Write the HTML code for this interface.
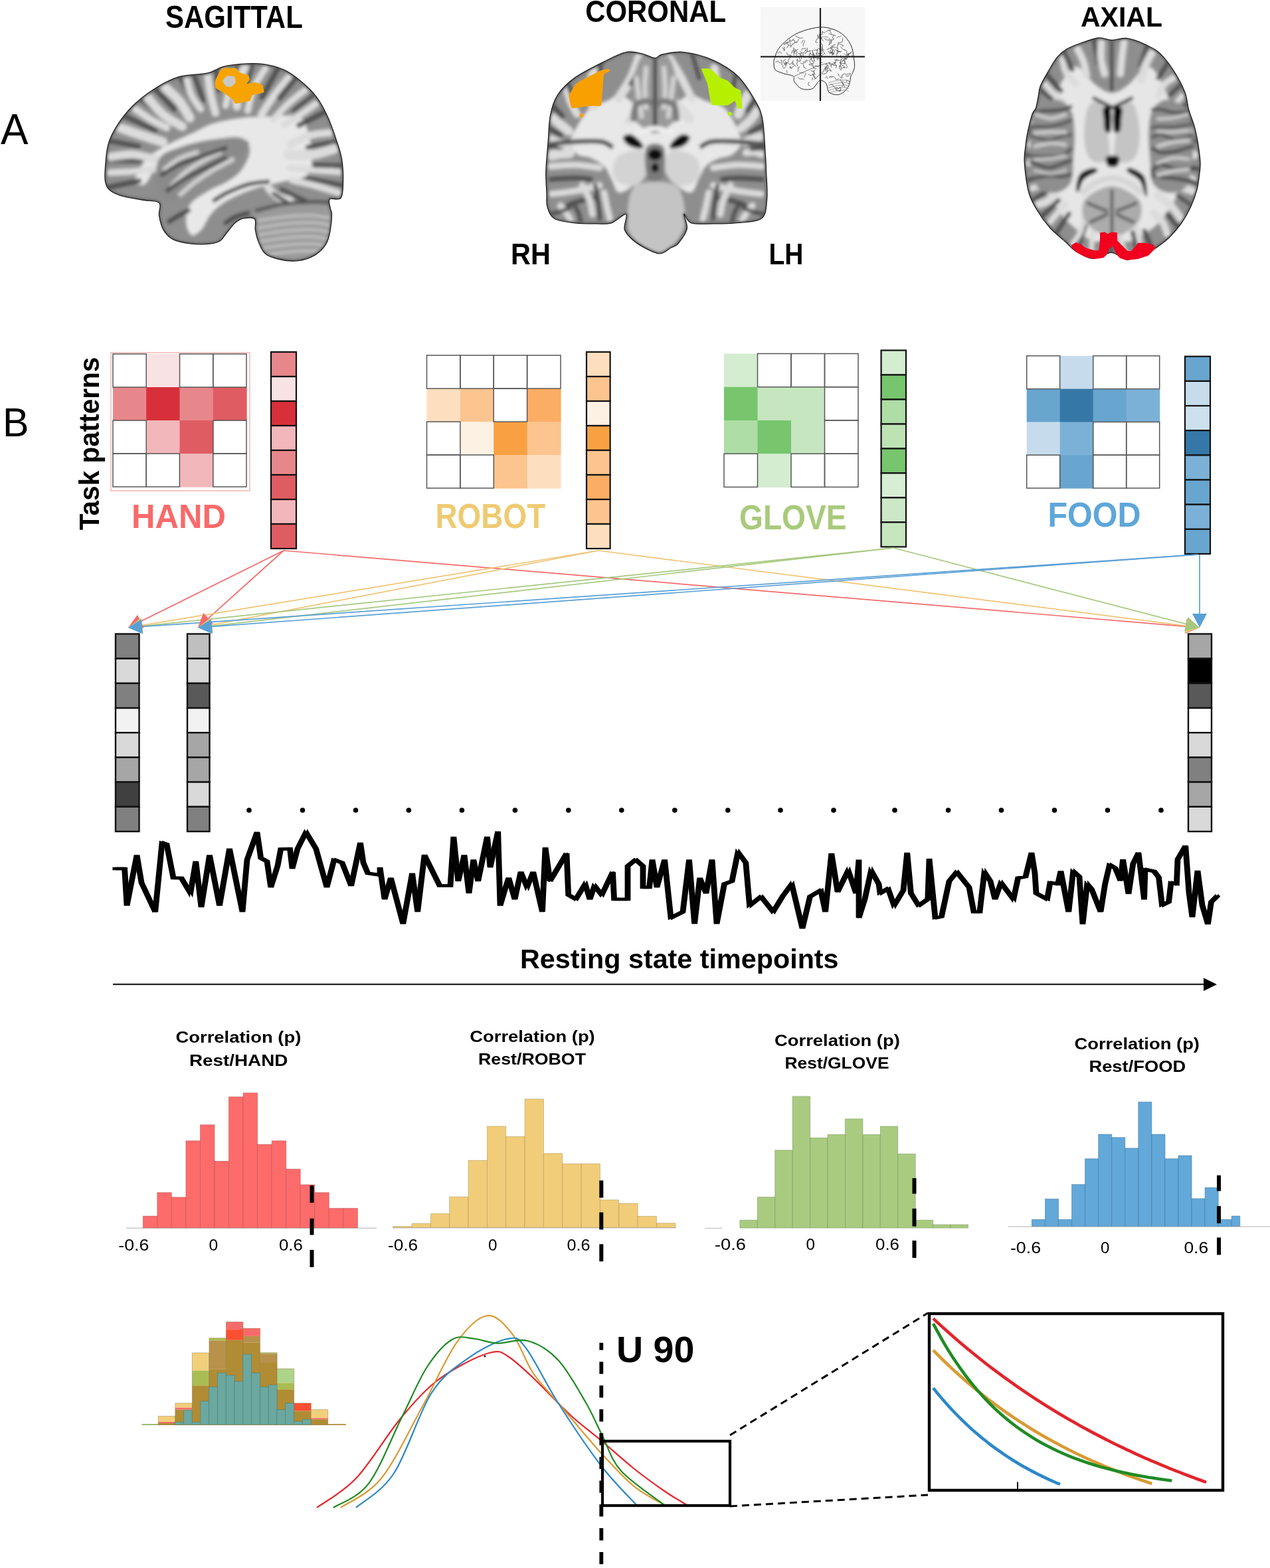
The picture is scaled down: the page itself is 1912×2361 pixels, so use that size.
<!DOCTYPE html>
<html><head><meta charset="utf-8"><title>Figure</title>
<style>html,body{margin:0;padding:0;background:#fff;}svg{display:block;}</style>
</head><body>
<svg width="1912" height="2361" viewBox="0 0 1912 2361">
<rect width="1912" height="2361" fill="#fff"/>
<g font-family="'Liberation Sans', Arial, sans-serif">
<text x="249" y="41.5" font-size="47.2" font-weight="bold" fill="#000" text-anchor="start" textLength="206.8" lengthAdjust="spacingAndGlyphs">SAGITTAL</text>
<text x="881.2" y="32.5" font-size="46.5" font-weight="bold" fill="#000" text-anchor="start" textLength="211.8" lengthAdjust="spacingAndGlyphs">CORONAL</text>
<text x="1627" y="39.6" font-size="42.8" font-weight="bold" fill="#000" text-anchor="start" textLength="123" lengthAdjust="spacingAndGlyphs">AXIAL</text>
<text x="769" y="397.6" font-size="44.7" font-weight="bold" fill="#000" text-anchor="start" textLength="59.9" lengthAdjust="spacingAndGlyphs">RH</text>
<text x="1157.4" y="397.6" font-size="44.7" font-weight="bold" fill="#000" text-anchor="start" textLength="52" lengthAdjust="spacingAndGlyphs">LH</text>
<text x="1" y="217.1" font-size="64.4" font-weight="normal" fill="#000" text-anchor="start" textLength="41.5" lengthAdjust="spacingAndGlyphs">A</text>
<text x="4" y="657.3" font-size="62" font-weight="normal" fill="#000" text-anchor="start" textLength="39.5" lengthAdjust="spacingAndGlyphs">B</text>
</g>
<defs>
<filter id="gb3" x="-5%" y="-5%" width="110%" height="110%"><feGaussianBlur stdDeviation="2.6"/></filter>
<filter id="gb2" x="-5%" y="-5%" width="110%" height="110%"><feGaussianBlur stdDeviation="1.6"/></filter>
<filter id="gb5" x="-5%" y="-5%" width="110%" height="110%"><feGaussianBlur stdDeviation="5"/></filter>
</defs>
<clipPath id="cpS"><path d="M158.5,252 C159.2,242.7 159.9,228.2 162.8,217.9 C165.6,207.6 169.5,199.8 175.6,190.2 C181.6,180.6 189.8,169.6 199,160.3 C208.3,151.1 219.3,142.2 231,134.8 C242.7,127.3 255.9,119.7 269.4,115.6 C282.9,111.5 301,112.7 312,110.2 C323,107.8 326.9,103 335.4,100.7 C343.9,98.3 353.2,97.1 363.1,96.4 C373.1,95.7 384.4,95 395.1,96.4 C405.8,97.8 417.5,100.7 427.1,104.9 C436.7,109.2 444.5,115.2 452.6,122 C460.8,128.7 469.3,136.5 476.1,145.4 C482.8,154.3 488.2,164.6 493.1,175.3 C498.1,185.9 502.4,198.7 505.9,209.4 C509.5,220 512.7,228.9 514.5,239.2 C516.2,249.5 516.8,261.4 516.6,271.2 C516.4,280.9 516.8,293 513.4,297.8 C510,302.6 499,297.3 496.3,299.9 C493.7,302.6 496.9,310.1 497.4,313.8 C497.9,317.5 499.5,317 499.5,322.3 C499.5,327.6 498.8,338.3 497.4,345.8 C496,353.2 494.9,360.7 491,367.1 C487.1,373.5 481.1,379.9 474,384.1 C466.9,388.4 457.3,391.6 448.4,392.6 C439.5,393.7 428.8,392.3 420.7,390.5 C412.5,388.7 404.7,386.6 399.4,382 C394,377.4 391.2,368.8 388.7,362.8 C386.2,356.8 385.3,351.3 384.4,345.8 C383.6,340.2 386.2,332.6 383.4,329.8 C380.5,326.9 372.2,327.8 367.4,328.7 C362.6,329.6 358.9,331.5 354.6,335.1 C350.3,338.7 345.7,345.4 341.8,350 C337.9,354.6 335.4,360 331.2,362.8 C326.9,365.6 323.3,366.4 316.2,367.1 C309.1,367.8 297.8,368.1 288.5,367.1 C279.3,366 267.9,364.2 260.8,360.7 C253.7,357.1 249.5,351.8 245.9,345.8 C242.4,339.7 240.6,331.2 239.5,324.4 C238.4,317.7 243.8,309.2 239.5,305.3 C235.3,301.4 223.5,302.8 213.9,301 C204.3,299.2 190.1,297.1 182,294.6 C173.8,292.1 168.8,289.6 164.9,286.1 C161,282.5 159.6,279 158.5,273.3 C157.5,267.6 157.8,261.2 158.5,252Z"/></clipPath>
<g clip-path="url(#cpS)">
<path d="M158.5,252 C159.2,242.7 159.9,228.2 162.8,217.9 C165.6,207.6 169.5,199.8 175.6,190.2 C181.6,180.6 189.8,169.6 199,160.3 C208.3,151.1 219.3,142.2 231,134.8 C242.7,127.3 255.9,119.7 269.4,115.6 C282.9,111.5 301,112.7 312,110.2 C323,107.8 326.9,103 335.4,100.7 C343.9,98.3 353.2,97.1 363.1,96.4 C373.1,95.7 384.4,95 395.1,96.4 C405.8,97.8 417.5,100.7 427.1,104.9 C436.7,109.2 444.5,115.2 452.6,122 C460.8,128.7 469.3,136.5 476.1,145.4 C482.8,154.3 488.2,164.6 493.1,175.3 C498.1,185.9 502.4,198.7 505.9,209.4 C509.5,220 512.7,228.9 514.5,239.2 C516.2,249.5 516.8,261.4 516.6,271.2 C516.4,280.9 516.8,293 513.4,297.8 C510,302.6 499,297.3 496.3,299.9 C493.7,302.6 496.9,310.1 497.4,313.8 C497.9,317.5 499.5,317 499.5,322.3 C499.5,327.6 498.8,338.3 497.4,345.8 C496,353.2 494.9,360.7 491,367.1 C487.1,373.5 481.1,379.9 474,384.1 C466.9,388.4 457.3,391.6 448.4,392.6 C439.5,393.7 428.8,392.3 420.7,390.5 C412.5,388.7 404.7,386.6 399.4,382 C394,377.4 391.2,368.8 388.7,362.8 C386.2,356.8 385.3,351.3 384.4,345.8 C383.6,340.2 386.2,332.6 383.4,329.8 C380.5,326.9 372.2,327.8 367.4,328.7 C362.6,329.6 358.9,331.5 354.6,335.1 C350.3,338.7 345.7,345.4 341.8,350 C337.9,354.6 335.4,360 331.2,362.8 C326.9,365.6 323.3,366.4 316.2,367.1 C309.1,367.8 297.8,368.1 288.5,367.1 C279.3,366 267.9,364.2 260.8,360.7 C253.7,357.1 249.5,351.8 245.9,345.8 C242.4,339.7 240.6,331.2 239.5,324.4 C238.4,317.7 243.8,309.2 239.5,305.3 C235.3,301.4 223.5,302.8 213.9,301 C204.3,299.2 190.1,297.1 182,294.6 C173.8,292.1 168.8,289.6 164.9,286.1 C161,282.5 159.6,279 158.5,273.3 C157.5,267.6 157.8,261.2 158.5,252Z" fill="#8e8e8e"/>
<g filter="url(#gb3)">
<path d="M203.3,271.2 C203.6,264.8 212.2,248.1 220.3,239.2 C228.5,230.3 240.9,224.3 252.3,217.9 C263.7,211.5 277.2,206.2 288.5,200.8 C299.9,195.5 308.1,189.8 320.5,185.9 C332.9,182 348.9,179.2 363.1,177.4 C377.3,175.6 391.5,175.6 405.8,175.3 C420,174.9 438.8,171.7 448.4,175.3 C458,178.8 459.7,185.9 463.3,196.6 C466.9,207.2 470,227.8 469.7,239.2 C469.3,250.6 468.3,259.1 461.2,264.8 C454.1,270.4 439.9,270.1 427.1,273.3 C414.3,276.5 396.9,280 384.4,283.9 C372,287.9 361.4,292.5 352.5,296.7 C343.6,301 337.2,304.9 331.2,309.5 C325.1,314.1 320.9,318.4 316.2,324.4 C311.6,330.5 308.1,340.8 303.5,345.8 C298.8,350.7 292.4,356.1 288.5,354.3 C284.6,352.5 280.4,342.9 280,335.1 C279.7,327.3 281.1,315.2 286.4,307.4 C291.7,299.6 302.7,293.9 312,288.2 C321.2,282.5 333.3,278.6 341.8,273.3 C350.3,268 357.4,263.7 363.1,256.2 C368.8,248.8 375.2,236.3 375.9,228.5 C376.6,220.7 373.1,212.9 367.4,209.4 C361.7,205.8 353.2,205.8 341.8,207.2 C330.4,208.6 312.7,213.6 299.2,217.9 C285.7,222.1 271.5,227.1 260.8,232.8 C250.2,238.5 242.4,244.5 235.3,252 C228.1,259.4 223.5,274.4 218.2,277.6 C212.9,280.8 202.9,277.6 203.3,271.2Z" fill="#e8e8e8"/>
<path d="M435.8,252.8 C442,253.4 460.5,255.3 472.8,256.3 C485.1,257.3 503.7,258.5 509.9,258.9" fill="none" stroke="#dcdcdc" stroke-width="10" stroke-linecap="round"/>
<path d="M462.1,268.6 C471.4,270.4 508.4,277.5 517.6,279.3" fill="none" stroke="#4f4f4f" stroke-width="6.5" stroke-linecap="round"/>
<path d="M439.8,271.7 C445.7,273.1 463.5,276.9 475.2,280 C486.9,283.2 504.3,288.7 510.1,290.4" fill="none" stroke="#dcdcdc" stroke-width="10.1" stroke-linecap="round"/>
<path d="M423.4,285.1 C429.7,288.1 454.6,300.1 460.8,303.1" fill="none" stroke="#4f4f4f" stroke-width="5.8" stroke-linecap="round"/>
<path d="M403.2,282.2 C405.6,284.5 411.9,292.4 417.4,295.7 C422.9,298.9 433.1,300.7 436.2,301.7" fill="none" stroke="#dcdcdc" stroke-width="11.7" stroke-linecap="round"/>
<path d="M412.1,291.8 C416,294.4 431.7,304.6 435.6,307.1" fill="none" stroke="#4f4f4f" stroke-width="6" stroke-linecap="round"/>
<path d="M209.4,272.3 C201.4,274 169,280.8 161,282.5" fill="none" stroke="#4f4f4f" stroke-width="7.5" stroke-linecap="round"/>
<path d="M238.6,253.7 C232.5,254.4 214.3,256.9 202.1,257.9 C189.9,259 171.6,259.6 165.4,259.9" fill="none" stroke="#dcdcdc" stroke-width="10.2" stroke-linecap="round"/>
<path d="M213.3,242.2 C204,242 167.1,241.2 157.9,241" fill="none" stroke="#4f4f4f" stroke-width="6.5" stroke-linecap="round"/>
<path d="M232.9,239.5 C227.5,238.3 211.3,233.1 200.2,232.5 C189.2,231.9 172.4,235.4 166.8,236" fill="none" stroke="#dcdcdc" stroke-width="12.7" stroke-linecap="round"/>
<path d="M208.6,220.4 C201,219 170.9,213.3 163.4,211.9" fill="none" stroke="#4f4f4f" stroke-width="6.7" stroke-linecap="round"/>
<path d="M245.2,213.8 C239.9,212.1 223.8,207.2 213.2,203.7 C202.6,200.2 186.8,194.7 181.5,192.9" fill="none" stroke="#dcdcdc" stroke-width="14.7" stroke-linecap="round"/>
<path d="M234,196.2 C226,192.5 193.8,177.7 185.8,174" fill="none" stroke="#4f4f4f" stroke-width="7" stroke-linecap="round"/>
<path d="M250.9,192.3 C246.8,190.2 234.5,184.3 226.6,179.7 C218.8,175 207.7,167 203.9,164.5" fill="none" stroke="#dcdcdc" stroke-width="11.1" stroke-linecap="round"/>
<path d="M251.6,179 C244.8,174 217.5,153.6 210.7,148.5" fill="none" stroke="#4f4f4f" stroke-width="6.4" stroke-linecap="round"/>
<path d="M274.4,190.5 C269.6,187.4 254.3,179.5 245.5,172.2 C236.8,165 226.1,151.2 222.2,147" fill="none" stroke="#dcdcdc" stroke-width="13.7" stroke-linecap="round"/>
<path d="M262.6,164.2 C257.5,158.9 237,137.5 231.9,132.2" fill="none" stroke="#4f4f4f" stroke-width="7.5" stroke-linecap="round"/>
<path d="M285.7,177.4 C283.1,173.3 276.4,160 270.3,152.4 C264.2,144.8 252.6,135.3 249.1,131.9" fill="none" stroke="#dcdcdc" stroke-width="14.4" stroke-linecap="round"/>
<path d="M290.5,152.3 C287.1,145.9 273.3,120.1 269.9,113.6" fill="none" stroke="#4f4f4f" stroke-width="6.3" stroke-linecap="round"/>
<path d="M302.1,164.2 C299.9,160.9 292,151.3 288.6,144 C285.2,136.8 282.8,124.5 281.7,120.6" fill="none" stroke="#dcdcdc" stroke-width="10.4" stroke-linecap="round"/>
<path d="M306,151 C303.6,144.3 293.9,117.5 291.5,110.8" fill="none" stroke="#4f4f4f" stroke-width="6.5" stroke-linecap="round"/>
<path d="M324.4,170 C323.2,165.4 319.2,151.7 317.3,142.4 C315.3,133.1 313.6,118.9 312.8,114.2" fill="none" stroke="#dcdcdc" stroke-width="11.9" stroke-linecap="round"/>
<path d="M328.8,136.1 C328.2,130.6 325.9,108.3 325.4,102.7" fill="none" stroke="#4f4f4f" stroke-width="7" stroke-linecap="round"/>
<path d="M339.7,159.2 C340.5,154.8 344.2,141.6 344.1,132.7 C344.1,123.8 340.3,110.5 339.6,106" fill="none" stroke="#dcdcdc" stroke-width="9.9" stroke-linecap="round"/>
<path d="M354.8,131.2 C355.6,125.2 358.7,101 359.5,95" fill="none" stroke="#4f4f4f" stroke-width="7.3" stroke-linecap="round"/>
<path d="M356.6,160.3 C356.7,155.2 355.5,139.5 357.4,129.6 C359.4,119.6 366.5,105.5 368.3,100.6" fill="none" stroke="#dcdcdc" stroke-width="13" stroke-linecap="round"/>
<path d="M368.5,139.7 C370.5,132.1 378.7,102 380.7,94.5" fill="none" stroke="#4f4f4f" stroke-width="5.6" stroke-linecap="round"/>
<path d="M373,166.4 C374.5,160.7 377.6,143.1 382.1,132.3 C386.6,121.6 397.1,106.9 400.1,101.8" fill="none" stroke="#dcdcdc" stroke-width="10.4" stroke-linecap="round"/>
<path d="M394.4,146.5 C398.6,138.9 415.4,108.5 419.6,100.9" fill="none" stroke="#4f4f4f" stroke-width="7.5" stroke-linecap="round"/>
<path d="M393.4,172.6 C396.6,167.8 405.9,152.8 412.9,143.3 C419.8,133.9 431.4,120.6 435.1,116" fill="none" stroke="#dcdcdc" stroke-width="11.5" stroke-linecap="round"/>
<path d="M420.7,147 C425,141.7 442.3,120.8 446.6,115.5" fill="none" stroke="#4f4f4f" stroke-width="7.8" stroke-linecap="round"/>
<path d="M411.2,179.9 C415,175.9 426,163.5 434.1,156.1 C442.3,148.6 455.6,138.7 459.9,135.2" fill="none" stroke="#dcdcdc" stroke-width="10.2" stroke-linecap="round"/>
<path d="M441.7,166.5 C447.1,162.2 469.1,145.3 474.6,141.1" fill="none" stroke="#4f4f4f" stroke-width="5.6" stroke-linecap="round"/>
<path d="M427.9,187.6 C431.9,185.1 444.2,177.7 452.2,172.5 C460.2,167.2 471.9,159 475.9,156.3" fill="none" stroke="#dcdcdc" stroke-width="10.4" stroke-linecap="round"/>
<path d="M450.1,188.6 C457,185.1 484.3,171.1 491.1,167.7" fill="none" stroke="#4f4f4f" stroke-width="7.7" stroke-linecap="round"/>
<path d="M437,217 C441.8,214.9 455.8,207 465.8,204.1 C475.8,201.2 492,200.4 497.2,199.7" fill="none" stroke="#dcdcdc" stroke-width="11.6" stroke-linecap="round"/>
<path d="M463.3,221.8 C471,220.4 501.5,214.7 509.1,213.2" fill="none" stroke="#4f4f4f" stroke-width="7.2" stroke-linecap="round"/>
<path d="M433.8,233 C439.7,233 457.6,234.6 469.2,233.1 C480.8,231.6 497.8,225.6 503.5,224.1" fill="none" stroke="#dcdcdc" stroke-width="14.9" stroke-linecap="round"/>
<path d="M473.8,248.7 C481,248.9 509.9,249.6 517.2,249.8" fill="none" stroke="#4f4f4f" stroke-width="7.1" stroke-linecap="round"/>
<path d="M239.5,239.2 C245.2,229.2 257.6,226.8 269.4,222.1 C281.1,217.5 296,214 309.8,211.5 C323.7,209 341.8,206.9 352.5,207.2 C363.1,207.6 370.6,210.4 373.8,213.6 C377,216.8 374.1,222.1 371.7,226.4 C369.2,230.7 364.5,234.9 358.9,239.2 C353.2,243.5 345.4,247 337.6,252 C329.7,257 320.1,263 312,269 C303.8,275.1 295.6,283.2 288.5,288.2 C281.4,293.2 275.7,296.7 269.4,298.9 C263,301 255.9,303.8 250.2,301 C244.5,298.2 237,292.1 235.3,281.8 C233.5,271.5 233.8,249.1 239.5,239.2Z" fill="#8a8a8a"/>
<path d="M256.6,281.8 C260.1,278.3 270.1,266.9 277.9,260.5 C285.7,254.1 294.2,248.8 303.5,243.5 C312.7,238.1 328.3,231 333.3,228.5" fill="none" stroke="#d0d0d0" stroke-width="7"/>
<path d="M269.4,294.6 C273.6,291.1 286.4,279.7 294.9,273.3 C303.5,266.9 310.9,261.9 320.5,256.2 C330.1,250.6 347.1,242 352.5,239.2" fill="none" stroke="#d0d0d0" stroke-width="7"/>
<path d="M245.9,256.2 C249.8,253.4 260.5,243.8 269.4,239.2 C278.2,234.6 294.2,230.3 299.2,228.5" fill="none" stroke="#d0d0d0" stroke-width="7"/>
<path d="M241.6,264.8 C246.3,261.9 259.8,252.3 269.4,247.7 C278.9,243.1 287.1,241.3 299.2,237.1 C311.3,232.8 334.7,224.6 341.8,222.1" fill="none" stroke="#4a4a4a" stroke-width="6"/>
<path d="M250.2,288.2 C254.8,285 268.3,274.7 277.9,269 C287.5,263.3 297.1,259.4 307.7,254.1 C318.4,248.8 336.1,239.9 341.8,237.1" fill="none" stroke="#4a4a4a" stroke-width="6"/>
<path d="M320.5,303.1 C324.1,301 332.9,294.6 341.8,290.3 C350.7,286.1 363.1,280.4 373.8,277.6 C384.4,274.7 400.4,274 405.8,273.3" fill="none" stroke="#4a4a4a" stroke-width="6"/>
<path d="M252.3,335.1 C255.1,333.3 263.7,327.6 269.4,324.4 C275,321.2 283.6,317.3 286.4,315.9" fill="none" stroke="#4a4a4a" stroke-width="6"/>
<path d="M337.6,337.2 C340.4,335.5 348.2,329.4 354.6,326.6 C361,323.7 372.4,321.2 375.9,320.2" fill="none" stroke="#4a4a4a" stroke-width="6"/>
<path d="M384.4,320.2 C391.5,314.1 412.9,312 427.1,309.5 C441.3,307 457.6,304.9 469.7,305.3 C481.8,305.6 494.4,304.9 499.5,311.7 C504.7,318.4 502,336.5 500.6,345.8 C499.2,355 495.4,360.7 491,367.1 C486.6,373.5 481.1,379.9 474,384.1 C466.9,388.4 457.3,391.6 448.4,392.6 C439.5,393.7 428.8,392.3 420.7,390.5 C412.5,388.7 404.7,386.6 399.4,382 C394,377.4 391.2,368.8 388.7,362.8 C386.2,356.8 385.2,352.9 384.4,345.8 C383.7,338.7 377.3,326.2 384.4,320.2Z" fill="#9a9a9a"/>
<path d="M386.6,333 C393.3,331.9 413.2,328 427.1,326.6 C440.9,325.2 457.6,324.1 469.7,324.4 C481.8,324.8 494.6,328 499.5,328.7" fill="none" stroke="#c8c8c8" stroke-width="3.5"/>
<path d="M386.6,343.6 C393.3,342.6 413.2,338.7 427.1,337.2 C440.9,335.8 457.6,334.7 469.7,335.1 C481.8,335.5 494.6,338.7 499.5,339.4" fill="none" stroke="#c8c8c8" stroke-width="3.5"/>
<path d="M386.6,354.3 C393.3,353.2 413.2,349.3 427.1,347.9 C440.9,346.5 457.6,345.4 469.7,345.8 C481.8,346.1 494.6,349.3 499.5,350" fill="none" stroke="#c8c8c8" stroke-width="3.5"/>
<path d="M386.6,364.9 C393.3,363.9 413.2,360 427.1,358.5 C440.9,357.1 457.6,356.1 469.7,356.4 C481.8,356.8 494.6,360 499.5,360.7" fill="none" stroke="#c8c8c8" stroke-width="3.5"/>
<path d="M386.6,375.6 C393.3,374.5 413.2,370.6 427.1,369.2 C440.9,367.8 457.6,366.7 469.7,367.1 C481.8,367.4 494.6,370.6 499.5,371.3" fill="none" stroke="#c8c8c8" stroke-width="3.5"/>
<path d="M386.6,386.2 C393.3,385.2 413.2,381.3 427.1,379.9 C440.9,378.4 457.6,377.4 469.7,377.7 C481.8,378.1 494.6,381.3 499.5,382" fill="none" stroke="#c8c8c8" stroke-width="3.5"/>
<path d="M384.4,318 C391.5,316.3 412.9,309.7 427.1,307.4 C441.3,305.1 457.6,304.5 469.7,304.2 C481.8,303.8 494.6,305.1 499.5,305.3" fill="none" stroke="#505050" stroke-width="5"/>
</g>
<path d="M158.5,252 C159.2,242.7 159.9,228.2 162.8,217.9 C165.6,207.6 169.5,199.8 175.6,190.2 C181.6,180.6 189.8,169.6 199,160.3 C208.3,151.1 219.3,142.2 231,134.8 C242.7,127.3 255.9,119.7 269.4,115.6 C282.9,111.5 301,112.7 312,110.2 C323,107.8 326.9,103 335.4,100.7 C343.9,98.3 353.2,97.1 363.1,96.4 C373.1,95.7 384.4,95 395.1,96.4 C405.8,97.8 417.5,100.7 427.1,104.9 C436.7,109.2 444.5,115.2 452.6,122 C460.8,128.7 469.3,136.5 476.1,145.4 C482.8,154.3 488.2,164.6 493.1,175.3 C498.1,185.9 502.4,198.7 505.9,209.4 C509.5,220 512.7,228.9 514.5,239.2 C516.2,249.5 516.8,261.4 516.6,271.2 C516.4,280.9 516.8,293 513.4,297.8 C510,302.6 499,297.3 496.3,299.9 C493.7,302.6 496.9,310.1 497.4,313.8 C497.9,317.5 499.5,317 499.5,322.3 C499.5,327.6 498.8,338.3 497.4,345.8 C496,353.2 494.9,360.7 491,367.1 C487.1,373.5 481.1,379.9 474,384.1 C466.9,388.4 457.3,391.6 448.4,392.6 C439.5,393.7 428.8,392.3 420.7,390.5 C412.5,388.7 404.7,386.6 399.4,382 C394,377.4 391.2,368.8 388.7,362.8 C386.2,356.8 385.3,351.3 384.4,345.8 C383.6,340.2 386.2,332.6 383.4,329.8 C380.5,326.9 372.2,327.8 367.4,328.7 C362.6,329.6 358.9,331.5 354.6,335.1 C350.3,338.7 345.7,345.4 341.8,350 C337.9,354.6 335.4,360 331.2,362.8 C326.9,365.6 323.3,366.4 316.2,367.1 C309.1,367.8 297.8,368.1 288.5,367.1 C279.3,366 267.9,364.2 260.8,360.7 C253.7,357.1 249.5,351.8 245.9,345.8 C242.4,339.7 240.6,331.2 239.5,324.4 C238.4,317.7 243.8,309.2 239.5,305.3 C235.3,301.4 223.5,302.8 213.9,301 C204.3,299.2 190.1,297.1 182,294.6 C173.8,292.1 168.8,289.6 164.9,286.1 C161,282.5 159.6,279 158.5,273.3 C157.5,267.6 157.8,261.2 158.5,252Z" fill="none" stroke="#555" stroke-width="5" filter="url(#gb2)" opacity="0.6"/>
</g>
<path d="M158.5,252 C159.2,242.7 159.9,228.2 162.8,217.9 C165.6,207.6 169.5,199.8 175.6,190.2 C181.6,180.6 189.8,169.6 199,160.3 C208.3,151.1 219.3,142.2 231,134.8 C242.7,127.3 255.9,119.7 269.4,115.6 C282.9,111.5 301,112.7 312,110.2 C323,107.8 326.9,103 335.4,100.7 C343.9,98.3 353.2,97.1 363.1,96.4 C373.1,95.7 384.4,95 395.1,96.4 C405.8,97.8 417.5,100.7 427.1,104.9 C436.7,109.2 444.5,115.2 452.6,122 C460.8,128.7 469.3,136.5 476.1,145.4 C482.8,154.3 488.2,164.6 493.1,175.3 C498.1,185.9 502.4,198.7 505.9,209.4 C509.5,220 512.7,228.9 514.5,239.2 C516.2,249.5 516.8,261.4 516.6,271.2 C516.4,280.9 516.8,293 513.4,297.8 C510,302.6 499,297.3 496.3,299.9 C493.7,302.6 496.9,310.1 497.4,313.8 C497.9,317.5 499.5,317 499.5,322.3 C499.5,327.6 498.8,338.3 497.4,345.8 C496,353.2 494.9,360.7 491,367.1 C487.1,373.5 481.1,379.9 474,384.1 C466.9,388.4 457.3,391.6 448.4,392.6 C439.5,393.7 428.8,392.3 420.7,390.5 C412.5,388.7 404.7,386.6 399.4,382 C394,377.4 391.2,368.8 388.7,362.8 C386.2,356.8 385.3,351.3 384.4,345.8 C383.6,340.2 386.2,332.6 383.4,329.8 C380.5,326.9 372.2,327.8 367.4,328.7 C362.6,329.6 358.9,331.5 354.6,335.1 C350.3,338.7 345.7,345.4 341.8,350 C337.9,354.6 335.4,360 331.2,362.8 C326.9,365.6 323.3,366.4 316.2,367.1 C309.1,367.8 297.8,368.1 288.5,367.1 C279.3,366 267.9,364.2 260.8,360.7 C253.7,357.1 249.5,351.8 245.9,345.8 C242.4,339.7 240.6,331.2 239.5,324.4 C238.4,317.7 243.8,309.2 239.5,305.3 C235.3,301.4 223.5,302.8 213.9,301 C204.3,299.2 190.1,297.1 182,294.6 C173.8,292.1 168.8,289.6 164.9,286.1 C161,282.5 159.6,279 158.5,273.3 C157.5,267.6 157.8,261.2 158.5,252Z" fill="none" stroke="#1e1e1e" stroke-width="1.3"/>
<path d="M324.8,119.8 C325.3,118.6 330.4,108.2 331.2,107.1 C331.9,105.9 333.9,103.1 335.4,102.8 C337,102.5 352.9,102.4 354.6,102.8 C356.3,103.2 359.7,108.5 361,109.2 C362.3,109.9 372.8,112.7 373.8,113.4 C374.8,114.2 376.1,119 375.9,119.8 C375.8,120.7 371.1,125.9 371.7,126.2 C372.2,126.5 382.9,124 384.4,124.1 C386,124.2 394.2,127.4 395.1,128.4 C396,129.4 398.2,138 397.2,139 C396.2,140 381.6,142.4 380.2,143.3 C378.8,144.1 377.6,151 375.9,151.8 C374.2,152.7 356.3,156.2 354.6,156.1 C352.9,155.9 351.6,150.8 350.3,149.7 C349.1,148.5 337.1,140.2 335.4,139 C333.7,137.9 325.5,133.5 324.8,132.6 C324,131.8 323.7,127.1 323.7,126.2 C323.7,125.4 324.3,121.1 324.8,119.8Z" fill="#f7a400"/>
<path d="M335.4,122 C335.6,120.5 340.1,115.1 341.8,114.5 C343.5,113.9 351.2,114.6 352.5,115.6 C353.8,116.5 355,122.6 354.6,124.1 C354.2,125.6 349.7,130 348.2,130.5 C346.7,131 341,130.3 339.7,129.4 C338.4,128.6 335.2,123.5 335.4,122Z" fill="#c9c9c9"/>
<clipPath id="cpC"><path d="M986.1,87.4 C981,87.2 973.7,82.3 966.4,80.8 C959.1,79.3 951.8,76.6 942.3,78.6 C932.8,80.6 922.2,86.5 909.5,92.8 C896.7,99.2 877.3,108.5 865.7,116.9 C854,125.3 845.6,133.7 839.4,143.2 C833.2,152.7 830.8,162.2 828.5,173.8 C826.1,185.5 826.3,199.4 825.2,213.2 C824.1,227.1 822.3,244.3 821.9,257 C821.5,269.8 822.6,280.7 823,289.9 C823.4,299 822.1,305.2 824.1,311.8 C826.1,318.3 828.1,325.3 835,329.3 C842,333.3 855.1,334.6 865.7,335.8 C876.3,337.1 889.4,336.9 898.5,336.9 C907.6,336.9 913.1,338.2 920.4,335.8 C927.7,333.5 939,321.2 942.3,322.7 C945.6,324.2 939,338.8 940.1,344.6 C941.2,350.4 944.5,353.3 948.9,357.7 C953.2,362.1 959.1,366.8 966.4,370.9 C973.7,374.9 985.3,381.4 992.6,381.8 C999.9,382.2 1005.4,375.6 1010.2,373 C1014.9,370.5 1017.1,371.2 1021.1,366.5 C1025.1,361.7 1032.8,351.9 1034.2,344.6 C1035.7,337.3 1028.8,324.2 1029.9,322.7 C1031,321.2 1033.5,333.5 1040.8,335.8 C1048.1,338.2 1062.7,336.9 1073.6,336.9 C1084.6,336.9 1094.4,337.1 1106.5,335.8 C1118.5,334.6 1137.9,335.1 1145.9,329.3 C1153.9,323.4 1153.4,312.8 1154.6,300.8 C1155.9,288.8 1153.9,268 1153.5,257 C1153.2,246.1 1153.4,247.9 1152.5,235.1 C1151.5,222.4 1150.6,194.3 1148.1,180.4 C1145.5,166.5 1143.3,162.9 1137.1,151.9 C1130.9,141 1121.4,124.9 1110.9,114.7 C1100.3,104.5 1087.1,96.7 1073.6,90.6 C1060.1,84.6 1042.6,80.1 1029.9,78.6 C1017.1,77.1 1004.3,80.4 997,81.9 C989.7,83.4 991.2,87.5 986.1,87.4Z"/></clipPath>
<g clip-path="url(#cpC)">
<path d="M986.1,87.4 C981,87.2 973.7,82.3 966.4,80.8 C959.1,79.3 951.8,76.6 942.3,78.6 C932.8,80.6 922.2,86.5 909.5,92.8 C896.7,99.2 877.3,108.5 865.7,116.9 C854,125.3 845.6,133.7 839.4,143.2 C833.2,152.7 830.8,162.2 828.5,173.8 C826.1,185.5 826.3,199.4 825.2,213.2 C824.1,227.1 822.3,244.3 821.9,257 C821.5,269.8 822.6,280.7 823,289.9 C823.4,299 822.1,305.2 824.1,311.8 C826.1,318.3 828.1,325.3 835,329.3 C842,333.3 855.1,334.6 865.7,335.8 C876.3,337.1 889.4,336.9 898.5,336.9 C907.6,336.9 913.1,338.2 920.4,335.8 C927.7,333.5 939,321.2 942.3,322.7 C945.6,324.2 939,338.8 940.1,344.6 C941.2,350.4 944.5,353.3 948.9,357.7 C953.2,362.1 959.1,366.8 966.4,370.9 C973.7,374.9 985.3,381.4 992.6,381.8 C999.9,382.2 1005.4,375.6 1010.2,373 C1014.9,370.5 1017.1,371.2 1021.1,366.5 C1025.1,361.7 1032.8,351.9 1034.2,344.6 C1035.7,337.3 1028.8,324.2 1029.9,322.7 C1031,321.2 1033.5,333.5 1040.8,335.8 C1048.1,338.2 1062.7,336.9 1073.6,336.9 C1084.6,336.9 1094.4,337.1 1106.5,335.8 C1118.5,334.6 1137.9,335.1 1145.9,329.3 C1153.9,323.4 1153.4,312.8 1154.6,300.8 C1155.9,288.8 1153.9,268 1153.5,257 C1153.2,246.1 1153.4,247.9 1152.5,235.1 C1151.5,222.4 1150.6,194.3 1148.1,180.4 C1145.5,166.5 1143.3,162.9 1137.1,151.9 C1130.9,141 1121.4,124.9 1110.9,114.7 C1100.3,104.5 1087.1,96.7 1073.6,90.6 C1060.1,84.6 1042.6,80.1 1029.9,78.6 C1017.1,77.1 1004.3,80.4 997,81.9 C989.7,83.4 991.2,87.5 986.1,87.4Z" fill="#8e8e8e"/>
<g filter="url(#gb3)">
<path d="M865.7,195.7 C870.4,187 879.5,170.2 887.6,162.9 C895.6,155.6 906.5,155.2 913.8,151.9 C921.1,148.7 924.8,142.5 931.3,143.2 C937.9,143.9 947.4,148.3 953.2,156.3 C959.1,164.3 960.9,184.1 966.4,191.3 C971.8,198.6 979.5,200.1 986.1,200.1 C992.6,200.1 1000.3,198.6 1005.8,191.3 C1011.3,184.1 1013.1,164.3 1018.9,156.3 C1024.8,148.3 1033.5,143.9 1040.8,143.2 C1048.1,142.5 1054.3,148.7 1062.7,151.9 C1071.1,155.2 1083.1,155.6 1091.2,162.9 C1099.2,170.2 1106.8,186.6 1110.9,195.7 C1114.9,204.8 1116.7,211.4 1115.2,217.6 C1113.8,223.8 1107.9,229.3 1102.1,232.9 C1096.3,236.6 1086.8,236.6 1080.2,239.5 C1073.6,242.4 1067.4,245.3 1062.7,250.5 C1058,255.6 1055.4,263.6 1051.8,270.2 C1048.1,276.7 1046.3,288.4 1040.8,289.9 C1035.3,291.3 1024.4,284.4 1018.9,278.9 C1013.4,273.4 1013.4,263.6 1008,257 C1002.5,250.5 993.4,239.5 986.1,239.5 C978.8,239.5 969.7,250.5 964.2,257 C958.7,263.6 958.7,273.4 953.2,278.9 C947.8,284.4 936.8,291.3 931.3,289.9 C925.9,288.4 924.1,276.7 920.4,270.2 C916.8,263.6 914.9,255.9 909.5,250.5 C904,245 894.1,240.2 887.6,237.3 C881,234.4 874.8,236.6 870.1,232.9 C865.3,229.3 859.8,221.6 859.1,215.4 C858.4,209.2 860.9,204.5 865.7,195.7Z" fill="#e8e8e8"/>
<path d="M857.5,230.5 C855.2,230.6 848.4,230.8 843.9,231.4 C839.4,231.9 832.7,233.3 830.5,233.7" fill="none" stroke="#dcdcdc" stroke-width="16" stroke-linecap="round"/>
<path d="M844.5,222.8 C840.8,222.6 826.2,221.5 822.6,221.2" fill="none" stroke="#4f4f4f" stroke-width="5.6" stroke-linecap="round"/>
<path d="M858.4,217.2 C855.9,217 848.4,216.9 843.6,215.7 C838.9,214.4 832.3,210.6 830,209.5" fill="none" stroke="#dcdcdc" stroke-width="11.8" stroke-linecap="round"/>
<path d="M844.4,202.7 C841.2,201.1 828.2,194.7 825,193.1" fill="none" stroke="#4f4f4f" stroke-width="8" stroke-linecap="round"/>
<path d="M856.1,197.2 C854.1,195.7 848.1,191.1 844.2,187.9 C840.3,184.8 834.6,179.8 832.7,178.2" fill="none" stroke="#dcdcdc" stroke-width="14.3" stroke-linecap="round"/>
<path d="M846.1,175.1 C843.7,172.5 834.2,161.8 831.8,159.1" fill="none" stroke="#4f4f4f" stroke-width="8.4" stroke-linecap="round"/>
<path d="M868.8,172 C867.3,169.1 862.1,160.6 859.6,154.5 C857,148.5 854.4,138.9 853.4,135.7" fill="none" stroke="#dcdcdc" stroke-width="11.7" stroke-linecap="round"/>
<path d="M864.1,151.2 C862.5,146.9 856.2,129.7 854.6,125.4" fill="none" stroke="#4f4f4f" stroke-width="6.7" stroke-linecap="round"/>
<path d="M893.1,159 C892.5,154.7 888.8,142.1 889,133.6 C889.1,125.1 893.2,112.4 894.1,108.1" fill="none" stroke="#dcdcdc" stroke-width="15.4" stroke-linecap="round"/>
<path d="M901.4,125.5 C901.9,120.2 903.9,99 904.4,93.7" fill="none" stroke="#4f4f4f" stroke-width="6.9" stroke-linecap="round"/>
<path d="M931.4,147.7 C934.5,142.7 945,128.2 950.3,117.7 C955.6,107.1 961,90 963.1,84.4" fill="none" stroke="#dcdcdc" stroke-width="14.1" stroke-linecap="round"/>
<path d="M949.7,126.7 C954,119.2 971.4,89.3 975.7,81.9" fill="none" stroke="#4f4f4f" stroke-width="6.5" stroke-linecap="round"/>
<path d="M946.1,181.6 C948.8,178.6 955.9,168.7 962,163.6 C968.1,158.6 979.3,153.4 982.7,151.4" fill="none" stroke="#dcdcdc" stroke-width="11.8" stroke-linecap="round"/>
<path d="M963.6,169.5 C967.6,166.3 983.6,153.7 987.6,150.5" fill="none" stroke="#4f4f4f" stroke-width="6.1" stroke-linecap="round"/>
<path d="M1123.2,230 C1125.2,229.8 1131.3,228.3 1135.2,228.7 C1139.1,229.1 1144.9,231.7 1146.9,232.3" fill="none" stroke="#dcdcdc" stroke-width="11.2" stroke-linecap="round"/>
<path d="M1037.3,177.7 C1033.7,173.9 1022.8,162.6 1015.4,155 C1008.1,147.5 997,136.2 993.4,132.4" fill="none" stroke="#dcdcdc" stroke-width="15.8" stroke-linecap="round"/>
<path d="M1011.3,142.6 C1007.6,138.3 992.8,121.5 989.1,117.3" fill="none" stroke="#4f4f4f" stroke-width="8.3" stroke-linecap="round"/>
<path d="M1041.5,148.3 C1038.8,143.1 1031.4,127 1025.7,116.6 C1020,106.3 1010.3,91.4 1007.2,86.3" fill="none" stroke="#dcdcdc" stroke-width="12.2" stroke-linecap="round"/>
<path d="M1052.8,117.8 C1051,111.5 1043.7,86.5 1041.8,80.2" fill="none" stroke="#4f4f4f" stroke-width="5.7" stroke-linecap="round"/>
<path d="M1079.1,151.3 C1078.9,147.2 1078.8,134.9 1078.2,126.8 C1077.6,118.6 1075.9,106.5 1075.5,102.4" fill="none" stroke="#dcdcdc" stroke-width="12.9" stroke-linecap="round"/>
<path d="M1101,145.6 C1102.1,140.1 1106.5,118.4 1107.6,112.9" fill="none" stroke="#4f4f4f" stroke-width="5.7" stroke-linecap="round"/>
<path d="M1111.5,172.3 C1112.6,169.7 1115.5,161.7 1118,156.6 C1120.6,151.6 1125.2,144.4 1126.6,141.9" fill="none" stroke="#dcdcdc" stroke-width="14.3" stroke-linecap="round"/>
<path d="M1125.1,166.5 C1127.5,163 1137.1,148.7 1139.5,145.2" fill="none" stroke="#4f4f4f" stroke-width="7.5" stroke-linecap="round"/>
<path d="M1115.8,193.1 C1118.1,191.1 1125.5,185.6 1129.6,181.1 C1133.8,176.7 1138.8,168.9 1140.6,166.5" fill="none" stroke="#dcdcdc" stroke-width="13.4" stroke-linecap="round"/>
<path d="M1129.4,200.2 C1133,198.1 1147.4,189.7 1151,187.6" fill="none" stroke="#4f4f4f" stroke-width="7.9" stroke-linecap="round"/>
<path d="M1121,213.8 C1123.1,212.9 1129.2,210.3 1133.4,208.9 C1137.6,207.4 1144,205.7 1146.1,205.1" fill="none" stroke="#dcdcdc" stroke-width="12.9" stroke-linecap="round"/>
<path d="M1131.8,223.9 C1135.5,223.7 1150.4,222.9 1154.1,222.7" fill="none" stroke="#4f4f4f" stroke-width="7.1" stroke-linecap="round"/>
<path d="M966.4,84.1 C971.8,77.9 979.5,88.5 986.1,88.5 C992.6,88.5 1000.3,77.9 1005.8,84.1 C1011.3,90.3 1017.5,109.3 1018.9,125.7 C1020.4,142.1 1020,171.6 1014.5,182.6 C1009.1,193.5 995.6,191.3 986.1,191.3 C976.6,191.3 963.1,193.5 957.6,182.6 C952.1,171.6 951.8,142.1 953.2,125.7 C954.7,109.3 960.9,90.3 966.4,84.1Z" fill="#9a9a9a"/>
<path d="M972.9,99.4 C972.6,104.9 970.8,121.3 970.8,132.2 C970.8,143.2 972.6,159.6 972.9,165.1" fill="none" stroke="#d4d4d4" stroke-width="7"/>
<path d="M999.2,99.4 C999.6,104.9 1001.4,121.3 1001.4,132.2 C1001.4,143.2 999.6,159.6 999.2,165.1" fill="none" stroke="#d4d4d4" stroke-width="7"/>
<path d="M957.6,114.7 C958.3,120.2 960.5,137 962,147.6 C963.5,158.1 965.6,173.1 966.4,178.2" fill="none" stroke="#d4d4d4" stroke-width="7"/>
<path d="M1014.5,114.7 C1013.8,120.2 1011.6,137 1010.2,147.6 C1008.7,158.1 1006.5,173.1 1005.8,178.2" fill="none" stroke="#d4d4d4" stroke-width="7"/>
<path d="M986.1,86.3 C986.1,96.5 986.1,128.6 986.1,147.6 C986.1,166.5 986.1,191.3 986.1,200.1" fill="none" stroke="#4a4a4a" stroke-width="6"/>
<path d="M953.2,182.6 C954,178.6 954,163.6 957.6,158.5 C961.3,153.4 971.1,151.9 975.1,151.9 C979.1,151.9 980.6,157.4 981.7,158.5" fill="none" stroke="#7a7a7a" stroke-width="9"/>
<path d="M1018.9,182.6 C1018.2,178.6 1018.2,163.6 1014.5,158.5 C1010.9,153.4 1001,151.9 997,151.9 C993,151.9 991.5,157.4 990.5,158.5" fill="none" stroke="#7a7a7a" stroke-width="9"/>
<path d="M957.6,200.1 C962.4,199 976.6,193.5 986.1,193.5 C995.6,193.5 1009.8,199 1014.5,200.1" fill="none" stroke="#eeeeee" stroke-width="8"/>
<path d="M931.3,235.1 C938.6,230 959.1,222.7 966.4,226.4 C973.7,230 976.6,248.3 975.1,257 C973.7,265.8 964.9,276 957.6,278.9 C950.3,281.8 937.2,278.2 931.3,274.5 C925.5,270.9 922.6,263.6 922.6,257 C922.6,250.5 924.1,240.2 931.3,235.1Z" fill="#d3d3d3"/>
<path d="M1045.2,235.1 C1037.9,230 1017.5,222.7 1010.2,226.4 C1002.9,230 999.9,248.3 1001.4,257 C1002.9,265.8 1011.6,276 1018.9,278.9 C1026.2,281.8 1039.3,278.2 1045.2,274.5 C1051,270.9 1053.9,263.6 1053.9,257 C1053.9,250.5 1052.5,240.2 1045.2,235.1Z" fill="#d3d3d3"/>
<path d="M824.1,217.6 C831,216.9 852.2,214 865.7,213.2 C879.2,212.5 895.6,211.8 905.1,213.2 C914.6,214.7 919.7,220.5 922.6,222" fill="none" stroke="#4f4f4f" stroke-width="7"/>
<path d="M1152.5,217.6 C1145.5,216.9 1124.4,214 1110.9,213.2 C1097.4,212.5 1080.9,211.8 1071.5,213.2 C1062,214.7 1056.9,220.5 1053.9,222" fill="none" stroke="#4f4f4f" stroke-width="7"/>
<path d="M826.3,270.2 C832.8,269.8 854.7,268 865.7,268 C876.6,268 887.6,269.8 891.9,270.2" fill="none" stroke="#4f4f4f" stroke-width="7"/>
<path d="M1150.3,270.2 C1143.7,269.8 1121.8,268 1110.9,268 C1099.9,268 1089,269.8 1084.6,270.2" fill="none" stroke="#4f4f4f" stroke-width="7"/>
<path d="M843.8,313.9 C848.5,312.1 862.8,305.9 872.2,303 C881.7,300.1 896,297.5 900.7,296.4" fill="none" stroke="#4f4f4f" stroke-width="7"/>
<path d="M1132.7,313.9 C1128,312.1 1113.8,305.9 1104.3,303 C1094.8,300.1 1080.6,297.5 1075.8,296.4" fill="none" stroke="#4f4f4f" stroke-width="7"/>
<path d="M828.5,250.5 C834.7,250.1 853.3,247.9 865.7,248.3 C878.1,248.6 896.7,251.9 902.9,252.6" fill="none" stroke="#dadada" stroke-width="10" stroke-linecap="round"/>
<path d="M1148.1,250.5 C1141.9,250.1 1123.3,247.9 1110.9,248.3 C1098.5,248.6 1079.8,251.9 1073.6,252.6" fill="none" stroke="#dadada" stroke-width="10" stroke-linecap="round"/>
<path d="M830.6,292 C836.5,291.3 853.6,289.9 865.7,287.7 C877.7,285.5 896.7,280.4 902.9,278.9" fill="none" stroke="#dadada" stroke-width="10" stroke-linecap="round"/>
<path d="M1145.9,292 C1140,291.3 1122.9,289.9 1110.9,287.7 C1098.8,285.5 1079.8,280.4 1073.6,278.9" fill="none" stroke="#dadada" stroke-width="10" stroke-linecap="round"/>
<path d="M876.6,278.9 C878.4,282.6 885,293.5 887.6,300.8 C890.1,308.1 891.2,319 891.9,322.7" fill="none" stroke="#dadada" stroke-width="10" stroke-linecap="round"/>
<path d="M1099.9,278.9 C1098.1,282.6 1091.5,293.5 1089,300.8 C1086.4,308.1 1085.3,319 1084.6,322.7" fill="none" stroke="#dadada" stroke-width="10" stroke-linecap="round"/>
<path d="M909.5,289.9 C910.2,293.5 912.4,305.2 913.8,311.8 C915.3,318.3 917.5,326.3 918.2,329.3" fill="none" stroke="#dadada" stroke-width="10" stroke-linecap="round"/>
<path d="M1067.1,289.9 C1066.3,293.5 1064.2,305.2 1062.7,311.8 C1061.2,318.3 1059,326.3 1058.3,329.3" fill="none" stroke="#dadada" stroke-width="10" stroke-linecap="round"/>
<path d="M843.8,309.6 C845.2,311.4 850,316.9 852.5,320.5 C855.1,324.2 858,329.6 859.1,331.5" fill="none" stroke="#dadada" stroke-width="10" stroke-linecap="round"/>
<path d="M1132.7,309.6 C1131.3,311.4 1126.5,316.9 1124,320.5 C1121.4,324.2 1118.5,329.6 1117.4,331.5" fill="none" stroke="#dadada" stroke-width="10" stroke-linecap="round"/>
<path d="M896.3,278.9 C897.1,283.3 899.6,296.8 900.7,305.2 C901.8,313.6 902.5,325.3 902.9,329.3" fill="none" stroke="#505050" stroke-width="6" stroke-linecap="round"/>
<path d="M1080.2,278.9 C1079.5,283.3 1076.9,296.8 1075.8,305.2 C1074.7,313.6 1074,325.3 1073.6,329.3" fill="none" stroke="#505050" stroke-width="6" stroke-linecap="round"/>
<path d="M861.3,305.2 C862.8,307.4 867.9,313.6 870.1,318.3 C872.2,323.1 873.7,331.1 874.4,333.6" fill="none" stroke="#505050" stroke-width="6" stroke-linecap="round"/>
<path d="M1115.2,305.2 C1113.8,307.4 1108.7,313.6 1106.5,318.3 C1104.3,323.1 1102.8,331.1 1102.1,333.6" fill="none" stroke="#505050" stroke-width="6" stroke-linecap="round"/>
<path d="M826.3,322.7 C829.2,322 838.7,319.8 843.8,318.3 C848.9,316.9 854.7,314.7 856.9,313.9" fill="none" stroke="#505050" stroke-width="6" stroke-linecap="round"/>
<path d="M1150.3,322.7 C1147.3,322 1137.9,319.8 1132.7,318.3 C1127.6,316.9 1121.8,314.7 1119.6,313.9" fill="none" stroke="#505050" stroke-width="6" stroke-linecap="round"/>
<path d="M957.6,278.9 C969.7,271.6 1004.3,271.6 1016.7,278.9 C1029.1,286.2 1030.2,311 1032,322.7 C1033.9,334.4 1031.3,340.6 1027.7,349 C1024,357.4 1016,367.6 1010.2,373 C1004.3,378.5 999.9,382.2 992.6,381.8 C985.3,381.4 973.7,375.6 966.4,370.9 C959.1,366.1 952.5,361.4 948.9,353.3 C945.2,345.3 943,335.1 944.5,322.7 C945.9,310.3 945.6,286.2 957.6,278.9Z" fill="#c4c4c4"/>
<path d="M937.9,206.7 C938.6,204.1 944.8,201.6 948.9,202.3 C952.9,203 958.7,207.8 962,211.1 C965.3,214.3 969.3,220 968.6,222 C967.8,224 961.6,223.8 957.6,223.1 C953.6,222.4 947.8,220.4 944.5,217.6 C941.2,214.9 937.2,209.2 937.9,206.7Z" fill="#080808"/>
<path d="M1038.6,206.7 C1037.9,204.1 1031.7,201.6 1027.7,202.3 C1023.7,203 1017.8,207.8 1014.5,211.1 C1011.3,214.3 1007.2,220 1008,222 C1008.7,224 1014.9,223.8 1018.9,223.1 C1022.9,222.4 1028.8,220.4 1032,217.6 C1035.3,214.9 1039.3,209.2 1038.6,206.7Z" fill="#080808"/>
<path d="M972.9,222 C977,214.3 995.2,214.3 999.2,222 C1003.2,229.7 1001,260.3 997,268 C993,275.6 979.1,275.6 975.1,268 C971.1,260.3 968.9,229.7 972.9,222Z" fill="#7a7a7a"/>
<ellipse cx="986.1" cy="232.9" rx="10.5" ry="8.8" fill="#080808"/>
<ellipse cx="986.1" cy="252.6" rx="5.7" ry="7" fill="#080808"/>
</g>
<path d="M986.1,87.4 C981,87.2 973.7,82.3 966.4,80.8 C959.1,79.3 951.8,76.6 942.3,78.6 C932.8,80.6 922.2,86.5 909.5,92.8 C896.7,99.2 877.3,108.5 865.7,116.9 C854,125.3 845.6,133.7 839.4,143.2 C833.2,152.7 830.8,162.2 828.5,173.8 C826.1,185.5 826.3,199.4 825.2,213.2 C824.1,227.1 822.3,244.3 821.9,257 C821.5,269.8 822.6,280.7 823,289.9 C823.4,299 822.1,305.2 824.1,311.8 C826.1,318.3 828.1,325.3 835,329.3 C842,333.3 855.1,334.6 865.7,335.8 C876.3,337.1 889.4,336.9 898.5,336.9 C907.6,336.9 913.1,338.2 920.4,335.8 C927.7,333.5 939,321.2 942.3,322.7 C945.6,324.2 939,338.8 940.1,344.6 C941.2,350.4 944.5,353.3 948.9,357.7 C953.2,362.1 959.1,366.8 966.4,370.9 C973.7,374.9 985.3,381.4 992.6,381.8 C999.9,382.2 1005.4,375.6 1010.2,373 C1014.9,370.5 1017.1,371.2 1021.1,366.5 C1025.1,361.7 1032.8,351.9 1034.2,344.6 C1035.7,337.3 1028.8,324.2 1029.9,322.7 C1031,321.2 1033.5,333.5 1040.8,335.8 C1048.1,338.2 1062.7,336.9 1073.6,336.9 C1084.6,336.9 1094.4,337.1 1106.5,335.8 C1118.5,334.6 1137.9,335.1 1145.9,329.3 C1153.9,323.4 1153.4,312.8 1154.6,300.8 C1155.9,288.8 1153.9,268 1153.5,257 C1153.2,246.1 1153.4,247.9 1152.5,235.1 C1151.5,222.4 1150.6,194.3 1148.1,180.4 C1145.5,166.5 1143.3,162.9 1137.1,151.9 C1130.9,141 1121.4,124.9 1110.9,114.7 C1100.3,104.5 1087.1,96.7 1073.6,90.6 C1060.1,84.6 1042.6,80.1 1029.9,78.6 C1017.1,77.1 1004.3,80.4 997,81.9 C989.7,83.4 991.2,87.5 986.1,87.4Z" fill="none" stroke="#555" stroke-width="5" filter="url(#gb2)" opacity="0.6"/>
</g>
<path d="M986.1,87.4 C981,87.2 973.7,82.3 966.4,80.8 C959.1,79.3 951.8,76.6 942.3,78.6 C932.8,80.6 922.2,86.5 909.5,92.8 C896.7,99.2 877.3,108.5 865.7,116.9 C854,125.3 845.6,133.7 839.4,143.2 C833.2,152.7 830.8,162.2 828.5,173.8 C826.1,185.5 826.3,199.4 825.2,213.2 C824.1,227.1 822.3,244.3 821.9,257 C821.5,269.8 822.6,280.7 823,289.9 C823.4,299 822.1,305.2 824.1,311.8 C826.1,318.3 828.1,325.3 835,329.3 C842,333.3 855.1,334.6 865.7,335.8 C876.3,337.1 889.4,336.9 898.5,336.9 C907.6,336.9 913.1,338.2 920.4,335.8 C927.7,333.5 939,321.2 942.3,322.7 C945.6,324.2 939,338.8 940.1,344.6 C941.2,350.4 944.5,353.3 948.9,357.7 C953.2,362.1 959.1,366.8 966.4,370.9 C973.7,374.9 985.3,381.4 992.6,381.8 C999.9,382.2 1005.4,375.6 1010.2,373 C1014.9,370.5 1017.1,371.2 1021.1,366.5 C1025.1,361.7 1032.8,351.9 1034.2,344.6 C1035.7,337.3 1028.8,324.2 1029.9,322.7 C1031,321.2 1033.5,333.5 1040.8,335.8 C1048.1,338.2 1062.7,336.9 1073.6,336.9 C1084.6,336.9 1094.4,337.1 1106.5,335.8 C1118.5,334.6 1137.9,335.1 1145.9,329.3 C1153.9,323.4 1153.4,312.8 1154.6,300.8 C1155.9,288.8 1153.9,268 1153.5,257 C1153.2,246.1 1153.4,247.9 1152.5,235.1 C1151.5,222.4 1150.6,194.3 1148.1,180.4 C1145.5,166.5 1143.3,162.9 1137.1,151.9 C1130.9,141 1121.4,124.9 1110.9,114.7 C1100.3,104.5 1087.1,96.7 1073.6,90.6 C1060.1,84.6 1042.6,80.1 1029.9,78.6 C1017.1,77.1 1004.3,80.4 997,81.9 C989.7,83.4 991.2,87.5 986.1,87.4Z" fill="none" stroke="#1e1e1e" stroke-width="1.3"/>
<path d="M856.9,143.2 C857.3,141.9 864.8,129 865.7,127.9 C866.5,126.8 873.1,122.1 874.4,121.3 C875.7,120.5 890.4,113.3 891.9,112.5 C893.5,111.8 903.9,106.4 905.1,106 C906.3,105.5 915.4,103.7 916,103.8 C916.7,103.8 918.5,106.6 918.2,107.1 C917.9,107.5 910.1,110 909.5,112.5 C908.8,115.1 906,156.2 905.1,158.5 C904.2,160.9 893.3,159.5 891.9,159.6 C890.6,159.7 880.3,160.5 878.8,160.7 C877.3,160.9 862.3,163.2 861.3,162.9 C860.3,162.6 858.2,155.1 858,154.1 C857.8,153.1 856.5,144.5 856.9,143.2Z" fill="#f8a000"/>
<path d="M1056.1,103.8 C1056.3,102.7 1067.8,103.1 1069.3,103.8 C1070.7,104.4 1083.3,116 1084.6,116.9 C1085.9,117.8 1094.4,120.5 1095.5,121.3 C1096.6,122.1 1105.5,131.5 1106.5,132.2 C1107.5,133 1114.7,135.1 1115.2,136.6 C1115.8,138.2 1117.6,161.6 1117.4,162.9 C1117.2,164.2 1111.4,163.4 1110.9,162.9 C1110.3,162.3 1107.2,152.2 1106.5,151.9 C1105.7,151.7 1097.3,158.2 1095.5,158.5 C1093.8,158.8 1073,159.1 1071.5,157.4 C1069.9,155.8 1065.7,128.4 1064.9,125.7 C1064.1,123 1055.9,104.9 1056.1,103.8Z" fill="#b6f000"/>
<circle cx="875.5" cy="173.8" r="3" fill="#f8a000"/>
<circle cx="1098.8" cy="171.6" r="3" fill="#b6f000"/>
<clipPath id="cpX"><path d="M1654,57 C1661.8,56.2 1666.2,60.4 1673.6,60.5 C1681,60.6 1688.5,56 1698.6,57.9 C1708.7,59.8 1725.4,67.2 1734.3,72 C1743.2,76.8 1746,79.8 1752,86.4 C1758,93 1764.6,102.5 1770,111.4 C1775.4,120.3 1781,131.1 1784.3,140 C1787.6,148.9 1787.2,156.4 1789.6,165 C1792,173.6 1796.2,182.9 1798.6,191.8 C1801,200.7 1802.6,209.7 1804,218.6 C1805.4,227.5 1806.7,237.7 1807,245 C1807.3,252.3 1806.5,255.7 1805.7,262.5 C1804.9,269.3 1804.1,277.7 1802,285.7 C1799.9,293.7 1796.8,302.4 1793,310.7 C1789.2,319 1784.3,328 1779,335.7 C1773.7,343.4 1767,351.1 1761,357 C1755,362.9 1748.9,367.2 1743,371.4 C1737.1,375.6 1733.1,378.7 1725.4,382 C1717.7,385.3 1705.4,391.3 1696.8,391 C1688.2,390.7 1682.2,380.7 1673.6,380.4 C1665,380.1 1653.9,389.6 1645,389.3 C1636.1,389 1626.8,382.8 1620,378.6 C1613.2,374.4 1610.5,369.9 1604,364 C1597.5,358.1 1587.9,351 1580.7,343 C1573.5,335 1566.3,325 1561,316 C1555.7,307 1551.7,300.9 1548.6,289 C1545.5,277.1 1543.1,256.1 1542.3,244.6 C1541.5,233.1 1543.2,227.3 1544,220 C1544.8,212.7 1545.1,208.7 1546.8,200.7 C1548.5,192.7 1551.9,178.2 1554,172 C1556.1,165.8 1557.8,167.4 1559.3,163.2 C1560.8,159 1561.7,152.7 1562.9,147 C1564.1,141.3 1563.7,136.1 1566.4,129.3 C1569.1,122.5 1574.8,113.2 1579,106 C1583.2,98.8 1587,91.7 1591.4,86.4 C1595.9,81.1 1599.8,77.6 1605.7,74 C1611.6,70.4 1619,67.8 1627,65 C1635,62.2 1646.2,57.8 1654,57Z"/></clipPath>
<g clip-path="url(#cpX)">
<path d="M1654,57 C1661.8,56.2 1666.2,60.4 1673.6,60.5 C1681,60.6 1688.5,56 1698.6,57.9 C1708.7,59.8 1725.4,67.2 1734.3,72 C1743.2,76.8 1746,79.8 1752,86.4 C1758,93 1764.6,102.5 1770,111.4 C1775.4,120.3 1781,131.1 1784.3,140 C1787.6,148.9 1787.2,156.4 1789.6,165 C1792,173.6 1796.2,182.9 1798.6,191.8 C1801,200.7 1802.6,209.7 1804,218.6 C1805.4,227.5 1806.7,237.7 1807,245 C1807.3,252.3 1806.5,255.7 1805.7,262.5 C1804.9,269.3 1804.1,277.7 1802,285.7 C1799.9,293.7 1796.8,302.4 1793,310.7 C1789.2,319 1784.3,328 1779,335.7 C1773.7,343.4 1767,351.1 1761,357 C1755,362.9 1748.9,367.2 1743,371.4 C1737.1,375.6 1733.1,378.7 1725.4,382 C1717.7,385.3 1705.4,391.3 1696.8,391 C1688.2,390.7 1682.2,380.7 1673.6,380.4 C1665,380.1 1653.9,389.6 1645,389.3 C1636.1,389 1626.8,382.8 1620,378.6 C1613.2,374.4 1610.5,369.9 1604,364 C1597.5,358.1 1587.9,351 1580.7,343 C1573.5,335 1566.3,325 1561,316 C1555.7,307 1551.7,300.9 1548.6,289 C1545.5,277.1 1543.1,256.1 1542.3,244.6 C1541.5,233.1 1543.2,227.3 1544,220 C1544.8,212.7 1545.1,208.7 1546.8,200.7 C1548.5,192.7 1551.9,178.2 1554,172 C1556.1,165.8 1557.8,167.4 1559.3,163.2 C1560.8,159 1561.7,152.7 1562.9,147 C1564.1,141.3 1563.7,136.1 1566.4,129.3 C1569.1,122.5 1574.8,113.2 1579,106 C1583.2,98.8 1587,91.7 1591.4,86.4 C1595.9,81.1 1599.8,77.6 1605.7,74 C1611.6,70.4 1619,67.8 1627,65 C1635,62.2 1646.2,57.8 1654,57Z" fill="#8e8e8e"/>
<g filter="url(#gb3)">
<path d="M1620,100 C1628.7,100.7 1641,121.3 1650,128 C1659,134.7 1666,140 1674,140 C1682,140 1689,134.7 1698,128 C1707,121.3 1719.3,100.3 1728,100 C1736.7,99.7 1743.7,114.3 1750,126 C1756.3,137.7 1761.3,154.3 1766,170 C1770.7,185.7 1775.7,204.7 1778,220 C1780.3,235.3 1781.7,248.2 1780,262 C1778.3,275.8 1774.3,290.3 1768,303 C1761.7,315.7 1751.3,328.8 1742,338 C1732.7,347.2 1719.8,353.7 1712,358 C1704.2,362.3 1701.3,364.3 1695,364 C1688.7,363.7 1681.2,356 1674,356 C1666.8,356 1658.3,363.7 1652,364 C1645.7,364.3 1644,363.7 1636,358 C1628,352.3 1612.8,339.7 1604,330 C1595.2,320.3 1588.7,308.3 1583,300 C1577.3,291.7 1572.7,289.2 1570,280 C1567.3,270.8 1567,257.5 1567,245 C1567,232.5 1567.3,219.2 1570,205 C1572.7,190.8 1578.3,173.5 1583,160 C1587.7,146.5 1591.8,134 1598,124 C1604.2,114 1611.3,99.3 1620,100Z" fill="#e6e6e6"/>
<path d="M1766.7,231 C1769.4,231.6 1777.4,234.3 1782.8,234.7 C1788.3,235 1796.6,233.4 1799.3,233.1" fill="none" stroke="#dcdcdc" stroke-width="12.2" stroke-linecap="round"/>
<path d="M1773.5,247.5 C1779.3,248.8 1802.4,254 1808.2,255.3" fill="none" stroke="#4f4f4f" stroke-width="5.9" stroke-linecap="round"/>
<path d="M1764.5,257.5 C1767.3,258.5 1775.7,261.2 1781.3,263.2 C1786.9,265.2 1795.1,268.5 1797.9,269.6" fill="none" stroke="#dcdcdc" stroke-width="8.5" stroke-linecap="round"/>
<path d="M1777.4,266.5 C1782,268.4 1800.6,275.8 1805.2,277.7" fill="none" stroke="#4f4f4f" stroke-width="6.2" stroke-linecap="round"/>
<path d="M1756.4,267.3 C1759.5,269.5 1768.2,276.8 1774.9,280.2 C1781.5,283.6 1792.6,286.5 1796.2,287.7" fill="none" stroke="#dcdcdc" stroke-width="12.1" stroke-linecap="round"/>
<path d="M1772.3,294.1 C1776.1,296.8 1791.4,307.6 1795.2,310.3" fill="none" stroke="#4f4f4f" stroke-width="5.1" stroke-linecap="round"/>
<path d="M1742.6,294.1 C1746,296.7 1756.9,303.5 1762.8,309.4 C1768.6,315.3 1775.4,326.3 1777.9,329.7" fill="none" stroke="#dcdcdc" stroke-width="11.9" stroke-linecap="round"/>
<path d="M1757.9,322.7 C1760.8,326.1 1772.4,339.7 1775.4,343.1" fill="none" stroke="#4f4f4f" stroke-width="6.9" stroke-linecap="round"/>
<path d="M1736.9,321.1 C1739.2,323.3 1747,329.4 1750.5,334.6 C1753.9,339.9 1756.4,349.6 1757.5,352.6" fill="none" stroke="#dcdcdc" stroke-width="11.1" stroke-linecap="round"/>
<path d="M1723.2,348 C1725.2,353.1 1733.2,373.3 1735.3,378.4" fill="none" stroke="#4f4f4f" stroke-width="7.1" stroke-linecap="round"/>
<path d="M1702.6,330.3 C1704.4,334.2 1711.6,345.4 1713.8,353.6 C1716.1,361.9 1715.6,375.3 1716,379.6" fill="none" stroke="#dcdcdc" stroke-width="8.7" stroke-linecap="round"/>
<path d="M1705.1,349.8 C1706.7,356.1 1712.9,381.2 1714.5,387.5" fill="none" stroke="#4f4f4f" stroke-width="6.2" stroke-linecap="round"/>
<path d="M1689.2,340.5 C1689,344.3 1686.8,356 1687.8,363.5 C1688.7,371.1 1693.9,381.9 1695.1,385.6" fill="none" stroke="#dcdcdc" stroke-width="9.4" stroke-linecap="round"/>
<path d="M1668.1,347.7 C1667.9,353.8 1666.7,378.5 1666.4,384.6" fill="none" stroke="#4f4f4f" stroke-width="6" stroke-linecap="round"/>
<path d="M1653.5,328.6 C1652.1,332.8 1646.8,345.4 1645,354.1 C1643.3,362.9 1643.4,376.6 1643.1,381.1" fill="none" stroke="#dcdcdc" stroke-width="8.1" stroke-linecap="round"/>
<path d="M1633.9,340.7 C1631.6,347.4 1622.4,374.1 1620.1,380.8" fill="none" stroke="#4f4f4f" stroke-width="6.7" stroke-linecap="round"/>
<path d="M1631.7,326 C1630.9,329.8 1629.8,341.6 1626.8,348.6 C1623.9,355.6 1616.2,364.9 1614.1,368.1" fill="none" stroke="#dcdcdc" stroke-width="8.2" stroke-linecap="round"/>
<path d="M1609.4,321.9 C1605.9,327.1 1592.1,347.7 1588.7,352.9" fill="none" stroke="#4f4f4f" stroke-width="6.6" stroke-linecap="round"/>
<path d="M1604,307.1 C1602,309.4 1596,316 1592.1,320.6 C1588.2,325.2 1582.5,332.2 1580.6,334.5" fill="none" stroke="#dcdcdc" stroke-width="9.6" stroke-linecap="round"/>
<path d="M1593.7,301.7 C1589.2,306 1571.3,323.1 1566.8,327.4" fill="none" stroke="#4f4f4f" stroke-width="6.6" stroke-linecap="round"/>
<path d="M1591.4,286.4 C1589.4,288.9 1584.6,297.6 1579.7,301.3 C1574.8,304.9 1564.9,307.1 1561.9,308.3" fill="none" stroke="#dcdcdc" stroke-width="12.3" stroke-linecap="round"/>
<path d="M1577.9,287.1 C1573.7,289.7 1557.1,300.5 1552.9,303.2" fill="none" stroke="#4f4f4f" stroke-width="7" stroke-linecap="round"/>
<path d="M1583.1,269.2 C1580.8,270.7 1574.1,276 1569.2,278.4 C1564.2,280.8 1555.9,282.8 1553.3,283.7" fill="none" stroke="#dcdcdc" stroke-width="9.4" stroke-linecap="round"/>
<path d="M1577.2,260.5 C1571.7,262.5 1549.8,270.5 1544.3,272.6" fill="none" stroke="#4f4f4f" stroke-width="5.2" stroke-linecap="round"/>
<path d="M1578.2,241.3 C1575.5,240.9 1567,237.7 1561.9,238.5 C1556.7,239.4 1549.6,245.3 1547.1,246.6" fill="none" stroke="#dcdcdc" stroke-width="8.2" stroke-linecap="round"/>
<path d="M1571,231.9 C1566,232.2 1546,233.6 1541.1,233.9" fill="none" stroke="#4f4f4f" stroke-width="5.4" stroke-linecap="round"/>
<path d="M1581.7,219.3 C1579,220 1570.8,223.5 1565.5,223.2 C1560.2,222.8 1552.4,218.3 1549.8,217.4" fill="none" stroke="#dcdcdc" stroke-width="9.9" stroke-linecap="round"/>
<path d="M1579,203.6 C1573.5,202.4 1551.4,197.4 1545.9,196.2" fill="none" stroke="#4f4f4f" stroke-width="6" stroke-linecap="round"/>
<path d="M1595.1,197.8 C1592,196.5 1582.9,192.1 1576.6,189.9 C1570.3,187.7 1560.4,185.5 1557.2,184.7" fill="none" stroke="#dcdcdc" stroke-width="12.3" stroke-linecap="round"/>
<path d="M1584.5,182.1 C1579.4,179.6 1559.4,170 1554.3,167.6" fill="none" stroke="#4f4f4f" stroke-width="5.8" stroke-linecap="round"/>
<path d="M1591.9,181.1 C1590,179 1585.1,171.3 1580.3,168.7 C1575.6,166.2 1566.2,166.3 1563.4,165.9" fill="none" stroke="#dcdcdc" stroke-width="10" stroke-linecap="round"/>
<path d="M1583,148.9 C1579.9,146.2 1567.1,135.6 1563.9,132.9" fill="none" stroke="#4f4f4f" stroke-width="5.9" stroke-linecap="round"/>
<path d="M1600.7,153.4 C1598.3,151.3 1590.9,145.4 1586.3,141 C1581.8,136.6 1575.7,129.3 1573.6,127" fill="none" stroke="#dcdcdc" stroke-width="9.3" stroke-linecap="round"/>
<path d="M1596.9,136.6 C1593.1,132.3 1578,115.1 1574.3,110.8" fill="none" stroke="#4f4f4f" stroke-width="7.2" stroke-linecap="round"/>
<path d="M1620.1,126.1 C1617.6,123.3 1608.2,115.8 1604.7,109.3 C1601.2,102.8 1599.8,90.7 1598.9,87" fill="none" stroke="#dcdcdc" stroke-width="9.5" stroke-linecap="round"/>
<path d="M1614.1,104.4 C1611.8,99.7 1602.5,80.9 1600.1,76.3" fill="none" stroke="#4f4f4f" stroke-width="6.9" stroke-linecap="round"/>
<path d="M1635.9,113.6 C1635.2,110.2 1633.6,99.6 1631.3,93 C1629,86.4 1623.8,77 1622.3,73.8" fill="none" stroke="#dcdcdc" stroke-width="11.1" stroke-linecap="round"/>
<path d="M1653,95.1 C1652,88.7 1647.9,63.4 1646.8,57.1" fill="none" stroke="#4f4f4f" stroke-width="6.5" stroke-linecap="round"/>
<path d="M1662.9,111.4 C1662.1,107.5 1658.5,95.9 1657.8,88 C1657,80.1 1658.2,67.9 1658.3,63.9" fill="none" stroke="#dcdcdc" stroke-width="11.1" stroke-linecap="round"/>
<path d="M1688,90.5 C1688.6,84.9 1691,62.3 1691.5,56.7" fill="none" stroke="#4f4f4f" stroke-width="6.2" stroke-linecap="round"/>
<path d="M1686.8,111 C1687.2,107 1688.1,95 1689,87.1 C1689.9,79.1 1691.6,67.2 1692.2,63.2" fill="none" stroke="#dcdcdc" stroke-width="11" stroke-linecap="round"/>
<path d="M1717.1,99.1 C1718.9,93.8 1726.2,72.6 1728,67.4" fill="none" stroke="#4f4f4f" stroke-width="6.7" stroke-linecap="round"/>
<path d="M1717.6,120.2 C1718.7,116.7 1721.3,105.9 1724.1,99.2 C1726.9,92.5 1732.7,83 1734.4,79.8" fill="none" stroke="#dcdcdc" stroke-width="11.7" stroke-linecap="round"/>
<path d="M1743.7,117.3 C1746.3,113.3 1756.7,97.3 1759.3,93.3" fill="none" stroke="#4f4f4f" stroke-width="6.5" stroke-linecap="round"/>
<path d="M1744.2,143.6 C1745.6,141 1748.6,132.1 1752.4,127.7 C1756.3,123.2 1764.7,118.8 1767.1,117.1" fill="none" stroke="#dcdcdc" stroke-width="10.4" stroke-linecap="round"/>
<path d="M1760.7,143.4 C1763.8,140.5 1776.2,128.8 1779.4,125.8" fill="none" stroke="#4f4f4f" stroke-width="5.9" stroke-linecap="round"/>
<path d="M1751.5,165.8 C1754.2,164.5 1762.8,161.3 1767.5,157.7 C1772.1,154.2 1777.5,146.7 1779.5,144.5" fill="none" stroke="#dcdcdc" stroke-width="8.8" stroke-linecap="round"/>
<path d="M1766.1,169.2 C1770,166.9 1785.5,157.5 1789.4,155.1" fill="none" stroke="#4f4f4f" stroke-width="5.8" stroke-linecap="round"/>
<path d="M1757.6,187.8 C1759.6,186 1765.1,178.9 1770,176.8 C1774.8,174.6 1783.9,175.2 1786.7,174.9" fill="none" stroke="#dcdcdc" stroke-width="11.2" stroke-linecap="round"/>
<path d="M1769.4,189.8 C1773.9,188.1 1792.1,181.4 1796.7,179.7" fill="none" stroke="#4f4f4f" stroke-width="6.4" stroke-linecap="round"/>
<path d="M1761.7,204.9 C1764.3,204.2 1772.3,202.1 1777.6,200.9 C1783,199.7 1791.1,198.1 1793.7,197.5" fill="none" stroke="#dcdcdc" stroke-width="8.2" stroke-linecap="round"/>
<path d="M1771.1,214.9 C1776.7,214.3 1799,212 1804.6,211.4" fill="none" stroke="#4f4f4f" stroke-width="5.1" stroke-linecap="round"/>
<path d="M1560,165 C1566.3,156.7 1581.3,150 1590,150 C1598.7,150 1607.3,156.7 1612,165 C1616.7,173.3 1617.3,187.5 1618,200 C1618.7,212.5 1617,227.5 1616,240 C1615,252.5 1616.3,266.7 1612,275 C1607.7,283.3 1598.3,288.8 1590,290 C1581.7,291.2 1568.3,290.3 1562,282 C1555.7,273.7 1553.7,253.7 1552,240 C1550.3,226.3 1550.7,212.5 1552,200 C1553.3,187.5 1553.7,173.3 1560,165Z" fill="#8e8e8e"/>
<path d="M1787.2,165 C1780.9,156.7 1765.9,150 1757.2,150 C1748.5,150 1739.9,156.7 1735.2,165 C1730.5,173.3 1729.9,187.5 1729.2,200 C1728.5,212.5 1730.2,227.5 1731.2,240 C1732.2,252.5 1730.9,266.7 1735.2,275 C1739.5,283.3 1748.9,288.8 1757.2,290 C1765.5,291.2 1778.9,290.3 1785.2,282 C1791.5,273.7 1793.5,253.7 1795.2,240 C1796.9,226.3 1796.5,212.5 1795.2,200 C1793.9,187.5 1793.5,173.3 1787.2,165Z" fill="#8e8e8e"/>
<path d="M1550,167.6 C1554.7,167.4 1569.7,167.1 1578,166.7 C1586.3,166.2 1594,166.2 1600,165 C1606,163.8 1611.7,160.5 1614,159.6" fill="none" stroke="#4a4a4a" stroke-width="5.1"/>
<path d="M1550,190.6 C1554.7,190.6 1569.7,191.2 1578,190.5 C1586.3,189.8 1594,187.9 1600,186.2 C1606,184.6 1611.7,181.5 1614,180.5" fill="none" stroke="#4a4a4a" stroke-width="4.2"/>
<path d="M1550,203.5 C1554.7,204.9 1569.7,211.5 1578,211.6 C1586.3,211.8 1594,205.8 1600,204.4 C1606,203 1611.7,203.5 1614,203.3" fill="none" stroke="#4a4a4a" stroke-width="3.6"/>
<path d="M1550,234.8 C1554.7,235 1569.7,235.9 1578,235.7 C1586.3,235.6 1594,236 1600,233.8 C1606,231.7 1611.7,224.5 1614,222.7" fill="none" stroke="#4a4a4a" stroke-width="4.2"/>
<path d="M1550,243.4 C1554.7,244.9 1569.7,252.1 1578,252.5 C1586.3,252.9 1594,247.8 1600,245.9 C1606,244 1611.7,241.9 1614,241.1" fill="none" stroke="#4a4a4a" stroke-width="5.1"/>
<path d="M1550,270.1 C1554.7,269.2 1569.7,265.2 1578,264.5 C1586.3,263.8 1594,266.3 1600,265.8 C1606,265.4 1611.7,262.5 1614,261.9" fill="none" stroke="#4a4a4a" stroke-width="4.5"/>
<path d="M1556,170.9 C1560.3,172.1 1573.7,178.3 1582,178.4 C1590.3,178.6 1602,172.9 1606,171.8" fill="none" stroke="#cdcdcd" stroke-width="5.5"/>
<path d="M1556,200.4 C1560.3,200.1 1573.7,199 1582,198.8 C1590.3,198.6 1602,199.2 1606,199.2" fill="none" stroke="#cdcdcd" stroke-width="5.4"/>
<path d="M1556,220.9 C1560.3,220.1 1573.7,216.1 1582,215.6 C1590.3,215.2 1602,217.9 1606,218.3" fill="none" stroke="#cdcdcd" stroke-width="5.6"/>
<path d="M1556,239.8 C1560.3,239.7 1573.7,239.6 1582,238.7 C1590.3,237.8 1602,235.1 1606,234.3" fill="none" stroke="#cdcdcd" stroke-width="4.4"/>
<path d="M1556,256.5 C1560.3,257.3 1573.7,261.6 1582,261.6 C1590.3,261.5 1602,256.9 1606,256" fill="none" stroke="#cdcdcd" stroke-width="3.6"/>
<path d="M1797.2,167.4 C1792.5,167.7 1777.5,170.1 1769.2,169.7 C1760.9,169.2 1753.2,165.5 1747.2,164.7 C1741.2,163.8 1735.5,164.6 1733.2,164.6" fill="none" stroke="#4a4a4a" stroke-width="4.6"/>
<path d="M1797.2,186.6 C1792.5,187.4 1777.5,190.4 1769.2,191.1 C1760.9,191.8 1753.2,190.7 1747.2,190.9 C1741.2,191.1 1735.5,192.2 1733.2,192.4" fill="none" stroke="#4a4a4a" stroke-width="3.9"/>
<path d="M1797.2,203.5 C1792.5,204.6 1777.5,209.7 1769.2,209.6 C1760.9,209.5 1753.2,203.3 1747.2,202.9 C1741.2,202.5 1735.5,206.6 1733.2,207.3" fill="none" stroke="#4a4a4a" stroke-width="4.1"/>
<path d="M1797.2,219.6 C1792.5,221 1777.5,226.4 1769.2,228 C1760.9,229.6 1753.2,230.2 1747.2,229.3 C1741.2,228.3 1735.5,223.5 1733.2,222.3" fill="none" stroke="#4a4a4a" stroke-width="4.9"/>
<path d="M1797.2,254.2 C1792.5,254.2 1777.5,255 1769.2,254 C1760.9,252.9 1753.2,247.1 1747.2,247.9 C1741.2,248.8 1735.5,257.3 1733.2,259.2" fill="none" stroke="#4a4a4a" stroke-width="5.4"/>
<path d="M1797.2,273.3 C1792.5,272.5 1777.5,269.7 1769.2,268.6 C1760.9,267.5 1753.2,267.6 1747.2,266.7 C1741.2,265.9 1735.5,264.2 1733.2,263.7" fill="none" stroke="#4a4a4a" stroke-width="5.3"/>
<path d="M1791.2,171 C1786.9,172.1 1773.5,176.4 1765.2,177.7 C1756.9,179.1 1745.2,178.9 1741.2,179.1" fill="none" stroke="#cdcdcd" stroke-width="4.7"/>
<path d="M1791.2,196.2 C1786.9,196.6 1773.5,198.5 1765.2,198.8 C1756.9,199 1745.2,197.9 1741.2,197.8" fill="none" stroke="#cdcdcd" stroke-width="4.5"/>
<path d="M1791.2,211.1 C1786.9,211.6 1773.5,212.4 1765.2,214.1 C1756.9,215.7 1745.2,219.8 1741.2,221" fill="none" stroke="#cdcdcd" stroke-width="6"/>
<path d="M1791.2,239.8 C1786.9,239.5 1773.5,236.9 1765.2,238 C1756.9,239.1 1745.2,245 1741.2,246.4" fill="none" stroke="#cdcdcd" stroke-width="4.8"/>
<path d="M1791.2,255.1 C1786.9,255.5 1773.5,256 1765.2,257.5 C1756.9,259.1 1745.2,263.4 1741.2,264.6" fill="none" stroke="#cdcdcd" stroke-width="5.5"/>
<path d="M1640,158 C1645,151.3 1657.3,153 1662,160 C1666.7,167 1666.7,187.3 1668,200 C1669.3,212.7 1672.2,228.5 1670,236 C1667.8,243.5 1660.3,245.2 1655,245 C1649.7,244.8 1641.8,242.5 1638,235 C1634.2,227.5 1631.7,212.8 1632,200 C1632.3,187.2 1635,164.7 1640,158Z" fill="#c4c4c4"/>
<path d="M1707,158 C1702,151.3 1690.5,153 1686,160 C1681.5,167 1681.3,187.3 1680,200 C1678.7,212.7 1675.8,228.5 1678,236 C1680.2,243.5 1687.7,245.2 1693,245 C1698.3,244.8 1706.2,242.5 1710,235 C1713.8,227.5 1716.5,212.8 1716,200 C1715.5,187.2 1712,164.7 1707,158Z" fill="#c4c4c4"/>
<path d="M1645,147 L1675,162 L1705.7,147" fill="none" stroke="#3a3a3a" stroke-width="5"/>
<path d="M1661,163 C1662.7,160.2 1670.2,157.3 1672,163 C1673.8,168.7 1673.3,191.3 1672,197 C1670.7,202.7 1665.7,199.8 1664,197 C1662.3,194.2 1662.5,185.7 1662,180 C1661.5,174.3 1659.3,165.8 1661,163Z" fill="#050505"/>
<path d="M1677,163 C1679,157.3 1687.2,160.2 1689,163 C1690.8,165.8 1688.5,174.3 1688,180 C1687.5,185.7 1687.8,194.2 1686,197 C1684.2,199.8 1678.5,202.7 1677,197 C1675.5,191.3 1675,168.7 1677,163Z" fill="#050505"/>
<path d="M1666,236 C1668.7,233.7 1681.3,233.7 1684,236 C1686.7,238.3 1684.7,247.7 1682,250 C1679.3,252.3 1670.7,252.3 1668,250 C1665.3,247.7 1663.3,238.3 1666,236Z" fill="#101010"/>
<path d="M1620,284 C1620.3,279.7 1621.8,267.2 1626,262 C1630.2,256.8 1640.7,253.7 1645,253 C1649.3,252.3 1654.2,255.2 1652,258 C1649.8,260.8 1636.7,265 1632,270 C1627.3,275 1626,285.7 1624,288 C1622,290.3 1619.7,288.3 1620,284Z" fill="#0a0a0a"/>
<path d="M1727,292 C1726.7,287.2 1726.2,271.5 1722,265 C1717.8,258.5 1706.2,254.2 1702,253 C1697.8,251.8 1694.7,254.8 1697,258 C1699.3,261.2 1711.5,266 1716,272 C1720.5,278 1722.2,290.7 1724,294 C1725.8,297.3 1727.3,296.8 1727,292Z" fill="#0a0a0a"/>
<path d="M1628,292 Q1674,245 1720,292" fill="none" stroke="#d6d6d6" stroke-width="9"/>
<path d="M1634,300 C1641,291.7 1660.7,280 1674,280 C1687.3,280 1707,291.7 1714,300 C1721,308.3 1719.2,321.7 1716,330 C1712.8,338.3 1702,345.8 1695,350 C1688,354.2 1681,355 1674,355 C1667,355 1660,354.2 1653,350 C1646,345.8 1635.2,338.3 1632,330 C1628.8,321.7 1627,308.3 1634,300Z" fill="#acacac"/>
<path d="M1636,305 C1638.7,306.2 1646.7,309.8 1652,312 C1657.3,314.2 1665.3,317 1668,318" fill="none" stroke="#555" stroke-width="4.5"/>
<path d="M1712,305 C1709.3,306.2 1701.3,309.8 1696,312 C1690.7,314.2 1682.7,317 1680,318" fill="none" stroke="#555" stroke-width="4.5"/>
<path d="M1640,335 C1642.7,333.8 1651.3,330.2 1656,328 C1660.7,325.8 1666,323 1668,322" fill="none" stroke="#555" stroke-width="4.5"/>
<path d="M1708,335 C1705.3,333.8 1696.7,330.2 1692,328 C1687.3,325.8 1682,323 1680,322" fill="none" stroke="#555" stroke-width="4.5"/>
<path d="M1673.6,61 L1673.6,138" stroke="#444" stroke-width="4"/>
<path d="M1674,285 L1674,380" stroke="#444" stroke-width="4"/>
</g>
<path d="M1654,57 C1661.8,56.2 1666.2,60.4 1673.6,60.5 C1681,60.6 1688.5,56 1698.6,57.9 C1708.7,59.8 1725.4,67.2 1734.3,72 C1743.2,76.8 1746,79.8 1752,86.4 C1758,93 1764.6,102.5 1770,111.4 C1775.4,120.3 1781,131.1 1784.3,140 C1787.6,148.9 1787.2,156.4 1789.6,165 C1792,173.6 1796.2,182.9 1798.6,191.8 C1801,200.7 1802.6,209.7 1804,218.6 C1805.4,227.5 1806.7,237.7 1807,245 C1807.3,252.3 1806.5,255.7 1805.7,262.5 C1804.9,269.3 1804.1,277.7 1802,285.7 C1799.9,293.7 1796.8,302.4 1793,310.7 C1789.2,319 1784.3,328 1779,335.7 C1773.7,343.4 1767,351.1 1761,357 C1755,362.9 1748.9,367.2 1743,371.4 C1737.1,375.6 1733.1,378.7 1725.4,382 C1717.7,385.3 1705.4,391.3 1696.8,391 C1688.2,390.7 1682.2,380.7 1673.6,380.4 C1665,380.1 1653.9,389.6 1645,389.3 C1636.1,389 1626.8,382.8 1620,378.6 C1613.2,374.4 1610.5,369.9 1604,364 C1597.5,358.1 1587.9,351 1580.7,343 C1573.5,335 1566.3,325 1561,316 C1555.7,307 1551.7,300.9 1548.6,289 C1545.5,277.1 1543.1,256.1 1542.3,244.6 C1541.5,233.1 1543.2,227.3 1544,220 C1544.8,212.7 1545.1,208.7 1546.8,200.7 C1548.5,192.7 1551.9,178.2 1554,172 C1556.1,165.8 1557.8,167.4 1559.3,163.2 C1560.8,159 1561.7,152.7 1562.9,147 C1564.1,141.3 1563.7,136.1 1566.4,129.3 C1569.1,122.5 1574.8,113.2 1579,106 C1583.2,98.8 1587,91.7 1591.4,86.4 C1595.9,81.1 1599.8,77.6 1605.7,74 C1611.6,70.4 1619,67.8 1627,65 C1635,62.2 1646.2,57.8 1654,57Z" fill="none" stroke="#555" stroke-width="5" filter="url(#gb2)" opacity="0.6"/>
</g>
<path d="M1654,57 C1661.8,56.2 1666.2,60.4 1673.6,60.5 C1681,60.6 1688.5,56 1698.6,57.9 C1708.7,59.8 1725.4,67.2 1734.3,72 C1743.2,76.8 1746,79.8 1752,86.4 C1758,93 1764.6,102.5 1770,111.4 C1775.4,120.3 1781,131.1 1784.3,140 C1787.6,148.9 1787.2,156.4 1789.6,165 C1792,173.6 1796.2,182.9 1798.6,191.8 C1801,200.7 1802.6,209.7 1804,218.6 C1805.4,227.5 1806.7,237.7 1807,245 C1807.3,252.3 1806.5,255.7 1805.7,262.5 C1804.9,269.3 1804.1,277.7 1802,285.7 C1799.9,293.7 1796.8,302.4 1793,310.7 C1789.2,319 1784.3,328 1779,335.7 C1773.7,343.4 1767,351.1 1761,357 C1755,362.9 1748.9,367.2 1743,371.4 C1737.1,375.6 1733.1,378.7 1725.4,382 C1717.7,385.3 1705.4,391.3 1696.8,391 C1688.2,390.7 1682.2,380.7 1673.6,380.4 C1665,380.1 1653.9,389.6 1645,389.3 C1636.1,389 1626.8,382.8 1620,378.6 C1613.2,374.4 1610.5,369.9 1604,364 C1597.5,358.1 1587.9,351 1580.7,343 C1573.5,335 1566.3,325 1561,316 C1555.7,307 1551.7,300.9 1548.6,289 C1545.5,277.1 1543.1,256.1 1542.3,244.6 C1541.5,233.1 1543.2,227.3 1544,220 C1544.8,212.7 1545.1,208.7 1546.8,200.7 C1548.5,192.7 1551.9,178.2 1554,172 C1556.1,165.8 1557.8,167.4 1559.3,163.2 C1560.8,159 1561.7,152.7 1562.9,147 C1564.1,141.3 1563.7,136.1 1566.4,129.3 C1569.1,122.5 1574.8,113.2 1579,106 C1583.2,98.8 1587,91.7 1591.4,86.4 C1595.9,81.1 1599.8,77.6 1605.7,74 C1611.6,70.4 1619,67.8 1627,65 C1635,62.2 1646.2,57.8 1654,57Z" fill="none" stroke="#1e1e1e" stroke-width="1.3"/>
<path d="M1613,369.2 C1613.1,369 1619.7,364.9 1619.9,364.9 C1620.1,364.9 1626.6,367.4 1626.8,367.5 C1627,367.6 1633.4,372.5 1633.7,372.7 C1634,372.9 1647.2,376.9 1647.5,377 C1647.8,377.1 1654.3,377.3 1654.4,377 C1654.5,376.7 1656.1,361 1656.1,360.6 C1656.1,360.2 1656,350.4 1656.1,350.2 C1656.2,350 1662.8,349.4 1663,349.4 C1663.2,349.4 1668,352 1668.2,352 C1668.4,352 1673.2,349.4 1673.4,349.4 C1673.6,349.4 1681.9,350 1682,350.2 C1682.1,350.4 1681.9,362 1682,362.3 C1682.1,362.6 1690.4,370.7 1690.7,371 C1691,371.3 1697.4,377.8 1697.6,377.9 C1697.8,378 1702.6,378 1702.8,377.9 C1703,377.8 1709.5,371.2 1709.7,371 C1709.9,370.8 1712.9,365.9 1713.2,365.8 C1713.5,365.7 1724.9,365.7 1725.3,365.8 C1725.7,365.9 1737.2,369.1 1737.4,369.2 C1737.6,369.3 1739.2,374.1 1739.1,374.4 C1739,374.7 1729.1,384.5 1728.7,384.8 C1728.3,385.1 1713.7,389.9 1713.2,390 C1712.7,390.1 1696.4,391.7 1695.9,391.7 C1695.4,391.7 1685.8,388.4 1685.5,388.2 C1685.2,388 1680.5,381.6 1680.3,381.3 C1680.1,381 1675.4,371.1 1675.2,371 C1675,370.9 1670.1,374.2 1670,374.4 C1669.9,374.6 1666.6,382.8 1666.5,383 C1666.4,383.2 1661.6,388.1 1661.3,388.2 C1661,388.3 1648,390 1647.5,390 C1647,390 1634.1,386.6 1633.7,386.5 C1633.3,386.4 1623.6,381.5 1623.3,381.3 C1623,381.1 1614.9,374.6 1614.7,374.4 C1614.5,374.2 1612.9,369.4 1613,369.2Z" fill="#f2001e"/>
<rect x="1145" y="11" width="157" height="141" fill="#f7f7f7"/>
<g transform="translate(1130 0) scale(0.10945)" fill="none" stroke="#222" stroke-width="9">
<path d="M330,800 C343.3,763.3 355,703.3 400,650 C445,596.7 525,523.3 600,480 C675,436.7 775,406.7 850,390 C925,373.3 983.3,368.3 1050,380 C1116.7,391.7 1195,420 1250,460 C1305,500 1351.7,563.3 1380,620 C1408.3,676.7 1411.7,750 1420,800 C1428.3,850 1433.3,885 1430,920 C1426.7,955 1408.3,988.3 1400,1010 C1391.7,1031.7 1390,1018.3 1380,1050 C1370,1081.7 1366.7,1158.3 1340,1200 C1313.3,1241.7 1263.3,1288.3 1220,1300 C1176.7,1311.7 1110,1295 1080,1270 C1050,1245 1061.7,1176.7 1040,1150 C1018.3,1123.3 981.7,1098.3 950,1110 C918.3,1121.7 891.7,1201.7 850,1220 C808.3,1238.3 741.7,1236.7 700,1220 C658.3,1203.3 618.3,1148.3 600,1120 C581.7,1091.7 615,1068.3 590,1050 C565,1031.7 491.7,1025 450,1010 C408.3,995 361.7,983.3 340,960 C318.3,936.7 321.7,896.7 320,870 C318.3,843.3 316.7,836.7 330,800Z"/>
<path d="M585.2,831 C583.3,839.8 572.6,874.5 574,883.9 C575.5,893.3 584.3,881.2 593.8,887.4 C603.3,893.6 625,915.4 631.2,921" stroke="#444" stroke-width="7"/>
<path d="M1258.9,814.3 C1257.1,816.1 1249.9,824.7 1247.8,825 C1245.6,825.3 1247,811.7 1246,815.9 C1245,820.1 1242.6,844.4 1242,850.1" stroke="#444" stroke-width="7"/>
<path d="M1314.7,796.7 C1309.2,800.3 1290.5,809.7 1281.7,818.5 C1272.9,827.3 1266.3,845 1262,849.5 C1257.8,854 1257.2,846.2 1256.2,845.5" stroke="#444" stroke-width="7"/>
<path d="M526.5,582.1 C521.9,583.1 508.2,585.2 498.8,587.7 C489.3,590.3 477.1,593.5 469.8,597.5 C462.5,601.4 457.3,609.1 454.8,611.5" stroke="#444" stroke-width="7"/>
<path d="M1237,910.7 C1233.9,911.5 1218.3,916.7 1218.7,915.5 C1219.1,914.3 1235.2,900 1239.5,903.7 C1243.9,907.3 1243.8,931.8 1244.6,937.5" stroke="#444" stroke-width="7"/>
<path d="M1037.4,432.9 C1032.9,435.7 1018.4,449.8 1010.6,449.8 C1002.7,449.8 994.1,433.3 990.2,432.9 C986.3,432.5 987.8,445.1 987.3,447.6" stroke="#444" stroke-width="7"/>
<path d="M545.4,752.4 C546,755.6 546.2,769.2 549.4,771.6 C552.6,774 565.6,764 564.6,766.6 C563.5,769.3 546.7,784.2 543.1,787.7" stroke="#444" stroke-width="7"/>
<path d="M1059,889.4 C1055.1,895.2 1041.4,916.5 1035.5,924.4 C1029.6,932.3 1021.8,928.7 1023.4,936.6 C1024.9,944.5 1041.3,966 1044.9,971.9" stroke="#444" stroke-width="7"/>
<path d="M1087.8,1072 C1087.7,1069.1 1082.8,1058.3 1087.2,1054.8 C1091.6,1051.2 1108.6,1051.4 1114.2,1050.9 C1119.8,1050.4 1119.6,1051.5 1120.7,1051.6" stroke="#444" stroke-width="7"/>
<path d="M729,886.2 C730,893.4 733.1,922.5 734.7,929.6 C736.2,936.8 732.6,926.1 738.3,929.1 C744.1,932.1 764,944.5 769.1,947.6" stroke="#444" stroke-width="7"/>
<path d="M549.7,762.2 C551.3,765 558.8,775.5 559,778.8 C559.1,782 556.6,776.3 550.6,781.8 C544.6,787.4 527.4,806.9 522.8,811.9" stroke="#444" stroke-width="7"/>
<path d="M1278.3,774.6 C1282,780.2 1298.6,804.4 1300.6,808.4 C1302.6,812.4 1286.3,796.4 1290.4,798.8 C1294.5,801.1 1319.4,818.4 1325.2,822.3" stroke="#444" stroke-width="7"/>
<path d="M1193.6,687.1 C1194,689.3 1192.1,696.8 1196,700.3 C1199.9,703.8 1207.5,706.9 1217.1,708 C1226.7,709.1 1247.6,707.1 1253.6,706.9" stroke="#444" stroke-width="7"/>
<path d="M1380.2,1008 C1369.3,1010.4 1330.5,1021.1 1315,1022.2 C1299.6,1023.2 1294.6,1012.9 1287.4,1014.3 C1280.3,1015.6 1274.4,1027.8 1271.8,1030.5" stroke="#444" stroke-width="7"/>
<path d="M965.1,678.2 C968.3,678.7 975.9,672.8 984.1,681 C992.2,689.1 1007.4,715.6 1014.1,727.1 C1020.9,738.6 1022.8,746.2 1024.5,750" stroke="#444" stroke-width="7"/>
<path d="M1357.4,1119.8 C1352,1117.4 1331,1105.2 1325,1105.6 C1319.1,1106 1323,1118.3 1321.4,1121.9 C1319.8,1125.5 1316.5,1126.2 1315.5,1127.1" stroke="#444" stroke-width="7"/>
<path d="M410.7,826.2 C414,827.4 427.7,829.4 430.5,833.2 C433.3,837.1 426.6,842.4 427.5,849.4 C428.5,856.3 434.9,870.6 436.4,874.9" stroke="#444" stroke-width="7"/>
<path d="M1083.3,735.7 C1088.6,735 1106.8,730.4 1115,731.9 C1123.2,733.5 1129.1,743.6 1132.6,745 C1136.2,746.4 1135.7,741.1 1136.3,740.3" stroke="#444" stroke-width="7"/>
<path d="M863.5,973.5 C865.2,980.9 873.4,1007.7 873.5,1018.3 C873.6,1028.9 862.3,1026.5 864.1,1037.2 C865.8,1047.8 880.8,1074.7 884.1,1082.2" stroke="#444" stroke-width="7"/>
<path d="M1388.1,716.7 C1382.2,720.5 1360.6,733.5 1352.9,739.3 C1345.3,745.2 1348.2,749.6 1342.2,752 C1336.1,754.5 1320.9,753.8 1316.7,754.1" stroke="#444" stroke-width="7"/>
<path d="M1076.1,876.1 C1085,876.9 1120.4,878.5 1129.5,881.1 C1138.6,883.7 1121.4,888 1130.6,891.7 C1139.7,895.4 1175.6,901.3 1184.6,903.2" stroke="#444" stroke-width="7"/>
<path d="M699.1,759.4 C701.8,758.9 708.8,752.5 715.1,756.8 C721.5,761 729.6,780.4 737.3,784.7 C744.9,789 756.9,782.9 760.8,782.5" stroke="#444" stroke-width="7"/>
<path d="M871.8,973.2 C874.1,972.7 888.6,968.6 885.4,970.2 C882.2,971.8 862.1,982.5 852.4,982.8 C842.7,983 831.4,973.7 827.2,971.8" stroke="#444" stroke-width="7"/>
<path d="M546.5,914 C545.9,915.1 540.8,916.1 542.6,920.8 C544.4,925.4 552,939.2 557.1,941.8 C562.3,944.4 570.9,937.2 573.6,936.3" stroke="#444" stroke-width="7"/>
<path d="M823.5,733.7 C825.5,736.9 828.5,750 835.7,752.7 C842.9,755.4 858.3,747 866.4,749.8 C874.6,752.6 881.6,766.2 884.7,769.5" stroke="#444" stroke-width="7"/>
<path d="M1237.5,847.1 C1237.1,855.5 1236.6,888.3 1234.9,897.4 C1233.1,906.4 1229.5,892.6 1227.1,901.2 C1224.7,909.7 1221.6,940.9 1220.5,948.8" stroke="#444" stroke-width="7"/>
<path d="M1226.9,606.5 C1233.6,609.5 1261.3,619.8 1267.1,624.4 C1272.8,629 1259.3,633.3 1261.4,634 C1263.5,634.8 1276.5,629.8 1279.5,629" stroke="#444" stroke-width="7"/>
<path d="M1072.7,457.2 C1079.6,460.7 1105.7,475.1 1114.5,478.1 C1123.2,481.1 1115.6,473.2 1125.2,475.2 C1134.8,477.2 1164.3,487.6 1172.1,490.1" stroke="#444" stroke-width="7"/>
<path d="M601.9,902.3 C596.5,906.1 579.9,919.5 569.9,925.1 C559.9,930.8 545.4,938.6 541.8,936.3 C538.2,933.9 547.2,915.2 548.3,910.9" stroke="#444" stroke-width="7"/>
<path d="M1384.3,708.9 C1382.6,713.1 1381.8,726.7 1373.8,733.9 C1365.9,741.2 1342.4,746.4 1336.4,752.4 C1330.5,758.3 1337.8,766.9 1338.1,769.8" stroke="#444" stroke-width="7"/>
<path d="M926.3,474.9 C925.4,475.6 921.5,471.7 921.2,478.6 C920.9,485.5 926.7,504.9 924.5,516.3 C922.3,527.7 910.9,542 908.1,547.2" stroke="#444" stroke-width="7"/>
<path d="M1066.1,512.2 C1065,511.8 1063,510.2 1059.4,509.8 C1055.9,509.4 1052.1,510.9 1045,509.8 C1037.9,508.7 1021.4,504.3 1016.7,503.2" stroke="#444" stroke-width="7"/>
<path d="M1168.7,855.4 C1169.8,856 1179.2,854.5 1175.7,859 C1172.2,863.4 1153.2,875.1 1147.6,882.2 C1142,889.4 1143.1,898.6 1142.2,901.9" stroke="#444" stroke-width="7"/>
<path d="M700.3,724.8 C698.2,726.6 690.4,729.2 687.6,735.2 C684.7,741.1 680.4,747.5 683,760.6 C685.7,773.7 700,804.9 703.4,813.8" stroke="#444" stroke-width="7"/>
<path d="M539.1,532.9 C539.1,534.2 538.8,534.3 539,540.8 C539.1,547.4 537.7,559.7 539.9,572.1 C542.2,584.6 550.4,608.1 552.5,615.3" stroke="#444" stroke-width="7"/>
<path d="M585.4,623.4 C584.5,621.8 585,612.9 579.8,614 C574.7,615.1 560.2,623.5 554.7,630.1 C549.2,636.6 548.1,649.3 546.8,653.1" stroke="#444" stroke-width="7"/>
<path d="M1118.6,658.9 C1111.3,660.9 1081.9,668.9 1074.8,671 C1067.7,673 1080.5,669.8 1076.2,671.4 C1071.9,673.1 1053.5,679.2 1049,680.8" stroke="#444" stroke-width="7"/>
<path d="M516.9,864.9 C520.6,868.5 529.1,887.3 538.9,886.4 C548.6,885.5 565.8,860.7 575.4,859.6 C585.1,858.6 593.2,876.7 596.7,880.1" stroke="#444" stroke-width="7"/>
<path d="M379.2,720.6 C379.8,721.9 378,730 382.7,728.6 C387.3,727.2 400.3,710.5 407.3,712.2 C414.3,714 421.6,734.7 424.4,739.2" stroke="#444" stroke-width="7"/>
<path d="M1374.1,1029.4 C1372,1029 1366.6,1024.6 1361.4,1027.1 C1356.3,1029.7 1352.5,1041.6 1343.1,1044.4 C1333.7,1047.3 1311.5,1044.2 1305.2,1044.1" stroke="#444" stroke-width="7"/>
<path d="M533.6,816.4 C530.4,818.8 517.3,825.2 514.2,830.7 C511.2,836.2 521.2,839.8 515.4,849.4 C509.6,859 485.4,881.8 479.4,888.3" stroke="#444" stroke-width="7"/>
<path d="M1105.5,681.2 C1103.7,685.1 1089.8,696.9 1094.3,704.3 C1098.8,711.7 1126.4,717.8 1132.5,725.5 C1138.6,733.3 1131.3,746.8 1131,751" stroke="#444" stroke-width="7"/>
<path d="M1072.5,429.9 C1074.8,428.3 1081.3,417.7 1086.2,420.1 C1091.2,422.5 1097.5,435.5 1102.2,444.2 C1106.9,452.9 1112.2,467.6 1114.3,472.3" stroke="#444" stroke-width="7"/>
<path d="M1170,615.2 C1162.7,617.5 1133.4,622 1126.4,628.9 C1119.3,635.9 1133.5,653 1127.7,657 C1121.9,660.9 1097.8,653.4 1091.8,652.6" stroke="#444" stroke-width="7"/>
<path d="M1221.7,1216.3 C1223.2,1213.7 1235.6,1198 1230.9,1200.3 C1226.2,1202.6 1203.1,1227.7 1193.5,1230.4 C1183.9,1233.1 1176.6,1218.8 1173.2,1216.5" stroke="#444" stroke-width="7"/>
<path d="M735,1007.9 C732.8,1007.4 726,1006.2 721.5,1005.2 C716.9,1004.3 715.9,1002.9 707.7,1002.2 C699.5,1001.6 678.3,1001.5 672.4,1001.3" stroke="#444" stroke-width="7"/>
<path d="M1172.6,812.1 C1174.4,813 1181.3,815.6 1183.7,817.2 C1186.1,818.8 1183.3,819.6 1187.1,821.8 C1190.9,823.9 1203.3,828.6 1206.6,830" stroke="#444" stroke-width="7"/>
<path d="M847.2,1067.5 C848.2,1069.9 852.5,1080 853.5,1082 C854.6,1084.1 854.8,1076.3 853.6,1079.8 C852.3,1083.4 847.4,1099.4 846.2,1103.3" stroke="#444" stroke-width="7"/>
<path d="M683.7,707.5 C685.1,708.4 689.7,707.8 691.9,712.8 C694,717.8 691,736 696.4,737.3 C701.7,738.6 719.5,723.5 724.2,720.8" stroke="#444" stroke-width="7"/>
<path d="M500.6,970.8 C499.9,970.6 496.7,966.1 496.6,969.3 C496.6,972.6 499.1,984.6 500.2,990.3 C501.3,996.1 502.7,1001.5 503.2,1003.7" stroke="#444" stroke-width="7"/>
<path d="M910.4,541.5 C907.8,547.9 893.9,572.9 894.5,580.2 C895,587.6 909,586 913.6,585.6 C918.3,585.3 921,579.5 922.4,578.3" stroke="#444" stroke-width="7"/>
<path d="M1036.1,940.5 C1032.6,941.4 1020.3,938.1 1015,945.7 C1009.7,953.3 1010.4,977.9 1004.4,986.1 C998.4,994.3 983.2,993.5 979,995" stroke="#444" stroke-width="7"/>
<path d="M931.7,795.4 C928.4,797.7 912.8,805.9 911.9,809.3 C910.9,812.7 925.7,811.9 925.8,816 C926,820.2 914.9,831 912.8,834" stroke="#444" stroke-width="7"/>
<path d="M600.5,696.6 C595.7,697.1 575.8,695.8 571.7,699.8 C567.7,703.7 579.3,715.3 576.2,720.3 C573.1,725.3 556.9,728.3 553.1,729.9" stroke="#444" stroke-width="7"/>
<path d="M985.7,763.7 C979,764.2 956.4,762.1 945.4,766.5 C934.4,771 933.7,785.6 919.5,790.6 C905.3,795.6 870.1,795.7 860.2,796.7" stroke="#444" stroke-width="7"/>
<path d="M1106.2,628.5 C1107.3,631.3 1111.7,636 1112.9,645.4 C1114.2,654.8 1111.4,676.2 1113.7,684.7 C1115.9,693.3 1124.3,694.6 1126.4,696.6" stroke="#444" stroke-width="7"/>
<path d="M432.9,654 C436.9,657.7 450.4,670.7 456.8,676.3 C463.1,681.8 471.6,687.3 471,687.2 C470.4,687.2 456.3,677.9 453.3,676" stroke="#444" stroke-width="7"/>
<path d="M675,786.1 C674.2,788 667.8,789.6 670.2,797.9 C672.7,806.3 690.4,828.9 689.8,836.2 C689.1,843.5 670.3,840.9 666.4,841.8" stroke="#444" stroke-width="7"/>
<path d="M468.7,836.2 C472.7,840.6 487.8,853.5 492.7,862.7 C497.6,871.9 497.7,888.2 498.3,891.3 C498.9,894.4 496.7,883 496.4,881.4" stroke="#444" stroke-width="7"/>
<path d="M753.7,688 C758.9,691.6 774.5,708.8 785,709.8 C795.5,710.9 809.5,695.4 816.9,694.5 C824.2,693.7 827.1,703.1 829.1,704.8" stroke="#444" stroke-width="7"/>
<path d="M1055.1,974.7 C1053,980.1 1051.2,999.9 1042.5,1007 C1033.7,1014.1 1014.1,1017.4 1002.5,1017.2 C990.9,1017.1 978,1008 973.1,1006.1" stroke="#444" stroke-width="7"/>
<path d="M1356,774.2 C1350.7,778.8 1333.9,793.9 1324.3,801.5 C1314.6,809.1 1302.3,806.9 1298.1,819.8 C1293.9,832.8 1299,869.4 1299.2,879.3" stroke="#444" stroke-width="7"/>
<path d="M925.6,729.4 C928.4,731.2 941.3,732.6 942,740.1 C942.6,747.7 929.2,763.4 929.5,774.7 C929.8,786.1 941.4,802.4 943.8,808" stroke="#444" stroke-width="7"/>
<path d="M1243.8,1210.9 C1242.5,1211.5 1236.6,1207.8 1235.8,1214.4 C1235,1220.9 1242.8,1243.6 1238.9,1250.3 C1235,1257 1216.7,1254 1212.2,1254.7" stroke="#444" stroke-width="7"/>
<path d="M796.9,829.9 C793,831.8 785.9,833.3 773.1,840.9 C760.2,848.6 734.8,871.4 719.9,875.7 C705,880.1 689.7,868.6 683.6,867.2" stroke="#444" stroke-width="7"/>
<path d="M658.2,747.6 C658.9,745.2 659.3,734.4 662.5,733.3 C665.6,732.1 671,733.3 677.2,740.6 C683.3,747.9 695.6,771.1 699.3,777.2" stroke="#444" stroke-width="7"/>
<path d="M1254.5,967.4 C1251.3,964.4 1238.1,951.4 1235.5,949.7 C1232.9,948 1240,955.9 1239.1,957 C1238.2,958.1 1231.5,956.4 1230,956.3" stroke="#444" stroke-width="7"/>
<path d="M1058.1,954.6 C1056.9,959.6 1045.7,982.9 1050.8,984.2 C1055.9,985.6 1079.6,962.3 1088.6,962.7 C1097.7,963.1 1102.2,982.5 1104.9,986.5" stroke="#444" stroke-width="7"/>
<path d="M846.8,1017.7 C850.7,1018.5 866.9,1020.2 870.2,1022.8 C873.5,1025.3 865.9,1029.5 866.4,1033.2 C866.9,1036.8 872.1,1042.7 873.3,1044.6" stroke="#444" stroke-width="7"/>
<path d="M1267.5,516.5 C1266.5,526.1 1268.9,562.2 1261.4,573.9 C1253.9,585.6 1230.5,580.3 1222.5,586.8 C1214.6,593.2 1215,608.4 1213.5,612.7" stroke="#444" stroke-width="7"/>
<path d="M1401.3,768.2 C1403.5,770 1415.5,778.8 1414.6,778.8 C1413.7,778.9 1401,771.6 1395.9,768.3 C1390.9,765 1386.1,760.5 1384.1,759" stroke="#444" stroke-width="7"/>
<path d="M880.5,774.7 C884.9,775.6 898.4,775.4 906.8,780 C915.2,784.7 919,794.6 930.8,802.4 C942.6,810.1 969.8,822.5 977.7,826.6" stroke="#444" stroke-width="7"/>
<path d="M1229.2,1087.3 C1234.4,1095.7 1252.1,1125 1260,1137.6 C1267.9,1150.1 1270.5,1151.9 1276.7,1162.7 C1282.8,1173.6 1293.6,1196 1297,1202.6" stroke="#444" stroke-width="7"/>
<path d="M851.6,775.9 C847.8,782.1 835.3,802.2 828.7,812.7 C822.1,823.3 810.6,827.3 812,839.4 C813.3,851.6 832.5,877.9 836.7,885.7" stroke="#444" stroke-width="7"/>
<path d="M741.2,553.9 C742,556.5 748.6,560.3 746.1,569.3 C743.6,578.3 729.8,596.8 726.2,608 C722.6,619.3 724.8,632 724.5,636.8" stroke="#444" stroke-width="7"/>
<path d="M949.9,496.1 C949.5,499.5 944,512.6 947.6,516.7 C951.3,520.7 963.4,511.9 971.8,520.2 C980.2,528.5 993.6,558.6 998,566.3" stroke="#444" stroke-width="7"/>
<path d="M974.3,1028.9 C968.2,1029.8 947.4,1029 937.8,1034.2 C928.2,1039.5 927.3,1050.1 916.7,1060.4 C906,1070.6 881,1089.8 873.9,1095.7" stroke="#444" stroke-width="7"/>
<path d="M669.6,530.5 C667.3,532.7 659.2,538.4 656,544.1 C652.7,549.8 658.3,557.7 650.1,564.8 C641.9,571.9 614,582.9 606.7,586.6" stroke="#444" stroke-width="7"/>
<path d="M907.3,730.7 C908.7,738.6 921.4,767.6 915.5,778.5 C909.7,789.3 877.1,785.3 872,795.9 C866.9,806.5 882.7,834.4 884.8,842.1" stroke="#444" stroke-width="7"/>
<path d="M898.5,756.8 C894.9,761.4 887.8,780.8 876.7,784.2 C865.7,787.6 845.4,775 832.2,777.1 C818.9,779.2 803.1,793.4 797.3,796.7" stroke="#444" stroke-width="7"/>
<path d="M877.4,916.2 C880.8,913.6 888.9,900.1 898,900.5 C907.1,901 926.1,917.9 932,919.1 C938,920.2 933.5,909.4 933.8,907.5" stroke="#444" stroke-width="7"/>
<path d="M505.1,857.7 C504.3,860 506.4,870 500.4,871.6 C494.3,873.2 474.1,863.2 468.9,867.3 C463.7,871.5 469.1,891.6 469.2,896.5" stroke="#444" stroke-width="7"/>
<path d="M1289.2,737 C1293.6,741 1306.1,759.7 1315.5,760.7 C1325,761.6 1340.9,742.1 1345.6,743 C1350.3,743.8 1344.2,762 1344,765.9" stroke="#444" stroke-width="7"/>
<path d="M496.1,576.5 C498.7,582.1 503.8,602.1 511.8,610.2 C519.8,618.2 534.6,618.9 544.2,624.8 C553.7,630.7 564.9,642 569,645.5" stroke="#444" stroke-width="7"/>
<path d="M1021.3,919.5 C1026.9,922.7 1045.8,936.4 1054.9,938.8 C1063.9,941.3 1065.6,927.7 1075.5,934.4 C1085.4,941.2 1107.8,972 1114.2,979.6" stroke="#444" stroke-width="7"/>
<path d="M841.8,866.9 C846.4,875.7 863.8,906.8 869.4,920 C875,933.2 869.6,942.3 875.2,946 C880.8,949.6 898.4,942.8 903,942.2" stroke="#444" stroke-width="7"/>
<path d="M1127.1,672.5 C1128.5,675.5 1139.2,682.1 1135.8,690.8 C1132.4,699.5 1115.1,717.9 1106.7,724.7 C1098.2,731.5 1088.9,730.3 1085.4,731.5" stroke="#444" stroke-width="7"/>
<path d="M1146.2,851.6 C1150.1,858 1164,882.2 1169.8,890 C1175.5,897.8 1180.2,889.9 1180.9,898.2 C1181.7,906.5 1175.3,933 1174.2,939.9" stroke="#444" stroke-width="7"/>
<path d="M1122.3,679.4 C1124.4,682 1135.5,686.7 1135.3,694.7 C1135,702.7 1121.6,716.4 1120.8,727.3 C1119.9,738.2 1128.5,754.5 1130.1,760" stroke="#444" stroke-width="7"/>
<path d="M501.1,717 C501.1,721.5 497,737 501,743.8 C505,750.6 518,755.7 524.9,757.8 C531.8,759.9 539.4,756.7 542.3,756.5" stroke="#444" stroke-width="7"/>
<path d="M1262.9,831 C1267.7,832.1 1286,832.3 1291.6,838 C1297.2,843.7 1298,859.5 1296.5,865 C1295,870.6 1285,870.4 1282.7,871.4" stroke="#444" stroke-width="7"/>
<path d="M952,848.7 C953,851.2 958.3,860.5 957.9,863.6 C957.6,866.7 945,867.8 950.1,867.3 C955.2,866.9 982.2,862.1 988.6,861" stroke="#444" stroke-width="7"/>
<path d="M647,1057.3 C651.8,1061.9 664.6,1079.9 675.8,1084.7 C687,1089.4 704,1083.7 714.3,1085.8 C724.5,1087.9 733.5,1095.5 737.3,1097.4" stroke="#444" stroke-width="7"/>
<path d="M1210.2,572.7 C1208.3,580.7 1200.9,607.6 1198.6,620.8 C1196.3,634 1195.6,641 1196.4,651.8 C1197.1,662.6 1202.1,679.9 1203.2,685.6" stroke="#444" stroke-width="7"/>
<path d="M1249.3,1036.4 C1252.4,1035.3 1268.5,1024.2 1268,1030 C1267.5,1035.9 1245.4,1065.2 1246.2,1071.3 C1246.9,1077.4 1268.3,1067.4 1272.7,1066.6" stroke="#444" stroke-width="7"/>
<path d="M1147.3,477.8 C1143.8,485.4 1126.1,513.7 1126.5,523.2 C1126.8,532.6 1151.5,528 1149.4,534.3 C1147.3,540.6 1119.8,556.5 1113.8,561" stroke="#444" stroke-width="7"/>
<path d="M1184.4,685 C1185.8,689.5 1193,697.1 1192.7,711.8 C1192.4,726.4 1184.2,760.8 1182.7,773 C1181.2,785.3 1183.6,783.2 1183.8,785.2" stroke="#444" stroke-width="7"/>
<path d="M934,685.6 C931.4,686.2 924.5,689 918.5,689.1 C912.5,689.2 906.6,685.7 897.9,686.2 C889.2,686.7 871.6,691.2 866.3,692.2" stroke="#444" stroke-width="7"/>
<path d="M1163.7,677.8 C1169.5,681.8 1189.4,696.4 1198.2,701.3 C1207,706.3 1213.9,705.4 1216.4,707.4 C1218.8,709.3 1213.6,712.2 1213,713.1" stroke="#444" stroke-width="7"/>
<path d="M721.8,549.9 C720.5,553.9 716.9,568.5 714.1,573.8 C711.2,579.1 708.3,579.4 704.8,581.7 C701.3,584.1 694.9,586.7 692.9,587.7" stroke="#444" stroke-width="7"/>
<path d="M1151.1,833.4 C1155.7,832.2 1165.6,825.4 1179.1,826.2 C1192.7,827.1 1221.9,829.7 1232.6,838.5 C1243.2,847.4 1241.3,872.4 1243,879.2" stroke="#444" stroke-width="7"/>
<path d="M485.3,812.9 C480.1,816.4 458.8,825.9 453.7,834.1 C448.6,842.2 449.1,852.6 454.7,861.6 C460.2,870.5 481.6,883.4 487,887.8" stroke="#444" stroke-width="7"/>
<path d="M637.9,800.3 C639.6,805.1 644.8,821.5 648.3,829.1 C651.8,836.6 654.1,845.4 658.7,845.6 C663.3,845.9 673.1,833 676,830.5" stroke="#444" stroke-width="7"/>
<path d="M1177.4,832.4 C1174.5,837.7 1164.4,859.5 1160.1,864.6 C1155.8,869.7 1161.5,856.5 1151.6,863.1 C1141.7,869.6 1109.1,897.1 1100.6,903.9" stroke="#444" stroke-width="7"/>
<path d="M1360.7,742.8 C1359.3,743.7 1358,739.4 1352,748 C1346.1,756.5 1332.6,784.7 1325.1,794.3 C1317.7,803.9 1310.2,803.7 1307.2,805.6" stroke="#444" stroke-width="7"/>
<path d="M654.7,676.5 C647.8,680.2 623.6,691.1 613.5,698.7 C603.5,706.4 596.7,711.8 594.4,722.6 C592,733.3 598.5,756.5 599.3,763.3" stroke="#444" stroke-width="7"/>
<path d="M575.8,544.8 C580.9,547.6 601.7,558.5 606.3,561.3 C610.9,564.1 602.9,559 603.4,561.8 C603.9,564.6 608.3,575.3 609.3,578" stroke="#444" stroke-width="7"/>
<path d="M1160.3,691.4 C1158,696.2 1148.4,712 1146.7,720 C1144.9,728 1154.7,733.4 1149.9,739.3 C1145.1,745.3 1123.1,752.9 1117.7,755.7" stroke="#444" stroke-width="7"/>
<path d="M846.1,697.9 C848.7,703.7 857.7,726.3 861.9,732.9 C866.1,739.5 870,729.2 871.4,737.6 C872.8,745.9 870.5,775.3 870.3,782.8" stroke="#444" stroke-width="7"/>
<path d="M520.1,572.1 C520.4,572.9 530.6,570.1 522.2,577.1 C513.8,584 479.8,609.2 469.5,613.9 C459.2,618.6 461.8,606.8 460.3,605.4" stroke="#444" stroke-width="7"/>
<path d="M645.3,585.7 C638.7,585.6 613.7,582.6 605.5,585.2 C597.2,587.7 601.3,598.2 595.7,601.2 C590.2,604.2 576.1,602.6 572.2,602.9" stroke="#444" stroke-width="7"/>
<path d="M952,473.9 C948.9,480.3 936.3,503.9 933.2,512.6 C930.1,521.3 932.1,523 933.3,526 C934.6,529.1 939.4,530.2 940.7,531" stroke="#444" stroke-width="7"/>
<path d="M780.6,657.5 C780.4,660.9 780.1,668.6 779.6,678 C779.1,687.3 784.2,703.7 777.6,713.5 C770.9,723.3 745.9,733.1 739.6,737" stroke="#444" stroke-width="7"/>
<path d="M461.6,640.4 C462,647.1 464.4,670.1 464,680.5 C463.6,690.9 460.2,699.2 459.1,702.8 C458.1,706.4 457.9,702.2 457.7,702.1" stroke="#444" stroke-width="7"/>
<path d="M855.6,685.8 C855.3,689.2 853.1,694.5 853.6,706.2 C854.1,718 858.2,742.5 858.4,756.1 C858.7,769.8 855.6,782.8 855,788.2" stroke="#444" stroke-width="7"/>
<path d="M791.1,1020 C796.5,1022.9 812.5,1035.5 823.5,1037.4 C834.4,1039.3 844.5,1024.7 856.7,1031.6 C869,1038.5 890.3,1071.1 897,1079" stroke="#444" stroke-width="7"/>
<path d="M1270.6,1165 C1270.4,1167.2 1272.2,1173.9 1269.6,1178.3 C1266.9,1182.7 1258,1190 1254.6,1191.6 C1251.3,1193.3 1250.2,1188.8 1249.3,1188.3" stroke="#444" stroke-width="7"/>
<path d="M1221,860.4 C1230.9,863 1266.2,873.5 1280.6,876 C1295,878.5 1300.3,870 1307.6,875.5 C1314.9,880.9 1321.6,903.2 1324.4,908.8" stroke="#444" stroke-width="7"/>
<path d="M415,857.9 C411.5,858.6 400,865.4 394,862.2 C387.9,859.1 387.4,838.9 378.8,838.8 C370.2,838.6 348.6,857.4 342.6,861.1" stroke="#444" stroke-width="7"/>
<path d="M1006.1,503.8 C1000.3,506 976.6,512.2 971.2,517 C965.9,521.8 980.2,532 974.1,532.6 C967.9,533.3 941,523 934.4,521.1" stroke="#444" stroke-width="7"/>
<path d="M809.4,696.7 C811.8,704.3 824.4,733.8 823.6,742.1 C822.8,750.4 804.4,736.8 804.8,746.4 C805.1,756 822.2,790.7 825.6,799.6" stroke="#444" stroke-width="7"/>
<path d="M1006.3,741.2 C1003.3,744.7 994.8,756.2 988,762.3 C981.1,768.3 971.2,777.6 965.3,777.7 C959.4,777.9 954.5,765.6 952.4,763.2" stroke="#444" stroke-width="7"/>
<path d="M1067.4,900.4 C1067.8,902.5 1071,906.3 1069.5,912.9 C1068.1,919.4 1061.8,932.9 1058.9,939.9 C1056,946.9 1053.3,952.5 1052.2,955" stroke="#444" stroke-width="7"/>
<path d="M871.9,759.7 C871.9,764.7 876.9,784.8 871.6,789.9 C866.3,794.9 846.1,782.7 840.2,789.7 C834.4,796.7 836.9,824.9 836.3,832" stroke="#444" stroke-width="7"/>
<path d="M816.2,875.5 C814.3,877.9 800.7,886 804.7,889.8 C808.6,893.6 829.2,891.4 839.8,898.3 C850.4,905.1 863.6,925.4 868.3,930.8" stroke="#444" stroke-width="7"/>
<path d="M679.6,921.1 C675.4,922.4 658.5,921.7 654.5,928.8 C650.4,935.9 656.5,953.9 655.5,963.6 C654.4,973.3 649.5,983.1 648.3,987" stroke="#444" stroke-width="7"/>
<path d="M1231.5,870.5 C1235.9,874.9 1248.1,889.6 1257.6,896.9 C1267.1,904.2 1283.9,907.2 1288.4,914.2 C1292.9,921.1 1285.3,934.4 1284.7,938.4" stroke="#444" stroke-width="7"/>
<path d="M1274.8,1111.4 C1271.9,1115.4 1256.2,1128.7 1257.3,1135.6 C1258.4,1142.4 1278.9,1148.6 1281.4,1152.2 C1283.8,1155.8 1273.6,1156.4 1272.1,1157.2" stroke="#444" stroke-width="7"/>
<path d="M615,492.7 C621.3,496.3 639.8,509.3 652.8,514.6 C665.8,520 681.1,524.2 692.8,524.9 C704.5,525.6 717.9,519.9 722.9,518.9" stroke="#444" stroke-width="7"/>
<path d="M630.7,694.3 C632.1,698.7 639.9,712.9 638.9,721 C637.9,729 623.6,732.3 624.7,742.5 C625.7,752.6 641.8,775.2 645.2,781.8" stroke="#444" stroke-width="7"/>
<path d="M763.1,672.1 C760.6,677.9 754.4,697.8 748.1,707 C741.8,716.3 728.5,718.9 725.2,727.5 C722,736.2 728.1,753.8 728.7,759.1" stroke="#444" stroke-width="7"/>
<path d="M1330.2,913.8 C1329,917 1329.8,931.2 1323,933 C1316.2,934.9 1303.3,922.4 1289.1,924.8 C1275,927.3 1246.5,943.8 1238,947.6" stroke="#444" stroke-width="7"/>
<path d="M761.9,659.1 C757.6,661 744.8,669.4 736.4,670.6 C728.1,671.7 717.8,661.9 711.9,666.2 C706,670.5 702.8,691.3 701,696.3" stroke="#444" stroke-width="7"/>
<path d="M1133.6,627 C1134.1,630.3 1130.1,642.7 1136.6,646.8 C1143.1,651 1162.1,647.6 1172.7,651.8 C1183.2,655.9 1195.4,668.5 1199.9,671.9" stroke="#444" stroke-width="7"/>
<path d="M1067.1,1083.7 C1065,1081.6 1057.9,1076.6 1054.3,1071.4 C1050.7,1066.2 1049.9,1052 1045.4,1052.5 C1041,1053.1 1030.4,1071 1027.4,1074.7" stroke="#444" stroke-width="7"/>
<path d="M980.8,645.1 C982.3,650.9 991.8,671.9 989.5,679.9 C987.2,687.9 972.3,689.9 967,693.3 C961.8,696.6 959.4,698.9 957.9,700.1" stroke="#444" stroke-width="7"/>
<path d="M1100.6,1066.2 C1108.7,1064.5 1136.2,1051.6 1149.1,1056.3 C1162,1061.1 1166.8,1090.2 1178,1094.5 C1189.3,1098.9 1210.2,1084.4 1216.7,1082.3" stroke="#444" stroke-width="7"/>
<path d="M1236.6,722.5 C1232.9,719.4 1217.8,706.6 1214.8,703.8 C1211.8,701.1 1222.8,700 1218.5,706.1 C1214.2,712.1 1193.8,734.4 1188.8,740.1" stroke="#444" stroke-width="7"/>
<path d="M1015.4,680.7 C1010,683.1 988,685.7 982.6,695.3 C977.2,704.8 992.9,731.8 983.1,738 C973.3,744.3 933.7,733.5 923.8,732.6" stroke="#444" stroke-width="7"/>
<path d="M593.1,531.7 C590.4,535.9 586.3,550.6 577.4,556.5 C568.5,562.3 546.9,566.5 539.7,566.8 C532.5,567.1 535.3,559.6 534.4,558.1" stroke="#444" stroke-width="7"/>
<path d="M967.2,641.5 C964.1,647.8 953.1,675.8 948.3,679.2 C943.5,682.6 944,660.3 938.2,661.8 C932.3,663.4 917.3,684.1 913.2,688.5" stroke="#444" stroke-width="7"/>
<path d="M1073.8,866.8 C1076.6,868.3 1084,869.2 1090.4,875.7 C1096.7,882.1 1109.2,896.5 1111.9,905.6 C1114.7,914.7 1107.7,926.4 1106.9,930.5" stroke="#444" stroke-width="7"/>
<path d="M1205.5,1010.9 C1206.9,1015 1210.7,1029.6 1214,1035.8 C1217.3,1041.9 1220.7,1042.6 1225,1047.9 C1229.4,1053.2 1237.5,1064.4 1240,1067.6" stroke="#444" stroke-width="7"/>
<path d="M529.2,622 C525.9,624.5 512.6,632.2 508.9,637.1 C505.1,642 509.3,647.9 506.7,651.7 C504.2,655.5 495.6,658.6 493.3,659.9" stroke="#444" stroke-width="7"/>
<path d="M1078.1,539.2 C1080.5,544.5 1091,565.1 1092.6,571 C1094.2,576.8 1089.4,566.4 1087.6,574.3 C1085.9,582.3 1083.1,611.2 1082.2,618.6" stroke="#444" stroke-width="7"/>
<path d="M749.7,997.7 C751.9,1001.2 763,1012.7 762.9,1018.4 C762.9,1024 753.3,1024.1 749.5,1031.8 C745.7,1039.4 741.8,1058.9 740.2,1064.3" stroke="#444" stroke-width="7"/>
<path d="M1094.7,1160.8 C1099.6,1161.3 1114.9,1157.4 1124.2,1163.8 C1133.6,1170.2 1137.5,1191.8 1150.6,1199.4 C1163.7,1207 1194,1207.7 1202.7,1209.3" stroke="#444" stroke-width="7"/>
<path d="M777,820.2 C772.2,824.1 756.5,838.2 748.3,843.6 C740.2,849 732.9,851.7 728.1,852.5 C723.4,853.4 721.1,849.4 719.8,848.8" stroke="#444" stroke-width="7"/>
<path d="M883.5,841.8 C877.6,840.6 850.3,829.8 848,834.5 C845.6,839.1 872.2,861.9 869.4,869.8 C866.5,877.8 837.3,880.1 830.9,882.1" stroke="#444" stroke-width="7"/>
<path d="M1073.9,522.4 C1079.4,527.8 1101.2,545.5 1106.7,554.3 C1112.1,563.1 1106.5,567.1 1106.5,575.1 C1106.4,583.2 1106.3,597.9 1106.3,602.5" stroke="#444" stroke-width="7"/>
<path d="M1029.1,883.9 C1033.8,884.9 1057.2,878.4 1057.8,890.3 C1058.4,902.2 1037.6,940.4 1032.6,955.4 C1027.5,970.3 1028.2,976 1027.4,980.2" stroke="#444" stroke-width="7"/>
<path d="M988,436.2 C987.6,441.8 991.4,465.3 985.4,470 C979.3,474.7 958.1,461.3 951.7,464.6 C945.3,467.9 947.7,485.6 946.9,489.8" stroke="#444" stroke-width="7"/>
<path d="M597.1,664.8 C597.4,666.3 594.7,669.3 598.9,673.7 C603.1,678.1 621.6,680.4 622.1,691.2 C622.6,701.9 605.1,730.5 601.7,738.3" stroke="#444" stroke-width="7"/>
<path d="M495.8,854.6 C492.3,861 475.7,884.5 474.9,893.4 C474,902.2 493.4,899.3 490.5,907.7 C487.6,916.1 463.1,937.7 457.6,943.7" stroke="#444" stroke-width="7"/>
<path d="M1171.2,1216.6 C1171.5,1219.9 1168.2,1231 1173.3,1236.2 C1178.4,1241.4 1190.7,1246 1201.9,1247.7 C1213.2,1249.3 1234.1,1246.5 1240.5,1246.2" stroke="#444" stroke-width="7"/>
<path d="M1125.2,542.3 C1121.7,543.8 1106.3,545.1 1104,551.3 C1101.6,557.6 1117.1,567.7 1110.9,579.8 C1104.8,591.9 1074.4,616.7 1067,624" stroke="#444" stroke-width="7"/>
<path d="M873.4,991.4 C874.4,994.4 876.9,1003.7 879.4,1009 C882,1014.3 886.5,1021 888.7,1023.1 C890.8,1025.2 891.7,1021.8 892.3,1021.5" stroke="#444" stroke-width="7"/>
<path d="M900.7,691.1 C903.9,692.7 919.8,691.4 919.7,700.7 C919.7,709.9 902.9,739.6 900.2,746.8 C897.6,753.9 903.1,744 903.7,743.5" stroke="#444" stroke-width="7"/>
<path d="M806.1,1125.8 C803.5,1131.9 790.6,1154.5 790.6,1162.4 C790.5,1170.3 800.8,1168.2 805.8,1173 C810.8,1177.8 818,1188.2 820.4,1191.2" stroke="#444" stroke-width="7"/>
<path d="M1239.3,755.6 C1239.6,761 1236,779.9 1240.9,788.2 C1245.8,796.5 1260.1,799.3 1268.7,805.6 C1277.3,811.9 1288.5,822.6 1292.4,826.1" stroke="#444" stroke-width="7"/>
<path d="M1286.3,688.2 C1292.8,691 1319.4,697.5 1325.1,705.2 C1330.9,712.9 1316.6,729.1 1320.9,734.5 C1325.3,739.8 1346.3,736.7 1351.4,737.2" stroke="#444" stroke-width="7"/>
<path d="M594.4,652 C593.7,658.4 588.8,682.8 590.2,690.7 C591.7,698.5 601.7,693.4 603,699.1 C604.3,704.7 598.8,720.2 597.9,724.5" stroke="#444" stroke-width="7"/>
<path d="M1105.6,419.7 C1104.6,418 1108.3,408.6 1099.3,409.3 C1090.3,409.9 1060.7,419.8 1051.7,423.8 C1042.7,427.7 1046.4,431.4 1045.4,432.9" stroke="#444" stroke-width="7"/>
<path d="M414.1,872.4 C419.5,877 441.9,892.9 446.5,900.3 C451,907.6 438.9,909.2 441.5,916.5 C444,923.9 458.6,939.6 462,944.3" stroke="#444" stroke-width="7"/>
<path d="M1019.8,523.8 C1019.9,524.9 1015.7,526.5 1020.4,530.8 C1025.1,535 1038.9,545.8 1048.1,549.3 C1057.3,552.9 1071.1,551.7 1075.7,552.2" stroke="#444" stroke-width="7"/>
<path d="M968.8,600.7 C972.2,603.4 986.5,605.6 989,616.7 C991.6,627.9 983.5,658.3 983.9,667.6 C984.4,677 990.3,671.9 991.6,672.8" stroke="#444" stroke-width="7"/>
<path d="M630.9,823 C633.1,828.7 643.3,848.2 644.2,857.2 C645,866.3 634.9,868.3 636,877.3 C637,886.4 648.1,906 650.6,911.8" stroke="#444" stroke-width="7"/>
<path d="M1059.1,700.2 C1062.7,703.3 1072.6,715.5 1081,718.7 C1089.5,721.9 1099.2,716.2 1109.8,719.4 C1120.5,722.5 1139.2,734.5 1145,737.5" stroke="#444" stroke-width="7"/>
<path d="M1236.7,641.8 C1241.7,647.4 1259.6,669.1 1267.1,675.4 C1274.6,681.8 1275.7,678.6 1281.6,680 C1287.5,681.3 1299.1,683 1302.6,683.6" stroke="#444" stroke-width="7"/>
<path d="M1244.3,489.6 C1241.7,492.6 1235.6,505.6 1229.2,507.8 C1222.8,510 1213.3,500.4 1206,502.9 C1198.8,505.5 1189.2,519.8 1185.8,523.2" stroke="#444" stroke-width="7"/>
<path d="M1070,1140 C1088.3,1135 1141.7,1116.7 1180,1110 C1218.3,1103.3 1271.7,1099.2 1300,1100 C1328.3,1100.8 1341.7,1112.5 1350,1115" stroke="#555" stroke-width="5"/>
<path d="M1070,1175 C1088.3,1170 1141.7,1151.7 1180,1145 C1218.3,1138.3 1271.7,1134.2 1300,1135 C1328.3,1135.8 1341.7,1147.5 1350,1150" stroke="#555" stroke-width="5"/>
<path d="M1070,1210 C1088.3,1205 1141.7,1186.7 1180,1180 C1218.3,1173.3 1271.7,1169.2 1300,1170 C1328.3,1170.8 1341.7,1182.5 1350,1185" stroke="#555" stroke-width="5"/>
<path d="M1070,1245 C1088.3,1240 1141.7,1221.7 1180,1215 C1218.3,1208.3 1271.7,1204.2 1300,1205 C1328.3,1205.8 1341.7,1217.5 1350,1220" stroke="#555" stroke-width="5"/>
<path d="M1070,1280 C1088.3,1275 1141.7,1256.7 1180,1250 C1218.3,1243.3 1271.7,1239.2 1300,1240 C1328.3,1240.8 1341.7,1252.5 1350,1255" stroke="#555" stroke-width="5"/>
<path d="M600,1050 C633.3,1035 741.7,985 800,960 C858.3,935 900,916.7 950,900 C1000,883.3 1075,866.7 1100,860" stroke="#333" stroke-width="6"/>
</g>
<line x1="1235" y1="12" x2="1235" y2="152" stroke="#222" stroke-width="2.2"/>
<line x1="1145" y1="85.4" x2="1302" y2="85.4" stroke="#222" stroke-width="2.2"/>
<rect x="167" y="531" width="209" height="208" fill="none" stroke="#f5b5b5" stroke-width="1.5"/>
<rect x="220.2" y="533" width="50.9" height="50.6" fill="#f9e2e3"/>
<rect x="170" y="583" width="50.9" height="50.6" fill="#e8878b"/>
<rect x="220.2" y="583" width="50.9" height="50.6" fill="#d7303a"/>
<rect x="270.5" y="583" width="50.9" height="50.6" fill="#e8878b"/>
<rect x="320.8" y="583" width="50.9" height="50.6" fill="#e05c63"/>
<rect x="220.2" y="633" width="50.9" height="50.6" fill="#f2b7bb"/>
<rect x="270.5" y="633" width="50.9" height="50.6" fill="#e05c63"/>
<rect x="270.5" y="683" width="50.9" height="50.6" fill="#f2b7bb"/>
<rect x="170" y="533" width="50.2" height="50" fill="none" stroke="#585858" stroke-width="1.5"/>
<rect x="270.5" y="533" width="50.2" height="50" fill="none" stroke="#585858" stroke-width="1.5"/>
<rect x="320.8" y="533" width="50.2" height="50" fill="none" stroke="#585858" stroke-width="1.5"/>
<rect x="170" y="633" width="50.2" height="50" fill="none" stroke="#585858" stroke-width="1.5"/>
<rect x="320.8" y="633" width="50.2" height="50" fill="none" stroke="#585858" stroke-width="1.5"/>
<rect x="170" y="683" width="50.2" height="50" fill="none" stroke="#585858" stroke-width="1.5"/>
<rect x="220.2" y="683" width="50.2" height="50" fill="none" stroke="#585858" stroke-width="1.5"/>
<rect x="320.8" y="683" width="50.2" height="50" fill="none" stroke="#585858" stroke-width="1.5"/>
<rect x="408" y="530" width="38" height="37" fill="#e8878b" stroke="#111" stroke-width="2.2"/>
<rect x="408" y="567" width="38" height="37" fill="#f9e2e3" stroke="#111" stroke-width="2.2"/>
<rect x="408" y="604" width="38" height="37" fill="#d7303a" stroke="#111" stroke-width="2.2"/>
<rect x="408" y="641" width="38" height="37" fill="#f2b7bb" stroke="#111" stroke-width="2.2"/>
<rect x="408" y="678" width="38" height="37" fill="#e8878b" stroke="#111" stroke-width="2.2"/>
<rect x="408" y="715" width="38" height="37" fill="#e05c63" stroke="#111" stroke-width="2.2"/>
<rect x="408" y="752" width="38" height="37" fill="#f2b7bb" stroke="#111" stroke-width="2.2"/>
<rect x="408" y="789" width="38" height="37" fill="#e05c63" stroke="#111" stroke-width="2.2"/>
<text x="198" y="794.6" font-size="50.6" font-weight="bold" fill="#f96a6a" text-anchor="start" textLength="142" lengthAdjust="spacingAndGlyphs" font-family="'Liberation Sans', Arial, sans-serif">HAND</text>
<rect x="642.5" y="585" width="51" height="50.6" fill="#fddfbf"/>
<rect x="692.9" y="585" width="51" height="50.6" fill="#fcc48e"/>
<rect x="793.6" y="585" width="51" height="50.6" fill="#fbad63"/>
<rect x="692.9" y="635" width="51" height="50.6" fill="#fdf1e4"/>
<rect x="743.2" y="635" width="51" height="50.6" fill="#f9a043"/>
<rect x="793.6" y="635" width="51" height="50.6" fill="#fcc48e"/>
<rect x="743.2" y="685" width="51" height="50.6" fill="#fcc48e"/>
<rect x="793.6" y="685" width="51" height="50.6" fill="#fddfbf"/>
<rect x="642.5" y="535" width="50.4" height="50" fill="none" stroke="#585858" stroke-width="1.5"/>
<rect x="692.9" y="535" width="50.4" height="50" fill="none" stroke="#585858" stroke-width="1.5"/>
<rect x="743.2" y="535" width="50.4" height="50" fill="none" stroke="#585858" stroke-width="1.5"/>
<rect x="793.6" y="535" width="50.4" height="50" fill="none" stroke="#585858" stroke-width="1.5"/>
<rect x="743.2" y="585" width="50.4" height="50" fill="none" stroke="#585858" stroke-width="1.5"/>
<rect x="642.5" y="635" width="50.4" height="50" fill="none" stroke="#585858" stroke-width="1.5"/>
<rect x="642.5" y="685" width="50.4" height="50" fill="none" stroke="#585858" stroke-width="1.5"/>
<rect x="692.9" y="685" width="50.4" height="50" fill="none" stroke="#585858" stroke-width="1.5"/>
<rect x="883" y="530" width="35.6" height="37" fill="#fddfbf" stroke="#111" stroke-width="2.2"/>
<rect x="883" y="567" width="35.6" height="37" fill="#fcc48e" stroke="#111" stroke-width="2.2"/>
<rect x="883" y="604" width="35.6" height="37" fill="#fdf1e4" stroke="#111" stroke-width="2.2"/>
<rect x="883" y="641" width="35.6" height="37" fill="#f9a043" stroke="#111" stroke-width="2.2"/>
<rect x="883" y="678" width="35.6" height="37" fill="#fcc48e" stroke="#111" stroke-width="2.2"/>
<rect x="883" y="715" width="35.6" height="37" fill="#fbad63" stroke="#111" stroke-width="2.2"/>
<rect x="883" y="752" width="35.6" height="37" fill="#fcc48e" stroke="#111" stroke-width="2.2"/>
<rect x="883" y="789" width="35.6" height="37" fill="#fddfbf" stroke="#111" stroke-width="2.2"/>
<text x="655.4" y="795" font-size="51" font-weight="bold" fill="#eecb72" text-anchor="start" textLength="165.8" lengthAdjust="spacingAndGlyphs" font-family="'Liberation Sans', Arial, sans-serif">ROBOT</text>
<rect x="1090" y="532.5" width="51.1" height="50.8" fill="#d4ecd0"/>
<rect x="1090" y="582.7" width="51.1" height="50.8" fill="#77c56d"/>
<rect x="1140.5" y="582.7" width="51.1" height="50.8" fill="#c6e6c0"/>
<rect x="1191" y="582.7" width="51.1" height="50.8" fill="#c6e6c0"/>
<rect x="1090" y="633" width="51.1" height="50.8" fill="#aedda6"/>
<rect x="1140.5" y="633" width="51.1" height="50.8" fill="#77c56d"/>
<rect x="1191" y="633" width="51.1" height="50.8" fill="#c6e6c0"/>
<rect x="1140.5" y="683.2" width="51.1" height="50.8" fill="#d4ecd0"/>
<rect x="1140.5" y="532.5" width="50.5" height="50.2" fill="none" stroke="#585858" stroke-width="1.5"/>
<rect x="1191" y="532.5" width="50.5" height="50.2" fill="none" stroke="#585858" stroke-width="1.5"/>
<rect x="1241.5" y="532.5" width="50.5" height="50.2" fill="none" stroke="#585858" stroke-width="1.5"/>
<rect x="1241.5" y="582.7" width="50.5" height="50.2" fill="none" stroke="#585858" stroke-width="1.5"/>
<rect x="1241.5" y="633" width="50.5" height="50.2" fill="none" stroke="#585858" stroke-width="1.5"/>
<rect x="1090" y="683.2" width="50.5" height="50.2" fill="none" stroke="#585858" stroke-width="1.5"/>
<rect x="1191" y="683.2" width="50.5" height="50.2" fill="none" stroke="#585858" stroke-width="1.5"/>
<rect x="1241.5" y="683.2" width="50.5" height="50.2" fill="none" stroke="#585858" stroke-width="1.5"/>
<rect x="1326.6" y="527.5" width="37.4" height="37" fill="#d4ecd0" stroke="#111" stroke-width="2.2"/>
<rect x="1326.6" y="564.5" width="37.4" height="37" fill="#77c56d" stroke="#111" stroke-width="2.2"/>
<rect x="1326.6" y="601.5" width="37.4" height="37" fill="#aedda6" stroke="#111" stroke-width="2.2"/>
<rect x="1326.6" y="638.5" width="37.4" height="37" fill="#bde3b5" stroke="#111" stroke-width="2.2"/>
<rect x="1326.6" y="675.5" width="37.4" height="37" fill="#77c56d" stroke="#111" stroke-width="2.2"/>
<rect x="1326.6" y="712.4" width="37.4" height="37" fill="#d8eed4" stroke="#111" stroke-width="2.2"/>
<rect x="1326.6" y="749.4" width="37.4" height="37" fill="#cce8c6" stroke="#111" stroke-width="2.2"/>
<rect x="1326.6" y="786.4" width="37.4" height="37" fill="#c6e6c0" stroke="#111" stroke-width="2.2"/>
<text x="1113" y="796.6" font-size="52" font-weight="bold" fill="#a9ca7b" text-anchor="start" textLength="161.6" lengthAdjust="spacingAndGlyphs" font-family="'Liberation Sans', Arial, sans-serif">GLOVE</text>
<rect x="1595.7" y="535.8" width="50.6" height="50.4" fill="#c6dcec"/>
<rect x="1545.7" y="585.6" width="50.6" height="50.4" fill="#68a5cf"/>
<rect x="1595.7" y="585.6" width="50.6" height="50.4" fill="#3578a7"/>
<rect x="1645.7" y="585.6" width="50.6" height="50.4" fill="#68a5cf"/>
<rect x="1695.7" y="585.6" width="50.6" height="50.4" fill="#7bb1d6"/>
<rect x="1545.7" y="635.4" width="50.6" height="50.4" fill="#c6dcec"/>
<rect x="1595.7" y="635.4" width="50.6" height="50.4" fill="#7bb1d6"/>
<rect x="1595.7" y="685.2" width="50.6" height="50.4" fill="#68a5cf"/>
<rect x="1545.7" y="535.8" width="50" height="49.8" fill="none" stroke="#585858" stroke-width="1.5"/>
<rect x="1645.7" y="535.8" width="50" height="49.8" fill="none" stroke="#585858" stroke-width="1.5"/>
<rect x="1695.7" y="535.8" width="50" height="49.8" fill="none" stroke="#585858" stroke-width="1.5"/>
<rect x="1645.7" y="635.4" width="50" height="49.8" fill="none" stroke="#585858" stroke-width="1.5"/>
<rect x="1695.7" y="635.4" width="50" height="49.8" fill="none" stroke="#585858" stroke-width="1.5"/>
<rect x="1545.7" y="685.2" width="50" height="49.8" fill="none" stroke="#585858" stroke-width="1.5"/>
<rect x="1645.7" y="685.2" width="50" height="49.8" fill="none" stroke="#585858" stroke-width="1.5"/>
<rect x="1695.7" y="685.2" width="50" height="49.8" fill="none" stroke="#585858" stroke-width="1.5"/>
<rect x="1784" y="536.7" width="38" height="37.2" fill="#68a5cf" stroke="#111" stroke-width="2.2"/>
<rect x="1784" y="573.9" width="38" height="37.2" fill="#c6dcec" stroke="#111" stroke-width="2.2"/>
<rect x="1784" y="611" width="38" height="37.2" fill="#cde0ee" stroke="#111" stroke-width="2.2"/>
<rect x="1784" y="648.2" width="38" height="37.2" fill="#3578a7" stroke="#111" stroke-width="2.2"/>
<rect x="1784" y="685.4" width="38" height="37.2" fill="#7bb1d6" stroke="#111" stroke-width="2.2"/>
<rect x="1784" y="722.5" width="38" height="37.2" fill="#68a5cf" stroke="#111" stroke-width="2.2"/>
<rect x="1784" y="759.7" width="38" height="37.2" fill="#7bb1d6" stroke="#111" stroke-width="2.2"/>
<rect x="1784" y="796.8" width="38" height="37.2" fill="#68a5cf" stroke="#111" stroke-width="2.2"/>
<text x="1577.4" y="793" font-size="51" font-weight="bold" fill="#5ea6da" text-anchor="start" textLength="140.2" lengthAdjust="spacingAndGlyphs" font-family="'Liberation Sans', Arial, sans-serif">FOOD</text>
<text transform="translate(148.7,798.2) rotate(-90)" font-family="'Liberation Sans', Arial, sans-serif" font-size="43" font-weight="bold" fill="#000" textLength="260.6" lengthAdjust="spacingAndGlyphs">Task patterns</text>
<line x1="427" y1="829" x2="210" y2="936.6" stroke="#f46a6a" stroke-width="1.7"/>
<line x1="427" y1="829" x2="312.1" y2="932.3" stroke="#f46a6a" stroke-width="1.7"/>
<line x1="427" y1="829" x2="1787.1" y2="943.4" stroke="#f46a6a" stroke-width="1.7"/>
<line x1="900.8" y1="829" x2="211.7" y2="941.9" stroke="#f0c474" stroke-width="1.7"/>
<line x1="900.8" y1="829" x2="316.7" y2="941.4" stroke="#f0c474" stroke-width="1.7"/>
<line x1="900.8" y1="829" x2="1787.2" y2="942.6" stroke="#f0c474" stroke-width="1.7"/>
<line x1="1345.3" y1="825" x2="211.9" y2="943" stroke="#a6c87e" stroke-width="1.7"/>
<line x1="1345.3" y1="825" x2="316.9" y2="942.8" stroke="#a6c87e" stroke-width="1.7"/>
<line x1="1345.3" y1="825" x2="1787.6" y2="940.2" stroke="#a6c87e" stroke-width="1.7"/>
<line x1="1803" y1="835" x2="212" y2="943.7" stroke="#5aa0d6" stroke-width="1.7"/>
<line x1="1803" y1="835" x2="316.9" y2="943.6" stroke="#5aa0d6" stroke-width="1.7"/>
<line x1="1806" y1="835" x2="1806" y2="926" stroke="#5aa0d6" stroke-width="1.7"/>
<polygon points="193,945 206.9,925.8 216.7,945.5" fill="#f46a6a"/>
<polygon points="298,945 306.3,922.8 321,939.1" fill="#f46a6a"/>
<polygon points="1806,945 1784.2,954.2 1786,932.3" fill="#f46a6a"/>
<polygon points="193,945 211.9,930.7 215.5,952.5" fill="#f0c474"/>
<polygon points="298,945 316.5,930.2 320.7,951.8" fill="#f0c474"/>
<polygon points="1806,945 1783.8,953.2 1786.6,931.4" fill="#f0c474"/>
<polygon points="193,945 212.7,931.9 215,953.8" fill="#a6c87e"/>
<polygon points="298,945 317.6,931.7 320.1,953.5" fill="#a6c87e"/>
<polygon points="1806,945 1782.9,950.4 1788.5,929.1" fill="#a6c87e"/>
<polygon points="193,945 213.2,932.6 214.7,954.5" fill="#5aa0d6"/>
<polygon points="298,945 318.1,932.5 319.7,954.4" fill="#5aa0d6"/>
<polygon points="1806,945 1795,924 1817,924" fill="#5aa0d6"/>
<rect x="174" y="954.5" width="35.5" height="37.2" fill="#808080" stroke="#111" stroke-width="2.4"/>
<rect x="174" y="991.7" width="35.5" height="37.2" fill="#d9d9d9" stroke="#111" stroke-width="2.4"/>
<rect x="174" y="1028.9" width="35.5" height="37.2" fill="#808080" stroke="#111" stroke-width="2.4"/>
<rect x="174" y="1066.1" width="35.5" height="37.2" fill="#f2f2f2" stroke="#111" stroke-width="2.4"/>
<rect x="174" y="1103.2" width="35.5" height="37.2" fill="#d9d9d9" stroke="#111" stroke-width="2.4"/>
<rect x="174" y="1140.4" width="35.5" height="37.2" fill="#a6a6a6" stroke="#111" stroke-width="2.4"/>
<rect x="174" y="1177.6" width="35.5" height="37.2" fill="#404040" stroke="#111" stroke-width="2.4"/>
<rect x="174" y="1214.8" width="35.5" height="37.2" fill="#808080" stroke="#111" stroke-width="2.4"/>
<rect x="282" y="954.5" width="33.5" height="37.2" fill="#bfbfbf" stroke="#111" stroke-width="2.4"/>
<rect x="282" y="991.7" width="33.5" height="37.2" fill="#d9d9d9" stroke="#111" stroke-width="2.4"/>
<rect x="282" y="1028.9" width="33.5" height="37.2" fill="#595959" stroke="#111" stroke-width="2.4"/>
<rect x="282" y="1066.1" width="33.5" height="37.2" fill="#f2f2f2" stroke="#111" stroke-width="2.4"/>
<rect x="282" y="1103.2" width="33.5" height="37.2" fill="#a6a6a6" stroke="#111" stroke-width="2.4"/>
<rect x="282" y="1140.4" width="33.5" height="37.2" fill="#a6a6a6" stroke="#111" stroke-width="2.4"/>
<rect x="282" y="1177.6" width="33.5" height="37.2" fill="#d9d9d9" stroke="#111" stroke-width="2.4"/>
<rect x="282" y="1214.8" width="33.5" height="37.2" fill="#808080" stroke="#111" stroke-width="2.4"/>
<rect x="1789" y="954.5" width="35" height="37.2" fill="#a6a6a6" stroke="#111" stroke-width="2.4"/>
<rect x="1789" y="991.7" width="35" height="37.2" fill="#000000" stroke="#111" stroke-width="2.4"/>
<rect x="1789" y="1028.9" width="35" height="37.2" fill="#595959" stroke="#111" stroke-width="2.4"/>
<rect x="1789" y="1066.1" width="35" height="37.2" fill="#ffffff" stroke="#111" stroke-width="2.4"/>
<rect x="1789" y="1103.2" width="35" height="37.2" fill="#d9d9d9" stroke="#111" stroke-width="2.4"/>
<rect x="1789" y="1140.4" width="35" height="37.2" fill="#808080" stroke="#111" stroke-width="2.4"/>
<rect x="1789" y="1177.6" width="35" height="37.2" fill="#a6a6a6" stroke="#111" stroke-width="2.4"/>
<rect x="1789" y="1214.8" width="35" height="37.2" fill="#d9d9d9" stroke="#111" stroke-width="2.4"/>
<circle cx="375" cy="1220" r="3.8" fill="#000"/>
<circle cx="455.5" cy="1220" r="3.8" fill="#000"/>
<circle cx="535.5" cy="1220" r="3.8" fill="#000"/>
<circle cx="615.4" cy="1220" r="3.8" fill="#000"/>
<circle cx="695.4" cy="1220" r="3.8" fill="#000"/>
<circle cx="775.4" cy="1220" r="3.8" fill="#000"/>
<circle cx="855.8" cy="1220" r="3.8" fill="#000"/>
<circle cx="935.8" cy="1220" r="3.8" fill="#000"/>
<circle cx="1015.8" cy="1220" r="3.8" fill="#000"/>
<circle cx="1095.8" cy="1220" r="3.8" fill="#000"/>
<circle cx="1175" cy="1220" r="3.8" fill="#000"/>
<circle cx="1255" cy="1220" r="3.8" fill="#000"/>
<circle cx="1347" cy="1220" r="3.8" fill="#000"/>
<circle cx="1427.6" cy="1220" r="3.8" fill="#000"/>
<circle cx="1507.5" cy="1220" r="3.8" fill="#000"/>
<circle cx="1587.5" cy="1220" r="3.8" fill="#000"/>
<circle cx="1667.5" cy="1220" r="3.8" fill="#000"/>
<circle cx="1748" cy="1220" r="3.8" fill="#000"/>
<polyline points="169.4,1308 185.5,1308 188.9,1363.6 203.9,1287.6 210.9,1329 231.6,1373 241.9,1269 248.9,1271.5 258.9,1322 270.9,1322 284.6,1345 292.7,1297 300.9,1366 313.4,1287.6 328.4,1363.6 343.4,1278 362.9,1373 369.9,1294.5 384.9,1253 390.6,1292 399.9,1297 405.6,1336 415.9,1303.7 420.6,1278.4 434.4,1278 437.9,1308 445.9,1278 458.6,1253 473.6,1278 489.9,1336 500.9,1294.5 512.9,1299 526.6,1333.7 540.4,1269 544.9,1299 551.7,1315 569.9,1317.5 569.9,1306 576.9,1354 586.3,1322 604.7,1391 618.5,1315 626.6,1373 636.9,1287.6 659.9,1333.7 675.9,1333.7 680.8,1260 687.7,1326.8 696.9,1287.6 703.9,1345 710.7,1294.5 717.6,1326.8 731.4,1260 735.9,1306 747.6,1252 750.9,1363.6 757.9,1340 763.7,1322 772.9,1354 781.9,1313 791.4,1336 800.6,1313 814.4,1373 818.9,1276 825.9,1326.8 850.9,1285 853.6,1347.5 864.9,1354 878.9,1331 885.9,1354 892.9,1333.7 903.9,1347.5 920.4,1313 922.5,1354 942.9,1354 942.9,1304 954.9,1294.5 965.9,1304 965.9,1336 975.5,1336 979.9,1294.5 986.9,1336 998.5,1294.5 1007.9,1382 1025.9,1373 1035.4,1294.5 1043.5,1391 1051.5,1322 1060.9,1345 1069.9,1294.5 1076.9,1391 1088.4,1331 1099.9,1326.8 1108.9,1283 1120.7,1299 1126.4,1363.6 1143.7,1350 1161.9,1373 1175.9,1350 1189.9,1331 1205.9,1398 1217.4,1350 1233.6,1340.6 1240.5,1373 1249.7,1285 1258.9,1343 1274.9,1310.6 1286.6,1345 1290.9,1294.5 1290.9,1382 1299.9,1354 1309.4,1310.6 1320.9,1331 1322.9,1345 1334.9,1338 1343.9,1363.6 1357.9,1340.6 1363.6,1284 1369.3,1345 1380.9,1363.6 1394.7,1354 1396.9,1293 1405.9,1382 1415.4,1380 1426.9,1326.8 1438.4,1313 1456.9,1336 1463.9,1373 1472.9,1373 1479.9,1313 1488.9,1326.8 1495.9,1354 1504.9,1329 1523.7,1354 1530.6,1322 1541.9,1320 1550.9,1284 1555.9,1315 1557.9,1345 1574.4,1354 1578.9,1329 1590.5,1331 1594.9,1311.8 1606.7,1373 1613.6,1311.8 1622.9,1320 1627.9,1391.5 1634.7,1331 1641.4,1339 1654.9,1373 1661.6,1331 1668.4,1302 1676.9,1307 1684.9,1326 1688.5,1294 1696.9,1346 1703.7,1300.6 1711.9,1284 1720.5,1354.5 1721.9,1309 1735.6,1312 1742.4,1321 1747.4,1363 1757.5,1358 1760.9,1329 1769.3,1331 1770.9,1294 1782.7,1273.7 1787.9,1344 1792.9,1381 1800.9,1311 1807.9,1363 1816.4,1391.5 1821.4,1358 1831.5,1348" fill="none" stroke="#000" stroke-width="4.6" stroke-linejoin="miter" stroke-miterlimit="3"/>
<polyline points="173.6,1308 189.7,1308 193.1,1363.6 208.1,1287.6 215.1,1329 235.8,1373 246.1,1269 253.1,1271.5 263.1,1322 275.1,1322 288.8,1345 296.9,1297 305.1,1366 317.6,1287.6 332.6,1363.6 347.6,1278 367.1,1373 374.1,1294.5 389.1,1253 394.8,1292 404.1,1297 409.8,1336 420.1,1303.7 424.8,1278.4 438.6,1278 442.1,1308 450.1,1278 462.8,1253 477.8,1278 494.1,1336 505.1,1294.5 517.1,1299 530.8,1333.7 544.6,1269 549.1,1299 555.9,1315 574.1,1317.5 574.1,1306 581.1,1354 590.5,1322 608.9,1391 622.7,1315 630.8,1373 641.1,1287.6 664.1,1333.7 680.1,1333.7 685,1260 691.9,1326.8 701.1,1287.6 708.1,1345 714.9,1294.5 721.8,1326.8 735.6,1260 740.1,1306 751.8,1252 755.1,1363.6 762.1,1340 767.9,1322 777.1,1354 786.1,1313 795.6,1336 804.8,1313 818.6,1373 823.1,1276 830.1,1326.8 855.1,1285 857.8,1347.5 869.1,1354 883.1,1331 890.1,1354 897.1,1333.7 908.1,1347.5 924.6,1313 926.7,1354 947.1,1354 947.1,1304 959.1,1294.5 970.1,1304 970.1,1336 979.7,1336 984.1,1294.5 991.1,1336 1002.7,1294.5 1012.1,1382 1030.1,1373 1039.6,1294.5 1047.7,1391 1055.7,1322 1065.1,1345 1074.1,1294.5 1081.1,1391 1092.6,1331 1104.1,1326.8 1113.1,1283 1124.9,1299 1130.6,1363.6 1147.9,1350 1166.1,1373 1180.1,1350 1194.1,1331 1210.1,1398 1221.6,1350 1237.8,1340.6 1244.7,1373 1253.9,1285 1263.1,1343 1279.1,1310.6 1290.8,1345 1295.1,1294.5 1295.1,1382 1304.1,1354 1313.6,1310.6 1325.1,1331 1327.1,1345 1339.1,1338 1348.1,1363.6 1362.1,1340.6 1367.8,1284 1373.5,1345 1385.1,1363.6 1398.9,1354 1401.1,1293 1410.1,1382 1419.6,1380 1431.1,1326.8 1442.6,1313 1461.1,1336 1468.1,1373 1477.1,1373 1484.1,1313 1493.1,1326.8 1500.1,1354 1509.1,1329 1527.9,1354 1534.8,1322 1546.1,1320 1555.1,1284 1560.1,1315 1562.1,1345 1578.6,1354 1583.1,1329 1594.7,1331 1599.1,1311.8 1610.9,1373 1617.8,1311.8 1627.1,1320 1632.1,1391.5 1638.9,1331 1645.6,1339 1659.1,1373 1665.8,1331 1672.6,1302 1681.1,1307 1689.1,1326 1692.7,1294 1701.1,1346 1707.9,1300.6 1716.1,1284 1724.7,1354.5 1726.1,1309 1739.8,1312 1746.6,1321 1751.6,1363 1761.7,1358 1765.1,1329 1773.5,1331 1775.1,1294 1786.9,1273.7 1792.1,1344 1797.1,1381 1805.1,1311 1812.1,1363 1820.6,1391.5 1825.6,1358 1835.7,1348" fill="none" stroke="#000" stroke-width="4.6" stroke-linejoin="miter" stroke-miterlimit="3"/>
<text x="783" y="1458" font-size="39.9" font-weight="bold" fill="#000" text-anchor="start" textLength="479.6" lengthAdjust="spacingAndGlyphs" font-family="'Liberation Sans', Arial, sans-serif">Resting state timepoints</text>
<line x1="170" y1="1482.2" x2="1813" y2="1482.2" stroke="#222" stroke-width="2.3"/>
<polygon points="1812,1472.4 1832,1482.2 1812,1492.3" fill="#000"/>
<line x1="190" y1="1849.3" x2="567" y2="1849.3" stroke="#c8c8c8" stroke-width="1.5"/>
<rect x="215.3" y="1831.1" width="21.5" height="17.7" fill="#fe6b6b" stroke="#b34a4a" stroke-width="0.9" stroke-opacity="0.55"/>
<rect x="236.8" y="1795.7" width="21.5" height="53.1" fill="#fe6b6b" stroke="#b34a4a" stroke-width="0.9" stroke-opacity="0.55"/>
<rect x="258.4" y="1802.8" width="21.5" height="46" fill="#fe6b6b" stroke="#b34a4a" stroke-width="0.9" stroke-opacity="0.55"/>
<rect x="279.9" y="1717.8" width="21.5" height="131" fill="#fe6b6b" stroke="#b34a4a" stroke-width="0.9" stroke-opacity="0.55"/>
<rect x="301.5" y="1693.7" width="21.5" height="155.1" fill="#fe6b6b" stroke="#b34a4a" stroke-width="0.9" stroke-opacity="0.55"/>
<rect x="323" y="1748.5" width="21.5" height="100.3" fill="#fe6b6b" stroke="#b34a4a" stroke-width="0.9" stroke-opacity="0.55"/>
<rect x="344.5" y="1651.6" width="21.5" height="197.2" fill="#fe6b6b" stroke="#b34a4a" stroke-width="0.9" stroke-opacity="0.55"/>
<rect x="366.1" y="1645.7" width="21.5" height="203.1" fill="#fe6b6b" stroke="#b34a4a" stroke-width="0.9" stroke-opacity="0.55"/>
<rect x="387.6" y="1723.2" width="21.5" height="125.6" fill="#fe6b6b" stroke="#b34a4a" stroke-width="0.9" stroke-opacity="0.55"/>
<rect x="409.2" y="1717.8" width="21.5" height="131" fill="#fe6b6b" stroke="#b34a4a" stroke-width="0.9" stroke-opacity="0.55"/>
<rect x="430.7" y="1760.3" width="21.5" height="88.5" fill="#fe6b6b" stroke="#b34a4a" stroke-width="0.9" stroke-opacity="0.55"/>
<rect x="452.2" y="1783.9" width="21.5" height="64.9" fill="#fe6b6b" stroke="#b34a4a" stroke-width="0.9" stroke-opacity="0.55"/>
<rect x="473.8" y="1795.7" width="21.5" height="53.1" fill="#fe6b6b" stroke="#b34a4a" stroke-width="0.9" stroke-opacity="0.55"/>
<rect x="495.3" y="1819.3" width="21.5" height="29.5" fill="#fe6b6b" stroke="#b34a4a" stroke-width="0.9" stroke-opacity="0.55"/>
<rect x="516.9" y="1819.3" width="21.5" height="29.5" fill="#fe6b6b" stroke="#b34a4a" stroke-width="0.9" stroke-opacity="0.55"/>
<rect x="466.5" y="1785" width="6" height="26" fill="#000"/>
<rect x="466.5" y="1834.7" width="6" height="24.8" fill="#000"/>
<rect x="466.5" y="1882" width="6" height="26" fill="#000"/>
<g font-family="'Liberation Sans', Arial, sans-serif" font-weight="bold" font-size="24.6">
<text x="264.4" y="1570" textLength="189" lengthAdjust="spacingAndGlyphs">Correlation (p)</text>
<text x="285" y="1605" textLength="148.4" lengthAdjust="spacingAndGlyphs">Rest/HAND</text>
</g>
<g font-family="'Liberation Sans', Arial, sans-serif" font-size="23">
<text x="178.3" y="1883" textLength="46" lengthAdjust="spacingAndGlyphs">-0.6</text>
<text x="314.5" y="1883" textLength="13.7" lengthAdjust="spacingAndGlyphs">0</text>
<text x="419.9" y="1883" textLength="35.9" lengthAdjust="spacingAndGlyphs">0.6</text>
</g>
<line x1="591" y1="1848.8" x2="1018" y2="1848.8" stroke="#c8c8c8" stroke-width="1.5"/>
<rect x="591.7" y="1846.7" width="28.3" height="1.6" fill="#f1cd7a" stroke="#a89050" stroke-width="0.9" stroke-opacity="0.55"/>
<rect x="620" y="1842.3" width="28.3" height="6" fill="#f1cd7a" stroke="#a89050" stroke-width="0.9" stroke-opacity="0.55"/>
<rect x="648.4" y="1827.6" width="28.3" height="20.7" fill="#f1cd7a" stroke="#a89050" stroke-width="0.9" stroke-opacity="0.55"/>
<rect x="676.7" y="1802.2" width="28.3" height="46.1" fill="#f1cd7a" stroke="#a89050" stroke-width="0.9" stroke-opacity="0.55"/>
<rect x="705.1" y="1747.2" width="28.3" height="101.1" fill="#f1cd7a" stroke="#a89050" stroke-width="0.9" stroke-opacity="0.55"/>
<rect x="733.4" y="1695.9" width="28.3" height="152.4" fill="#f1cd7a" stroke="#a89050" stroke-width="0.9" stroke-opacity="0.55"/>
<rect x="761.7" y="1711.4" width="28.3" height="136.9" fill="#f1cd7a" stroke="#a89050" stroke-width="0.9" stroke-opacity="0.55"/>
<rect x="790.1" y="1654.9" width="28.3" height="193.4" fill="#f1cd7a" stroke="#a89050" stroke-width="0.9" stroke-opacity="0.55"/>
<rect x="818.4" y="1736.8" width="28.3" height="111.5" fill="#f1cd7a" stroke="#a89050" stroke-width="0.9" stroke-opacity="0.55"/>
<rect x="846.8" y="1752.4" width="28.3" height="95.9" fill="#f1cd7a" stroke="#a89050" stroke-width="0.9" stroke-opacity="0.55"/>
<rect x="875.1" y="1752.4" width="28.3" height="95.9" fill="#f1cd7a" stroke="#a89050" stroke-width="0.9" stroke-opacity="0.55"/>
<rect x="903.4" y="1806.8" width="28.3" height="41.5" fill="#f1cd7a" stroke="#a89050" stroke-width="0.9" stroke-opacity="0.55"/>
<rect x="931.8" y="1812" width="28.3" height="36.3" fill="#f1cd7a" stroke="#a89050" stroke-width="0.9" stroke-opacity="0.55"/>
<rect x="960.1" y="1831.4" width="28.3" height="16.9" fill="#f1cd7a" stroke="#a89050" stroke-width="0.9" stroke-opacity="0.55"/>
<rect x="988.5" y="1841.8" width="28.3" height="6.5" fill="#f1cd7a" stroke="#a89050" stroke-width="0.9" stroke-opacity="0.55"/>
<rect x="902.3" y="1777.5" width="6" height="26" fill="#000"/>
<rect x="902.3" y="1825.5" width="6" height="25.9" fill="#000"/>
<rect x="902.3" y="1873.4" width="6" height="26" fill="#000"/>
<g font-family="'Liberation Sans', Arial, sans-serif" font-weight="bold" font-size="24.6">
<text x="707.3" y="1568.9" textLength="188.4" lengthAdjust="spacingAndGlyphs">Correlation (p)</text>
<text x="720" y="1602.6" textLength="162" lengthAdjust="spacingAndGlyphs">Rest/ROBOT</text>
</g>
<g font-family="'Liberation Sans', Arial, sans-serif" font-size="23">
<text x="583.9" y="1882.5" textLength="45.3" lengthAdjust="spacingAndGlyphs">-0.6</text>
<text x="735" y="1882.5" textLength="13.5" lengthAdjust="spacingAndGlyphs">0</text>
<text x="853.5" y="1882.5" textLength="35" lengthAdjust="spacingAndGlyphs">0.6</text>
</g>
<line x1="1061" y1="1849.5" x2="1087" y2="1849.5" stroke="#c8c8c8" stroke-width="1.5"/>
<rect x="1113.9" y="1837.2" width="26.4" height="11.8" fill="#a9cb80" stroke="#6f8a55" stroke-width="0.9" stroke-opacity="0.55"/>
<rect x="1140.3" y="1802.5" width="26.4" height="46.5" fill="#a9cb80" stroke="#6f8a55" stroke-width="0.9" stroke-opacity="0.55"/>
<rect x="1166.8" y="1731.9" width="26.4" height="117.1" fill="#a9cb80" stroke="#6f8a55" stroke-width="0.9" stroke-opacity="0.55"/>
<rect x="1193.2" y="1650.9" width="26.4" height="198.1" fill="#a9cb80" stroke="#6f8a55" stroke-width="0.9" stroke-opacity="0.55"/>
<rect x="1219.6" y="1713.3" width="26.4" height="135.7" fill="#a9cb80" stroke="#6f8a55" stroke-width="0.9" stroke-opacity="0.55"/>
<rect x="1246.1" y="1708.4" width="26.4" height="140.6" fill="#a9cb80" stroke="#6f8a55" stroke-width="0.9" stroke-opacity="0.55"/>
<rect x="1272.5" y="1684.8" width="26.4" height="164.2" fill="#a9cb80" stroke="#6f8a55" stroke-width="0.9" stroke-opacity="0.55"/>
<rect x="1298.9" y="1708.4" width="26.4" height="140.6" fill="#a9cb80" stroke="#6f8a55" stroke-width="0.9" stroke-opacity="0.55"/>
<rect x="1325.3" y="1696" width="26.4" height="153" fill="#a9cb80" stroke="#6f8a55" stroke-width="0.9" stroke-opacity="0.55"/>
<rect x="1351.8" y="1737.6" width="26.4" height="111.4" fill="#a9cb80" stroke="#6f8a55" stroke-width="0.9" stroke-opacity="0.55"/>
<rect x="1378.2" y="1837.2" width="26.4" height="11.8" fill="#a9cb80" stroke="#6f8a55" stroke-width="0.9" stroke-opacity="0.55"/>
<rect x="1404.6" y="1844" width="26.4" height="5" fill="#a9cb80" stroke="#6f8a55" stroke-width="0.9" stroke-opacity="0.55"/>
<rect x="1431.1" y="1844" width="26.4" height="5" fill="#a9cb80" stroke="#6f8a55" stroke-width="0.9" stroke-opacity="0.55"/>
<rect x="1373.5" y="1774" width="6" height="23.5" fill="#000"/>
<rect x="1373.5" y="1819.8" width="6" height="26.8" fill="#000"/>
<rect x="1373.5" y="1868" width="6" height="26" fill="#000"/>
<g font-family="'Liberation Sans', Arial, sans-serif" font-weight="bold" font-size="24.6">
<text x="1166" y="1574.6" textLength="188.8" lengthAdjust="spacingAndGlyphs">Correlation (p)</text>
<text x="1181.5" y="1608.8" textLength="157" lengthAdjust="spacingAndGlyphs">Rest/GLOVE</text>
</g>
<g font-family="'Liberation Sans', Arial, sans-serif" font-size="23">
<text x="1076" y="1881.7" textLength="47" lengthAdjust="spacingAndGlyphs">-0.6</text>
<text x="1213.5" y="1881.7" textLength="13.5" lengthAdjust="spacingAndGlyphs">0</text>
<text x="1318" y="1881.7" textLength="36" lengthAdjust="spacingAndGlyphs">0.6</text>
</g>
<line x1="1517.8" y1="1846.9" x2="1912" y2="1846.9" stroke="#c8c8c8" stroke-width="1.5"/>
<rect x="1553.4" y="1836.2" width="20.1" height="10.2" fill="#62a8d9" stroke="#3d6f94" stroke-width="0.9" stroke-opacity="0.55"/>
<rect x="1573.5" y="1805.3" width="20.1" height="41.1" fill="#62a8d9" stroke="#3d6f94" stroke-width="0.9" stroke-opacity="0.55"/>
<rect x="1593.5" y="1836.2" width="20.1" height="10.2" fill="#62a8d9" stroke="#3d6f94" stroke-width="0.9" stroke-opacity="0.55"/>
<rect x="1613.6" y="1783.5" width="20.1" height="62.9" fill="#62a8d9" stroke="#3d6f94" stroke-width="0.9" stroke-opacity="0.55"/>
<rect x="1633.6" y="1744.8" width="20.1" height="101.6" fill="#62a8d9" stroke="#3d6f94" stroke-width="0.9" stroke-opacity="0.55"/>
<rect x="1653.7" y="1708" width="20.1" height="138.4" fill="#62a8d9" stroke="#3d6f94" stroke-width="0.9" stroke-opacity="0.55"/>
<rect x="1673.7" y="1712.7" width="20.1" height="133.7" fill="#62a8d9" stroke="#3d6f94" stroke-width="0.9" stroke-opacity="0.55"/>
<rect x="1693.8" y="1728.9" width="20.1" height="117.5" fill="#62a8d9" stroke="#3d6f94" stroke-width="0.9" stroke-opacity="0.55"/>
<rect x="1713.8" y="1659.3" width="20.1" height="187.1" fill="#62a8d9" stroke="#3d6f94" stroke-width="0.9" stroke-opacity="0.55"/>
<rect x="1733.9" y="1708" width="20.1" height="138.4" fill="#62a8d9" stroke="#3d6f94" stroke-width="0.9" stroke-opacity="0.55"/>
<rect x="1753.9" y="1744.8" width="20.1" height="101.6" fill="#62a8d9" stroke="#3d6f94" stroke-width="0.9" stroke-opacity="0.55"/>
<rect x="1774" y="1740" width="20.1" height="106.4" fill="#62a8d9" stroke="#3d6f94" stroke-width="0.9" stroke-opacity="0.55"/>
<rect x="1794" y="1804.8" width="20.1" height="41.6" fill="#62a8d9" stroke="#3d6f94" stroke-width="0.9" stroke-opacity="0.55"/>
<rect x="1814.1" y="1788.2" width="20.1" height="58.2" fill="#62a8d9" stroke="#3d6f94" stroke-width="0.9" stroke-opacity="0.55"/>
<rect x="1834.1" y="1836.2" width="20.1" height="10.2" fill="#62a8d9" stroke="#3d6f94" stroke-width="0.9" stroke-opacity="0.55"/>
<rect x="1854.2" y="1831" width="12.6" height="15.4" fill="#62a8d9" stroke="#3d6f94" stroke-width="0.9" stroke-opacity="0.55"/>
<rect x="1832" y="1769.7" width="6" height="23.7" fill="#000"/>
<rect x="1832" y="1816" width="6" height="26" fill="#000"/>
<rect x="1832" y="1863.4" width="6" height="26.1" fill="#000"/>
<g font-family="'Liberation Sans', Arial, sans-serif" font-weight="bold" font-size="24.6">
<text x="1617.4" y="1580.3" textLength="188.6" lengthAdjust="spacingAndGlyphs">Correlation (p)</text>
<text x="1639.4" y="1614.3" textLength="145.8" lengthAdjust="spacingAndGlyphs">Rest/FOOD</text>
</g>
<g font-family="'Liberation Sans', Arial, sans-serif" font-size="23">
<text x="1520.9" y="1887.2" textLength="46.3" lengthAdjust="spacingAndGlyphs">-0.6</text>
<text x="1657" y="1887.2" textLength="13.4" lengthAdjust="spacingAndGlyphs">0</text>
<text x="1782.4" y="1887.2" textLength="36.8" lengthAdjust="spacingAndGlyphs">0.6</text>
</g>
<line x1="213.7" y1="2145" x2="521" y2="2145" stroke="#b89a50" stroke-width="2"/>
<line x1="213.7" y1="2145" x2="238" y2="2145" stroke="#9cbc6c" stroke-width="2"/>
<rect x="238.2" y="2132.3" width="25.56" height="8.7" fill="#f2cf7b"/>
<rect x="238.2" y="2141" width="25.56" height="2" fill="#f86a6a"/>
<rect x="238.2" y="2143" width="25.56" height="2" fill="#b08c34"/>
<rect x="238.2" y="2132.3" width="25.56" height="12.7" fill="none" stroke="#8a7040" stroke-opacity="0.5" stroke-width="0.8"/>
<rect x="263.8" y="2112.8" width="25.56" height="6.8" fill="#f2cf7b"/>
<rect x="263.8" y="2119.6" width="25.56" height="3" fill="#f86a6a"/>
<rect x="263.8" y="2122.6" width="25.56" height="22.4" fill="#b08c34"/>
<rect x="263.8" y="2112.8" width="25.56" height="32.2" fill="none" stroke="#8a7040" stroke-opacity="0.5" stroke-width="0.8"/>
<rect x="289.3" y="2037" width="25.56" height="26.8" fill="#f2cf7b"/>
<rect x="289.3" y="2063.8" width="25.56" height="22.5" fill="#a9bd52"/>
<rect x="289.3" y="2086.3" width="25.56" height="58.7" fill="#b08c34"/>
<rect x="289.3" y="2037" width="25.56" height="108" fill="none" stroke="#8a7040" stroke-opacity="0.5" stroke-width="0.8"/>
<rect x="314.9" y="2014.8" width="25.56" height="4" fill="#a9bd52"/>
<rect x="314.9" y="2018.8" width="25.56" height="43" fill="#b8914a"/>
<rect x="314.9" y="2061.8" width="25.56" height="83.2" fill="#b08c34"/>
<rect x="314.9" y="2014.8" width="25.56" height="130.2" fill="none" stroke="#8a7040" stroke-opacity="0.5" stroke-width="0.8"/>
<rect x="340.4" y="1990.4" width="25.56" height="11.7" fill="#f86a6a"/>
<rect x="340.4" y="2002.1" width="25.56" height="15.7" fill="#fa5030"/>
<rect x="340.4" y="2017.8" width="25.56" height="127.2" fill="#b08c34"/>
<rect x="340.4" y="1990.4" width="25.56" height="154.6" fill="none" stroke="#8a7040" stroke-opacity="0.5" stroke-width="0.8"/>
<rect x="366" y="2000.1" width="25.56" height="11.8" fill="#f86a6a"/>
<rect x="366" y="2011.9" width="25.56" height="9.8" fill="#b8914a"/>
<rect x="366" y="2021.7" width="25.56" height="123.3" fill="#b08c34"/>
<rect x="366" y="2000.1" width="25.56" height="144.9" fill="none" stroke="#8a7040" stroke-opacity="0.5" stroke-width="0.8"/>
<rect x="391.6" y="2036.8" width="25.56" height="1.5" fill="#a9bd52"/>
<rect x="391.6" y="2038.3" width="25.56" height="13.7" fill="#b8914a"/>
<rect x="391.6" y="2052" width="25.56" height="93" fill="#b08c34"/>
<rect x="391.6" y="2036.8" width="25.56" height="108.2" fill="none" stroke="#8a7040" stroke-opacity="0.5" stroke-width="0.8"/>
<rect x="417.1" y="2060.9" width="25.56" height="21.5" fill="#add488"/>
<rect x="417.1" y="2082.4" width="25.56" height="9.8" fill="#a9bd52"/>
<rect x="417.1" y="2092.2" width="25.56" height="52.8" fill="#b08c34"/>
<rect x="417.1" y="2060.9" width="25.56" height="84.1" fill="none" stroke="#8a7040" stroke-opacity="0.5" stroke-width="0.8"/>
<rect x="442.7" y="2112.8" width="25.56" height="11.7" fill="#fa5030"/>
<rect x="442.7" y="2124.5" width="25.56" height="20.5" fill="#b08c34"/>
<rect x="442.7" y="2112.8" width="25.56" height="32.2" fill="none" stroke="#8a7040" stroke-opacity="0.5" stroke-width="0.8"/>
<rect x="468.2" y="2122.6" width="25.56" height="12.7" fill="#f2cf7b"/>
<rect x="468.2" y="2135.3" width="25.56" height="1.9" fill="#f86a6a"/>
<rect x="468.2" y="2137.2" width="25.56" height="7.8" fill="#b08c34"/>
<rect x="468.2" y="2122.6" width="25.56" height="22.4" fill="none" stroke="#8a7040" stroke-opacity="0.5" stroke-width="0.8"/>
<rect x="263.6" y="2141.2" width="12.78" height="3.8" fill="#6aa8a0" stroke="#4a7a74" stroke-opacity="0.6" stroke-width="0.8"/>
<rect x="276.4" y="2123.5" width="12.78" height="21.5" fill="#6aa8a0" stroke="#4a7a74" stroke-opacity="0.6" stroke-width="0.8"/>
<rect x="289.2" y="2141.2" width="12.78" height="3.8" fill="#6aa8a0" stroke="#4a7a74" stroke-opacity="0.6" stroke-width="0.8"/>
<rect x="301.9" y="2109.8" width="12.78" height="35.2" fill="#6aa8a0" stroke="#4a7a74" stroke-opacity="0.6" stroke-width="0.8"/>
<rect x="314.7" y="2088.3" width="12.78" height="56.7" fill="#6aa8a0" stroke="#4a7a74" stroke-opacity="0.6" stroke-width="0.8"/>
<rect x="327.5" y="2067.3" width="12.78" height="77.7" fill="#6aa8a0" stroke="#4a7a74" stroke-opacity="0.6" stroke-width="0.8"/>
<rect x="340.3" y="2070.7" width="12.78" height="74.3" fill="#6aa8a0" stroke="#4a7a74" stroke-opacity="0.6" stroke-width="0.8"/>
<rect x="353.1" y="2079.9" width="12.78" height="65.1" fill="#6aa8a0" stroke="#4a7a74" stroke-opacity="0.6" stroke-width="0.8"/>
<rect x="365.8" y="2039.3" width="12.78" height="105.7" fill="#6aa8a0" stroke="#4a7a74" stroke-opacity="0.6" stroke-width="0.8"/>
<rect x="378.6" y="2067.3" width="12.78" height="77.7" fill="#6aa8a0" stroke="#4a7a74" stroke-opacity="0.6" stroke-width="0.8"/>
<rect x="391.4" y="2088.3" width="12.78" height="56.7" fill="#6aa8a0" stroke="#4a7a74" stroke-opacity="0.6" stroke-width="0.8"/>
<rect x="404.2" y="2085.3" width="12.78" height="59.7" fill="#6aa8a0" stroke="#4a7a74" stroke-opacity="0.6" stroke-width="0.8"/>
<rect x="417" y="2122.6" width="12.78" height="22.4" fill="#6aa8a0" stroke="#4a7a74" stroke-opacity="0.6" stroke-width="0.8"/>
<rect x="429.7" y="2112.8" width="12.78" height="32.2" fill="#6aa8a0" stroke="#4a7a74" stroke-opacity="0.6" stroke-width="0.8"/>
<rect x="442.5" y="2140.2" width="12.78" height="4.8" fill="#6aa8a0" stroke="#4a7a74" stroke-opacity="0.6" stroke-width="0.8"/>
<rect x="455.3" y="2137.2" width="12.78" height="7.8" fill="#6aa8a0" stroke="#4a7a74" stroke-opacity="0.6" stroke-width="0.8"/>
<path d="M477,2270 C486.8,2262.7 515.4,2247.9 536,2226 C556.6,2204.1 581.7,2162.1 600.7,2138.7 C619.7,2115.3 634.2,2099.4 650,2085.5 C665.8,2071.6 680.5,2063.2 695.7,2055 C710.9,2046.8 730,2038.2 741.4,2036 C752.8,2033.8 753.9,2035.4 764,2041.7 C774.1,2048 786.2,2059.1 802,2074 C817.8,2088.9 841.8,2115.2 859,2131 C876.2,2146.8 889.2,2155.7 905,2169 C920.8,2182.3 938.2,2198.3 954,2211 C969.8,2223.7 986.7,2235.8 1000,2245 C1013.3,2254.2 1028.3,2262.5 1034,2266" fill="none" stroke="#e3242b" stroke-width="2.2"/>
<path d="M513,2270 C523.2,2262.7 553.7,2251.1 574,2226 C594.3,2200.9 616,2153.9 635,2119.7 C654,2085.5 671.5,2043.9 688,2020.8 C704.5,1997.7 719.8,1982.9 733.8,1981 C747.8,1979.1 760.4,1995.2 771.8,2009.4 C783.2,2023.7 790.6,2049.4 802,2066.5 C813.4,2083.6 822.8,2091.8 840,2112 C857.2,2132.2 886,2167.1 905,2188 C924,2208.9 938.2,2224.6 954,2237.6 C969.8,2250.6 992.3,2261.3 1000,2266" fill="none" stroke="#d99a32" stroke-width="2.2"/>
<path d="M536,2270 C545.5,2261.4 574,2247.3 593,2218.5 C612,2189.7 631,2126.2 650,2097 C669,2067.8 688,2057.1 707,2043.6 C726,2030.1 750,2018.5 764,2016 C778,2013.5 778.1,2012.4 790.8,2028.4 C803.5,2044.4 821,2082.2 840,2112 C859,2141.8 885.3,2181.3 905,2207 C924.7,2232.7 949.2,2256.2 958,2266" fill="none" stroke="#2b88c8" stroke-width="2.2"/>
<path d="M501.8,2270 C510.7,2264 537.9,2256.3 555,2233.8 C572.1,2211.3 589.9,2164.1 604.5,2135 C619.1,2105.9 629.8,2078.7 642.5,2059 C655.2,2039.3 668.4,2024.2 680.5,2017 C692.6,2009.8 703.6,2015 715,2016 C726.4,2017 735.7,2022.2 749,2022.7 C762.3,2023.2 779.4,2014.9 794.6,2019 C809.8,2023.1 825.4,2032 840,2047.5 C854.6,2063 870.9,2093 882,2112 C893.1,2131 897.9,2144.4 906.7,2161.5 C915.5,2178.6 919.5,2197.3 935,2214.7 C950.5,2232.1 989.2,2257.4 1000,2266" fill="none" stroke="#1f8b24" stroke-width="2.2"/>
<circle cx="730" cy="2042" r="1.6" fill="#111"/>
<line x1="905.3" y1="2021.9" x2="905.3" y2="2032.8" stroke="#000" stroke-width="5.8"/>
<line x1="905.3" y1="2050.5" x2="905.3" y2="2361" stroke="#000" stroke-width="5.8" stroke-dasharray="18.3 17.5"/>
<rect x="907" y="2170" width="192" height="97" fill="none" stroke="#000" stroke-width="4.2"/>
<text x="928" y="2051.3" font-size="54.6" font-weight="bold" fill="#000" text-anchor="start" textLength="117.4" lengthAdjust="spacingAndGlyphs" font-family="'Liberation Sans', Arial, sans-serif">U 90</text>
<line x1="1099" y1="2161" x2="1397" y2="1977" stroke="#000" stroke-width="3" stroke-dasharray="11 7"/>
<line x1="1099" y1="2268" x2="1397" y2="2251" stroke="#000" stroke-width="3" stroke-dasharray="11 7"/>
<rect x="1399" y="1978" width="442" height="266" fill="none" stroke="#000" stroke-width="4.4"/>
<line x1="1532" y1="2231.5" x2="1532" y2="2244" stroke="#000" stroke-width="2"/>
<path d="M1405,1985.4 C1408,1988.2 1416.9,1996.5 1422.9,2001.8 C1428.8,2007.2 1434.8,2012.4 1440.7,2017.5 C1446.7,2022.7 1452.7,2027.7 1458.6,2032.6 C1464.6,2037.5 1470.5,2042.3 1476.5,2047 C1482.4,2051.8 1488.4,2056.4 1494.3,2060.9 C1500.3,2065.4 1506.3,2069.8 1512.2,2074.2 C1518.2,2078.5 1524.1,2082.7 1530.1,2086.9 C1536,2091.1 1542,2095.1 1548,2099.1 C1553.9,2103.1 1559.9,2107 1565.8,2110.8 C1571.8,2114.6 1577.7,2118.4 1583.7,2122 C1589.7,2125.7 1595.6,2129.3 1601.6,2132.8 C1607.5,2136.3 1613.5,2139.7 1619.4,2143.1 C1625.4,2146.4 1631.3,2149.7 1637.3,2152.9 C1643.3,2156.2 1649.2,2159.3 1655.2,2162.4 C1661.1,2165.5 1667.1,2168.5 1673,2171.5 C1679,2174.5 1685,2177.4 1690.9,2180.2 C1696.9,2183.1 1702.8,2185.8 1708.8,2188.6 C1714.7,2191.3 1720.7,2193.9 1726.7,2196.6 C1732.6,2199.2 1738.6,2201.7 1744.5,2204.2 C1750.5,2206.7 1756.4,2209.2 1762.4,2211.6 C1768.3,2214 1774.3,2216.3 1780.3,2218.6 C1786.2,2220.9 1792.2,2223.2 1798.1,2225.4 C1804.1,2227.6 1813,2230.8 1816,2231.9" fill="none" stroke="#e3242b" stroke-width="4.6"/>
<path d="M1405,2033.1 C1407.4,2035.5 1414.5,2042.8 1419.3,2047.5 C1424.1,2052.1 1428.9,2056.6 1433.6,2061.1 C1438.4,2065.5 1443.2,2069.8 1448,2074 C1452.7,2078.3 1457.5,2082.4 1462.3,2086.4 C1467.1,2090.4 1471.8,2094.3 1476.6,2098.1 C1481.4,2101.9 1486.2,2105.6 1490.9,2109.3 C1495.7,2112.9 1500.5,2116.4 1505.3,2119.9 C1510,2123.3 1514.8,2126.7 1519.6,2130 C1524.3,2133.3 1529.1,2136.5 1533.9,2139.6 C1538.7,2142.7 1543.4,2145.8 1548.2,2148.7 C1553,2151.7 1557.8,2154.6 1562.5,2157.4 C1567.3,2160.3 1572.1,2163 1576.9,2165.7 C1581.6,2168.4 1586.4,2171 1591.2,2173.6 C1596,2176.2 1600.7,2178.6 1605.5,2181.1 C1610.3,2183.5 1615.1,2185.9 1619.8,2188.2 C1624.6,2190.5 1629.4,2192.8 1634.1,2195 C1638.9,2197.2 1643.7,2199.4 1648.5,2201.4 C1653.2,2203.5 1658,2205.6 1662.8,2207.6 C1667.6,2209.6 1672.3,2211.5 1677.1,2213.4 C1681.9,2215.3 1686.7,2217.2 1691.4,2219 C1696.2,2220.8 1701,2222.6 1705.8,2224.3 C1710.5,2226 1715.3,2227.7 1720.1,2229.3 C1724.9,2230.9 1732,2233.3 1734.4,2234.1" fill="none" stroke="#d99a32" stroke-width="4.6"/>
<path d="M1405,1993.2 C1407.6,1997.9 1415.4,2012.5 1420.6,2021.4 C1425.8,2030.3 1431,2038.6 1436.2,2046.5 C1441.5,2054.4 1446.7,2061.7 1451.9,2068.8 C1457.1,2075.8 1462.3,2082.3 1467.5,2088.6 C1472.7,2094.8 1477.9,2100.6 1483.1,2106.1 C1488.3,2111.7 1493.5,2116.9 1498.7,2121.8 C1503.9,2126.7 1509.1,2131.3 1514.4,2135.7 C1519.6,2140 1524.8,2144.1 1530,2148 C1535.2,2151.9 1540.4,2155.5 1545.6,2158.9 C1550.8,2162.4 1556,2165.6 1561.2,2168.7 C1566.4,2171.7 1571.6,2174.6 1576.8,2177.3 C1582,2180 1587.3,2182.6 1592.5,2185 C1597.7,2187.4 1602.9,2189.7 1608.1,2191.8 C1613.3,2194 1618.5,2196 1623.7,2197.9 C1628.9,2199.8 1634.1,2201.6 1639.3,2203.3 C1644.5,2205 1649.7,2206.6 1654.9,2208.1 C1660.2,2209.6 1665.4,2211 1670.6,2212.3 C1675.8,2213.7 1681,2214.9 1686.2,2216.1 C1691.4,2217.3 1696.6,2218.4 1701.8,2219.5 C1707,2220.5 1712.2,2221.5 1717.4,2222.5 C1722.6,2223.4 1727.8,2224.3 1733.1,2225.1 C1738.3,2225.9 1743.5,2226.7 1748.7,2227.5 C1753.9,2228.2 1761.7,2229.2 1764.3,2229.6" fill="none" stroke="#1f8b24" stroke-width="4.6"/>
<path d="M1405,2090 C1406.4,2091.7 1410.5,2096.9 1413.3,2100.2 C1416.1,2103.5 1418.8,2106.8 1421.6,2109.9 C1424.4,2113.1 1427.1,2116.2 1429.9,2119.2 C1432.7,2122.2 1435.4,2125.1 1438.2,2128 C1441,2130.9 1443.8,2133.7 1446.5,2136.4 C1449.3,2139.2 1452.1,2141.8 1454.8,2144.4 C1457.6,2147 1460.4,2149.6 1463.1,2152.1 C1465.9,2154.6 1468.7,2157 1471.4,2159.3 C1474.2,2161.7 1477,2164 1479.7,2166.3 C1482.5,2168.5 1485.3,2170.7 1488,2172.9 C1490.8,2175 1493.6,2177.1 1496.3,2179.2 C1499.1,2181.2 1501.9,2183.2 1504.7,2185.2 C1507.4,2187.1 1510.2,2189 1513,2190.9 C1515.7,2192.7 1518.5,2194.5 1521.3,2196.3 C1524,2198.1 1526.8,2199.8 1529.6,2201.5 C1532.3,2203.2 1535.1,2204.8 1537.9,2206.4 C1540.6,2208 1543.4,2209.6 1546.2,2211.1 C1548.9,2212.6 1551.7,2214.1 1554.5,2215.6 C1557.2,2217.1 1560,2218.5 1562.8,2219.9 C1565.6,2221.3 1568.3,2222.6 1571.1,2223.9 C1573.9,2225.3 1576.6,2226.5 1579.4,2227.8 C1582.2,2229.1 1584.9,2230.3 1587.7,2231.5 C1590.5,2232.7 1594.6,2234.4 1596,2235" fill="none" stroke="#2b88c8" stroke-width="4.6"/>
</svg>
</body></html>
